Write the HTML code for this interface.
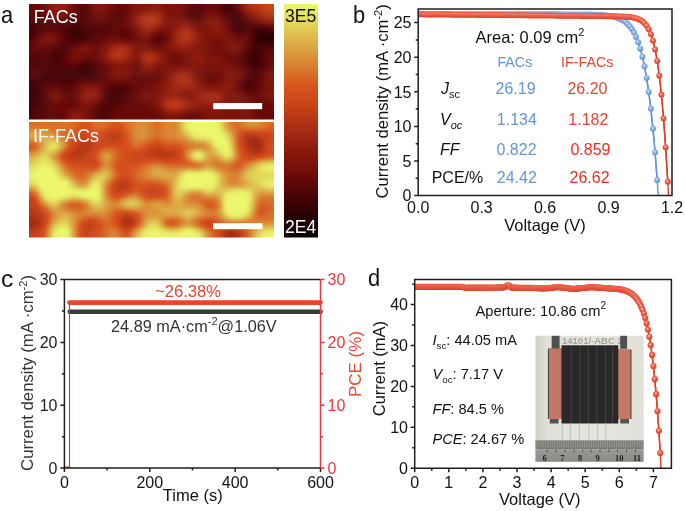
<!DOCTYPE html>
<html><head><meta charset="utf-8"><style>
html,body{margin:0;padding:0;background:#fff;}
body{width:685px;height:511px;overflow:hidden;}
svg{display:block;font-family:"Liberation Sans", sans-serif;will-change:transform;}
</style></head><body>
<svg width="685" height="511" viewBox="0 0 685 511">
<defs><clipPath id="ct"><rect x="29" y="4" width="245" height="115.5"/></clipPath><filter id="ft" x="-20%" y="-20%" width="140%" height="140%" color-interpolation-filters="sRGB"><feGaussianBlur stdDeviation="2.6"/><feComponentTransfer><feFuncR type="table" tableValues="0.0196 0.0570 0.0944 0.1318 0.1691 0.2065 0.2444 0.2829 0.3213 0.3598 0.3975 0.4313 0.4650 0.4947 0.5219 0.5490 0.5797 0.6103 0.6409 0.6716 0.7022 0.7328 0.7635 0.7911 0.8122 0.8333 0.8409 0.8432 0.8455 0.8485 0.8531 0.8576 0.8622 0.8658 0.8692 0.8726 0.8815 0.8961 0.9059 0.9157 0.9255"/><feFuncG type="table" tableValues="0.0000 0.0014 0.0028 0.0042 0.0056 0.0071 0.0103 0.0158 0.0213 0.0268 0.0338 0.0491 0.0645 0.0778 0.0899 0.1020 0.1234 0.1449 0.1650 0.1833 0.2017 0.2255 0.2500 0.2715 0.2866 0.3017 0.3408 0.3892 0.4376 0.4852 0.5308 0.5764 0.6220 0.6686 0.7153 0.7621 0.8091 0.8549 0.8941 0.9333 0.9725"/><feFuncB type="table" tableValues="0.0000 0.0042 0.0085 0.0127 0.0169 0.0212 0.0243 0.0262 0.0280 0.0298 0.0319 0.0349 0.0380 0.0410 0.0440 0.0471 0.0593 0.0716 0.0784 0.0784 0.0784 0.0838 0.0900 0.0960 0.1021 0.1081 0.1231 0.1415 0.1600 0.1798 0.2026 0.2254 0.2482 0.2720 0.2960 0.3199 0.3375 0.3505 0.3775 0.4044 0.4314"/><feFuncA type="identity"/></feComponentTransfer></filter><clipPath id="cb"><rect x="29" y="122" width="245" height="115.5"/></clipPath><filter id="fb" x="-20%" y="-20%" width="140%" height="140%" color-interpolation-filters="sRGB"><feGaussianBlur stdDeviation="2.6"/><feComponentTransfer><feFuncR type="table" tableValues="0.0196 0.0570 0.0944 0.1318 0.1691 0.2065 0.2444 0.2829 0.3213 0.3598 0.3975 0.4313 0.4650 0.4947 0.5219 0.5490 0.5797 0.6103 0.6409 0.6716 0.7022 0.7328 0.7635 0.7911 0.8122 0.8333 0.8409 0.8432 0.8455 0.8485 0.8531 0.8576 0.8622 0.8658 0.8692 0.8726 0.8815 0.8961 0.9059 0.9157 0.9255"/><feFuncG type="table" tableValues="0.0000 0.0014 0.0028 0.0042 0.0056 0.0071 0.0103 0.0158 0.0213 0.0268 0.0338 0.0491 0.0645 0.0778 0.0899 0.1020 0.1234 0.1449 0.1650 0.1833 0.2017 0.2255 0.2500 0.2715 0.2866 0.3017 0.3408 0.3892 0.4376 0.4852 0.5308 0.5764 0.6220 0.6686 0.7153 0.7621 0.8091 0.8549 0.8941 0.9333 0.9725"/><feFuncB type="table" tableValues="0.0000 0.0042 0.0085 0.0127 0.0169 0.0212 0.0243 0.0262 0.0280 0.0298 0.0319 0.0349 0.0380 0.0410 0.0440 0.0471 0.0593 0.0716 0.0784 0.0784 0.0784 0.0838 0.0900 0.0960 0.1021 0.1081 0.1231 0.1415 0.1600 0.1798 0.2026 0.2254 0.2482 0.2720 0.2960 0.3199 0.3375 0.3505 0.3775 0.4044 0.4314"/><feFuncA type="identity"/></feComponentTransfer></filter><linearGradient id="cbar" x1="0" y1="0" x2="0" y2="1"><stop offset="0" stop-color="rgb(236,248,110)"/><stop offset="0.05" stop-color="rgb(231,227,96)"/><stop offset="0.1" stop-color="rgb(224,206,86)"/><stop offset="0.15" stop-color="rgb(221,182,75)"/><stop offset="0.2" stop-color="rgb(219,158,63)"/><stop offset="0.25" stop-color="rgb(217,135,51)"/><stop offset="0.3" stop-color="rgb(215,111,40)"/><stop offset="0.35" stop-color="rgb(214,86,31)"/><stop offset="0.4" stop-color="rgb(207,73,26)"/><stop offset="0.45" stop-color="rgb(194,63,22)"/><stop offset="0.5" stop-color="rgb(179,51,20)"/><stop offset="0.55" stop-color="rgb(163,42,20)"/><stop offset="0.6" stop-color="rgb(147,31,15)"/><stop offset="0.65" stop-color="rgb(133,22,11)"/><stop offset="0.7" stop-color="rgb(118,16,9)"/><stop offset="0.75" stop-color="rgb(101,8,8)"/><stop offset="0.8" stop-color="rgb(81,5,7)"/><stop offset="0.85" stop-color="rgb(62,2,6)"/><stop offset="0.9" stop-color="rgb(43,1,4)"/><stop offset="0.95" stop-color="rgb(24,0,2)"/><stop offset="1" stop-color="rgb(5,0,0)"/></linearGradient><radialGradient id="gr" cx="0.45" cy="0.4" r="0.6" fx="0.42" fy="0.35"><stop offset="0" stop-color="#fbe0d8"/><stop offset="0.35" stop-color="#ec6a52"/><stop offset="1" stop-color="#e23b24"/></radialGradient><radialGradient id="gb" cx="0.45" cy="0.4" r="0.6" fx="0.42" fy="0.35"><stop offset="0" stop-color="#eef4fc"/><stop offset="0.35" stop-color="#8db5e6"/><stop offset="1" stop-color="#5f93d3"/></radialGradient><clipPath id="cpb"><rect x="418.2" y="9" width="253.8" height="186.6"/></clipPath><linearGradient id="phbg" x1="0" y1="0" x2="1" y2="0"><stop offset="0" stop-color="#d2d2ca"/><stop offset="0.1" stop-color="#dedfd7"/><stop offset="0.5" stop-color="#e6e6df"/><stop offset="1" stop-color="#e0e0d8"/></linearGradient><linearGradient id="rul" x1="0" y1="0" x2="0" y2="1"><stop offset="0" stop-color="#9a9892"/><stop offset="1" stop-color="#8e8c86"/></linearGradient><clipPath id="cpd"><rect x="414.7" y="279.5" width="256.7" height="188.7"/></clipPath></defs>
<rect width="685" height="511" fill="#fff"/>
<g clip-path="url(#ct)"><g filter="url(#ft)"><path fill="#181818" d="M258.7 32.9H264.2V38.1H258.7Z"/><path fill="#191919" d="M258.7 37.7H264.2V42.9H258.7Z"/><path fill="#1a1a1a" d="M263.8 32.9H269.3V38.1H263.8Z"/><path fill="#1b1b1b" d="M279.1 32.9H284.6V38.1H279.1Z"/><path fill="#1c1c1c" d="M268.9 32.9H274.4V38.1H268.9ZM274 32.9H279.5V38.1H274ZM263.8 37.7H269.3V42.9H263.8Z"/><path fill="#1d1d1d" d="M268.9 37.7H274.4V42.9H268.9ZM274 37.7H279.5V42.9H274ZM279.1 37.7H284.6V42.9H279.1Z"/><path fill="#202020" d="M258.7 28.1H264.2V33.3H258.7Z"/><path fill="#212121" d="M253.6 32.9H259.1V38.1H253.6Z"/><path fill="#222222" d="M253.6 37.7H259.1V42.9H253.6Z"/><path fill="#232323" d="M85.1 71.4H90.7V76.6H85.1ZM90.2 71.4H95.8V76.6H90.2Z"/><path fill="#242424" d="M253.6 28.1H259.1V33.3H253.6ZM74.9 32.9H80.4V38.1H74.9ZM258.7 42.5H264.2V47.7H258.7ZM253.6 56.9H259.1V62.1H253.6ZM80 71.4H85.5V76.6H80Z"/><path fill="#252525" d="M80 32.9H85.5V38.1H80ZM248.5 52.1H254V57.3H248.5ZM253.6 52.1H259.1V57.3H253.6ZM80 66.6H85.5V71.8H80ZM85.1 66.6H90.7V71.8H85.1ZM23.9 85.8H29.4V91H23.9ZM29 85.8H34.5V91H29ZM29 90.6H34.5V95.8H29ZM29 100.2H34.5V105.5H29Z"/><path fill="#262626" d="M233.2 18.4H238.7V23.6H233.2ZM238.3 23.2H243.8V28.5H238.3ZM74.9 28.1H80.4V33.3H74.9ZM248.5 56.9H254V62.1H248.5ZM253.6 61.8H259.1V67H253.6ZM74.9 71.4H80.4V76.6H74.9ZM18.8 85.8H24.3V91H18.8ZM18.8 90.6H24.3V95.8H18.8ZM23.9 90.6H29.4V95.8H23.9ZM18.8 95.4H24.3V100.7H18.8ZM23.9 95.4H29.4V100.7H23.9ZM29 95.4H34.5V100.7H29ZM18.8 100.2H24.3V105.5H18.8ZM23.9 100.2H29.4V105.5H23.9Z"/><path fill="#272727" d="M238.3 18.4H243.8V23.6H238.3ZM233.2 23.2H238.7V28.5H233.2ZM29 28.1H34.5V33.3H29ZM69.8 28.1H75.3V33.3H69.8ZM263.8 28.1H269.3V33.3H263.8ZM69.8 32.9H75.3V38.1H69.8ZM253.6 42.5H259.1V47.7H253.6ZM253.6 47.3H259.1V52.5H253.6ZM69.8 71.4H75.3V76.6H69.8Z"/><path fill="#282828" d="M18.8 23.2H24.3V28.5H18.8ZM23.9 23.2H29.4V28.5H23.9ZM29 23.2H34.5V28.5H29ZM18.8 28.1H24.3V33.3H18.8ZM23.9 28.1H29.4V33.3H23.9ZM44.3 71.4H49.8V76.6H44.3ZM49.4 71.4H54.9V76.6H49.4ZM54.5 71.4H60V76.6H54.5ZM59.6 71.4H65.1V76.6H59.6ZM64.7 71.4H70.2V76.6H64.7ZM44.3 76.2H49.8V81.4H44.3ZM34.1 85.8H39.6V91H34.1ZM110.7 95.4H116.2V100.7H110.7ZM34.1 100.2H39.6V105.5H34.1Z"/><path fill="#292929" d="M228.1 -5.6H233.6V-0.4H228.1ZM228.1 -0.8H233.6V4.4H228.1ZM223 4H228.5V9.2H223ZM228.1 4H233.6V9.2H228.1ZM279.1 28.1H284.6V33.3H279.1ZM85.1 32.9H90.7V38.1H85.1ZM54.5 52.1H60V57.3H54.5ZM253.6 66.6H259.1V71.8H253.6ZM59.6 76.2H65.1V81.4H59.6ZM64.7 76.2H70.2V81.4H64.7ZM18.8 81H24.3V86.2H18.8ZM23.9 81H29.4V86.2H23.9ZM29 81H34.5V86.2H29ZM34.1 90.6H39.6V95.8H34.1ZM110.7 90.6H116.2V95.8H110.7ZM115.8 90.6H121.3V95.8H115.8ZM34.1 95.4H39.6V100.7H34.1ZM18.8 105.1H24.3V110.3H18.8ZM23.9 105.1H29.4V110.3H23.9ZM29 105.1H34.5V110.3H29Z"/><path fill="#2a2a2a" d="M223 -5.6H228.5V-0.4H223ZM223 -0.8H228.5V4.4H223ZM228.1 8.8H233.6V14H228.1ZM233.2 13.6H238.7V18.8H233.2ZM34.1 23.2H39.6V28.5H34.1ZM268.9 28.1H274.4V33.3H268.9ZM274 28.1H279.5V33.3H274ZM49.4 52.1H54.9V57.3H49.4ZM49.4 56.9H54.9V62.1H49.4ZM54.5 56.9H60V62.1H54.5ZM258.7 61.8H264.2V67H258.7ZM39.2 76.2H44.7V81.4H39.2ZM49.4 76.2H54.9V81.4H49.4ZM54.5 76.2H60V81.4H54.5ZM69.8 76.2H75.3V81.4H69.8ZM248.5 81H254V86.2H248.5ZM115.8 95.4H121.3V100.7H115.8Z"/><path fill="#2b2b2b" d="M69.8 23.2H75.3V28.5H69.8ZM74.9 23.2H80.4V28.5H74.9ZM263.8 42.5H269.3V47.7H263.8ZM258.7 47.3H264.2V52.5H258.7ZM39.2 71.4H44.7V76.6H39.2ZM95.4 71.4H100.9V76.6H95.4ZM34.1 81H39.6V86.2H34.1ZM243.4 81H248.9V86.2H243.4ZM34.1 105.1H39.6V110.3H34.1Z"/><path fill="#2c2c2c" d="M34.1 28.1H39.6V33.3H34.1ZM74.9 37.7H80.4V42.9H74.9ZM248.5 47.3H254V52.5H248.5ZM258.7 52.1H264.2V57.3H258.7ZM258.7 56.9H264.2V62.1H258.7ZM74.9 66.6H80.4V71.8H74.9ZM90.2 66.6H95.8V71.8H90.2ZM74.9 76.2H80.4V81.4H74.9Z"/><path fill="#2d2d2d" d="M223 8.8H228.5V14H223ZM228.1 13.6H233.6V18.8H228.1ZM238.3 28.1H243.8V33.3H238.3ZM69.8 37.7H75.3V42.9H69.8ZM274 42.5H279.5V47.7H274ZM279.1 42.5H284.6V47.7H279.1ZM243.4 56.9H248.9V62.1H243.4ZM85.1 61.8H90.7V67H85.1ZM248.5 61.8H254V67H248.5ZM90.2 76.2H95.8V81.4H90.2ZM243.4 85.8H248.9V91H243.4ZM248.5 85.8H254V91H248.5ZM105.6 95.4H111.1V100.7H105.6Z"/><path fill="#2e2e2e" d="M80 28.1H85.5V33.3H80ZM29 32.9H34.5V38.1H29ZM80 37.7H85.5V42.9H80ZM268.9 42.5H274.4V47.7H268.9ZM54.5 47.3H60V52.5H54.5ZM243.4 52.1H248.9V57.3H243.4ZM80 61.8H85.5V67H80ZM258.7 66.6H264.2V71.8H258.7ZM115.8 85.8H121.3V91H115.8Z"/><path fill="#2f2f2f" d="M39.2 23.2H44.7V28.5H39.2ZM23.9 32.9H29.4V38.1H23.9ZM64.7 32.9H70.2V38.1H64.7ZM59.6 52.1H65.1V57.3H59.6ZM253.6 71.4H259.1V76.6H253.6ZM34.1 76.2H39.6V81.4H34.1ZM80 76.2H85.5V81.4H80ZM85.1 76.2H90.7V81.4H85.1ZM248.5 76.2H254V81.4H248.5ZM39.2 81H44.7V86.2H39.2ZM39.2 90.6H44.7V95.8H39.2ZM120.9 90.6H126.4V95.8H120.9ZM39.2 95.4H44.7V100.7H39.2ZM110.7 100.2H116.2V105.5H110.7Z"/><path fill="#303030" d="M18.8 18.4H24.3V23.6H18.8ZM23.9 18.4H29.4V23.6H23.9ZM29 18.4H34.5V23.6H29ZM34.1 18.4H39.6V23.6H34.1ZM74.9 18.4H80.4V23.6H74.9ZM64.7 28.1H70.2V33.3H64.7ZM233.2 28.1H238.7V33.3H233.2ZM18.8 32.9H24.3V38.1H18.8ZM90.2 32.9H95.8V38.1H90.2ZM64.7 37.7H70.2V42.9H64.7ZM59.6 56.9H65.1V62.1H59.6ZM69.8 66.6H75.3V71.8H69.8ZM120.9 85.8H126.4V91H120.9ZM105.6 90.6H111.1V95.8H105.6ZM39.2 100.2H44.7V105.5H39.2Z"/><path fill="#313131" d="M39.2 18.4H44.7V23.6H39.2ZM228.1 18.4H233.6V23.6H228.1ZM243.4 23.2H248.9V28.5H243.4ZM85.1 37.7H90.7V42.9H85.1ZM49.4 47.3H54.9V52.5H49.4ZM59.6 47.3H65.1V52.5H59.6ZM44.3 56.9H49.8V62.1H44.3ZM44.3 66.6H49.8V71.8H44.3ZM49.4 66.6H54.9V71.8H49.4ZM59.6 66.6H65.1V71.8H59.6ZM64.7 66.6H70.2V71.8H64.7ZM248.5 66.6H254V71.8H248.5ZM18.8 76.2H24.3V81.4H18.8ZM64.7 81H70.2V86.2H64.7ZM39.2 85.8H44.7V91H39.2ZM110.7 85.8H116.2V91H110.7ZM105.6 100.2H111.1V105.5H105.6ZM39.2 105.1H44.7V110.3H39.2ZM18.8 109.9H24.3V115.1H18.8ZM23.9 109.9H29.4V115.1H23.9ZM29 109.9H34.5V115.1H29ZM95.4 114.7H100.9V119.9H95.4ZM95.4 119.5H100.9V124.7H95.4Z"/><path fill="#323232" d="M192.3 13.6H197.8V18.8H192.3ZM238.3 13.6H243.8V18.8H238.3ZM80 23.2H85.5V28.5H80ZM85.1 28.1H90.7V33.3H85.1ZM90.2 28.1H95.8V33.3H90.2ZM248.5 28.1H254V33.3H248.5ZM156.6 37.7H162.1V42.9H156.6ZM248.5 42.5H254V47.7H248.5ZM49.4 61.8H54.9V67H49.4ZM54.5 61.8H60V67H54.5ZM39.2 66.6H44.7V71.8H39.2ZM54.5 66.6H60V71.8H54.5ZM34.1 71.4H39.6V76.6H34.1ZM248.5 71.4H254V76.6H248.5ZM23.9 76.2H29.4V81.4H23.9ZM29 76.2H34.5V81.4H29ZM95.4 76.2H100.9V81.4H95.4ZM59.6 81H65.1V86.2H59.6ZM34.1 109.9H39.6V115.1H34.1ZM100.5 114.7H106V119.9H100.5ZM100.5 119.5H106V124.7H100.5ZM95.4 124.3H100.9V129.5H95.4ZM100.5 124.3H106V129.5H100.5Z"/><path fill="#333333" d="M80 13.6H85.5V18.8H80ZM69.8 18.4H75.3V23.6H69.8ZM80 18.4H85.5V23.6H80ZM44.3 23.2H49.8V28.5H44.3ZM49.4 23.2H54.9V28.5H49.4ZM64.7 23.2H70.2V28.5H64.7ZM253.6 23.2H259.1V28.5H253.6ZM95.4 28.1H100.9V33.3H95.4ZM120.9 32.9H126.4V38.1H120.9ZM44.3 52.1H49.8V57.3H44.3ZM18.8 56.9H24.3V62.1H18.8ZM23.9 56.9H29.4V62.1H23.9ZM29 56.9H34.5V62.1H29ZM34.1 56.9H39.6V62.1H34.1ZM95.4 66.6H100.9V71.8H95.4ZM120.9 95.4H126.4V100.7H120.9ZM115.8 100.2H121.3V105.5H115.8ZM39.2 109.9H44.7V115.1H39.2ZM95.4 109.9H100.9V115.1H95.4ZM100.5 109.9H106V115.1H100.5ZM39.2 114.7H44.7V119.9H39.2ZM39.2 119.5H44.7V124.7H39.2ZM39.2 124.3H44.7V129.5H39.2Z"/><path fill="#343434" d="M80 -5.6H85.5V-0.4H80ZM80 -0.8H85.5V4.4H80ZM80 4H85.5V9.2H80ZM80 8.8H85.5V14H80ZM192.3 8.8H197.8V14H192.3ZM233.2 8.8H238.7V14H233.2ZM44.3 18.4H49.8V23.6H44.3ZM243.4 18.4H248.9V23.6H243.4ZM100.5 28.1H106V33.3H100.5ZM126 32.9H131.5V38.1H126ZM90.2 37.7H95.8V42.9H90.2ZM64.7 42.5H70.2V47.7H64.7ZM39.2 56.9H44.7V62.1H39.2ZM18.8 61.8H24.3V67H18.8ZM23.9 61.8H29.4V67H23.9ZM29 61.8H34.5V67H29ZM34.1 61.8H39.6V67H34.1ZM44.3 61.8H49.8V67H44.3ZM59.6 61.8H65.1V67H59.6ZM90.2 61.8H95.8V67H90.2ZM243.4 61.8H248.9V67H243.4ZM18.8 66.6H24.3V71.8H18.8ZM23.9 66.6H29.4V71.8H23.9ZM34.1 66.6H39.6V71.8H34.1ZM253.6 76.2H259.1V81.4H253.6ZM44.3 81H49.8V86.2H44.3ZM105.6 105.1H111.1V110.3H105.6ZM34.1 114.7H39.6V119.9H34.1ZM18.8 119.5H24.3V124.7H18.8ZM23.9 119.5H29.4V124.7H23.9ZM29 119.5H34.5V124.7H29ZM34.1 119.5H39.6V124.7H34.1ZM18.8 124.3H24.3V129.5H18.8ZM23.9 124.3H29.4V129.5H23.9ZM29 124.3H34.5V129.5H29ZM34.1 124.3H39.6V129.5H34.1Z"/><path fill="#353535" d="M192.3 -5.6H197.8V-0.4H192.3ZM192.3 -0.8H197.8V4.4H192.3ZM192.3 4H197.8V9.2H192.3ZM74.9 13.6H80.4V18.8H74.9ZM54.5 23.2H60V28.5H54.5ZM100.5 23.2H106V28.5H100.5ZM248.5 23.2H254V28.5H248.5ZM59.6 28.1H65.1V33.3H59.6ZM243.4 28.1H248.9V33.3H243.4ZM59.6 42.5H65.1V47.7H59.6ZM263.8 47.3H269.3V52.5H263.8ZM39.2 61.8H44.7V67H39.2ZM29 66.6H34.5V71.8H29ZM18.8 71.4H24.3V76.6H18.8ZM23.9 71.4H29.4V76.6H23.9ZM126 85.8H131.5V91H126ZM100.5 105.1H106V110.3H100.5ZM18.8 114.7H24.3V119.9H18.8ZM23.9 114.7H29.4V119.9H23.9ZM29 114.7H34.5V119.9H29Z"/><path fill="#363636" d="M197.4 -5.6H202.9V-0.4H197.4ZM197.4 -0.8H202.9V4.4H197.4ZM197.4 4H202.9V9.2H197.4ZM197.4 8.8H202.9V14H197.4ZM39.2 13.6H44.7V18.8H39.2ZM115.8 13.6H121.3V18.8H115.8ZM85.1 18.4H90.7V23.6H85.1ZM110.7 18.4H116.2V23.6H110.7ZM59.6 23.2H65.1V28.5H59.6ZM85.1 23.2H90.7V28.5H85.1ZM90.2 23.2H95.8V28.5H90.2ZM95.4 23.2H100.9V28.5H95.4ZM228.1 23.2H233.6V28.5H228.1ZM258.7 23.2H264.2V28.5H258.7ZM34.1 32.9H39.6V38.1H34.1ZM95.4 32.9H100.9V38.1H95.4ZM29 37.7H34.5V42.9H29ZM29 71.4H34.5V76.6H29ZM258.7 71.4H264.2V76.6H258.7ZM243.4 76.2H248.9V81.4H243.4ZM126 90.6H131.5V95.8H126ZM110.7 105.1H116.2V110.3H110.7ZM105.6 109.9H111.1V115.1H105.6Z"/><path fill="#373737" d="M34.1 13.6H39.6V18.8H34.1ZM85.1 13.6H90.7V18.8H85.1ZM197.4 13.6H202.9V18.8H197.4ZM223 13.6H228.5V18.8H223ZM115.8 18.4H121.3V23.6H115.8ZM105.6 23.2H111.1V28.5H105.6ZM39.2 28.1H44.7V33.3H39.2ZM23.9 37.7H29.4V42.9H23.9ZM151.5 37.7H157V42.9H151.5ZM243.4 47.3H248.9V52.5H243.4ZM18.8 52.1H24.3V57.3H18.8ZM23.9 52.1H29.4V57.3H23.9ZM29 52.1H34.5V57.3H29ZM34.1 52.1H39.6V57.3H34.1ZM39.2 52.1H44.7V57.3H39.2ZM64.7 61.8H70.2V67H64.7ZM44.3 105.1H49.8V110.3H44.3ZM44.3 109.9H49.8V115.1H44.3ZM44.3 114.7H49.8V119.9H44.3ZM105.6 114.7H111.1V119.9H105.6ZM44.3 119.5H49.8V124.7H44.3ZM105.6 119.5H111.1V124.7H105.6ZM44.3 124.3H49.8V129.5H44.3ZM105.6 124.3H111.1V129.5H105.6Z"/><path fill="#383838" d="M233.2 -5.6H238.7V-0.4H233.2ZM233.2 -0.8H238.7V4.4H233.2ZM18.8 13.6H24.3V18.8H18.8ZM23.9 13.6H29.4V18.8H23.9ZM29 13.6H34.5V18.8H29ZM110.7 13.6H116.2V18.8H110.7ZM105.6 28.1H111.1V33.3H105.6ZM248.5 32.9H254V38.1H248.5ZM18.8 37.7H24.3V42.9H18.8ZM248.5 37.7H254V42.9H248.5ZM69.8 42.5H75.3V47.7H69.8ZM64.7 47.3H70.2V52.5H64.7ZM69.8 81H75.3V86.2H69.8ZM253.6 81H259.1V86.2H253.6ZM64.7 85.8H70.2V91H64.7ZM100.5 100.2H106V105.5H100.5Z"/><path fill="#393939" d="M85.1 -5.6H90.7V-0.4H85.1ZM85.1 -0.8H90.7V4.4H85.1ZM233.2 4H238.7V9.2H233.2ZM85.1 8.8H90.7V14H85.1ZM187.2 13.6H192.7V18.8H187.2ZM54.5 28.1H60V33.3H54.5ZM54.5 42.5H60V47.7H54.5ZM274 47.3H279.5V52.5H274ZM279.1 47.3H284.6V52.5H279.1ZM85.1 56.9H90.7V62.1H85.1ZM74.9 61.8H80.4V67H74.9ZM243.4 66.6H248.9V71.8H243.4ZM49.4 81H54.9V86.2H49.4ZM54.5 81H60V86.2H54.5ZM105.6 85.8H111.1V91H105.6ZM44.3 100.2H49.8V105.5H44.3ZM95.4 105.1H100.9V110.3H95.4ZM90.2 114.7H95.8V119.9H90.2Z"/><path fill="#3a3a3a" d="M85.1 4H90.7V9.2H85.1ZM217.9 4H223.4V9.2H217.9ZM74.9 8.8H80.4V14H74.9ZM44.3 13.6H49.8V18.8H44.3ZM49.4 18.4H54.9V23.6H49.4ZM64.7 18.4H70.2V23.6H64.7ZM59.6 32.9H65.1V38.1H59.6ZM59.6 37.7H65.1V42.9H59.6ZM95.4 37.7H100.9V42.9H95.4ZM44.3 47.3H49.8V52.5H44.3ZM268.9 47.3H274.4V52.5H268.9ZM263.8 52.1H269.3V57.3H263.8ZM100.5 71.4H106V76.6H100.5ZM115.8 81H121.3V86.2H115.8ZM120.9 81H126.4V86.2H120.9ZM44.3 85.8H49.8V91H44.3ZM59.6 85.8H65.1V91H59.6ZM248.5 90.6H254V95.8H248.5ZM126 95.4H131.5V100.7H126ZM115.8 105.1H121.3V110.3H115.8ZM90.2 119.5H95.8V124.7H90.2ZM90.2 124.3H95.8V129.5H90.2Z"/><path fill="#3b3b3b" d="M74.9 -5.6H80.4V-0.4H74.9ZM217.9 -5.6H223.4V-0.4H217.9ZM217.9 -0.8H223.4V4.4H217.9ZM69.8 13.6H75.3V18.8H69.8ZM105.6 18.4H111.1V23.6H105.6ZM192.3 18.4H197.8V23.6H192.3ZM49.4 28.1H54.9V33.3H49.4ZM100.5 32.9H106V38.1H100.5ZM115.8 32.9H121.3V38.1H115.8ZM156.6 32.9H162.1V38.1H156.6ZM238.3 32.9H243.8V38.1H238.3ZM64.7 52.1H70.2V57.3H64.7ZM64.7 56.9H70.2V62.1H64.7ZM90.2 56.9H95.8V62.1H90.2ZM238.3 56.9H243.8V62.1H238.3ZM69.8 61.8H75.3V67H69.8ZM95.4 61.8H100.9V67H95.4ZM263.8 61.8H269.3V67H263.8ZM100.5 66.6H106V71.8H100.5ZM243.4 71.4H248.9V76.6H243.4ZM44.3 95.4H49.8V100.7H44.3ZM120.9 100.2H126.4V105.5H120.9Z"/><path fill="#3c3c3c" d="M74.9 -0.8H80.4V4.4H74.9ZM74.9 4H80.4V9.2H74.9ZM39.2 8.8H44.7V14H39.2ZM187.2 8.8H192.7V14H187.2ZM120.9 13.6H126.4V18.8H120.9ZM54.5 18.4H60V23.6H54.5ZM90.2 18.4H95.8V23.6H90.2ZM110.7 23.2H116.2V28.5H110.7ZM44.3 28.1H49.8V33.3H44.3ZM161.7 37.7H167.2V42.9H161.7ZM156.6 42.5H162.1V47.7H156.6ZM263.8 56.9H269.3V62.1H263.8ZM238.3 61.8H243.8V67H238.3ZM126 81H131.5V86.2H126ZM238.3 81H243.8V86.2H238.3ZM238.3 85.8H243.8V91H238.3ZM253.6 85.8H259.1V91H253.6ZM44.3 90.6H49.8V95.8H44.3ZM90.2 109.9H95.8V115.1H90.2ZM110.7 109.9H116.2V115.1H110.7ZM187.2 114.7H192.7V119.9H187.2Z"/><path fill="#3d3d3d" d="M187.2 -5.6H192.7V-0.4H187.2ZM187.2 -0.8H192.7V4.4H187.2ZM187.2 4H192.7V9.2H187.2ZM202.5 4H208V9.2H202.5ZM115.8 8.8H121.3V14H115.8ZM59.6 18.4H65.1V23.6H59.6ZM120.9 18.4H126.4V23.6H120.9ZM120.9 28.1H126.4V33.3H120.9ZM34.1 37.7H39.6V42.9H34.1ZM151.5 42.5H157V47.7H151.5ZM100.5 76.2H106V81.4H100.5ZM110.7 81H116.2V86.2H110.7ZM64.7 90.6H70.2V95.8H64.7ZM131.1 90.6H136.6V95.8H131.1ZM100.5 95.4H106V100.7H100.5ZM192.3 114.7H197.8V119.9H192.3Z"/><path fill="#3e3e3e" d="M202.5 -5.6H208V-0.4H202.5ZM202.5 -0.8H208V4.4H202.5ZM34.1 8.8H39.6V14H34.1ZM217.9 8.8H223.4V14H217.9ZM95.4 18.4H100.9V23.6H95.4ZM100.5 18.4H106V23.6H100.5ZM197.4 18.4H202.9V23.6H197.4ZM228.1 28.1H233.6V33.3H228.1ZM105.6 32.9H111.1V38.1H105.6ZM131.1 32.9H136.6V38.1H131.1ZM161.7 32.9H167.2V38.1H161.7ZM233.2 32.9H238.7V38.1H233.2ZM243.4 42.5H248.9V47.7H243.4ZM141.3 76.2H146.8V81.4H141.3ZM258.7 76.2H264.2V81.4H258.7ZM131.1 85.8H136.6V91H131.1ZM243.4 90.6H248.9V95.8H243.4ZM253.6 90.6H259.1V95.8H253.6ZM69.8 95.4H75.3V100.7H69.8ZM131.1 95.4H136.6V100.7H131.1ZM69.8 100.2H75.3V105.5H69.8ZM49.4 105.1H54.9V110.3H49.4ZM49.4 109.9H54.9V115.1H49.4Z"/><path fill="#3f3f3f" d="M39.2 -5.6H44.7V-0.4H39.2ZM39.2 -0.8H44.7V4.4H39.2ZM18.8 8.8H24.3V14H18.8ZM23.9 8.8H29.4V14H23.9ZM29 8.8H34.5V14H29ZM120.9 8.8H126.4V14H120.9ZM223 18.4H228.5V23.6H223ZM115.8 23.2H121.3V28.5H115.8ZM263.8 23.2H269.3V28.5H263.8ZM110.7 28.1H116.2V33.3H110.7ZM126 28.1H131.5V33.3H126ZM110.7 32.9H116.2V38.1H110.7ZM29 42.5H34.5V47.7H29ZM49.4 42.5H54.9V47.7H49.4ZM74.9 42.5H80.4V47.7H74.9ZM34.1 47.3H39.6V52.5H34.1ZM39.2 47.3H44.7V52.5H39.2ZM238.3 52.1H243.8V57.3H238.3ZM279.1 52.1H284.6V57.3H279.1ZM80 56.9H85.5V62.1H80ZM263.8 66.6H269.3V71.8H263.8ZM146.4 76.2H151.9V81.4H146.4ZM74.9 81H80.4V86.2H74.9ZM141.3 81H146.8V86.2H141.3ZM69.8 85.8H75.3V91H69.8ZM69.8 90.6H75.3V95.8H69.8ZM141.3 105.1H146.8V110.3H141.3ZM49.4 114.7H54.9V119.9H49.4ZM59.6 114.7H65.1V119.9H59.6ZM110.7 114.7H116.2V119.9H110.7ZM151.5 114.7H157V119.9H151.5ZM49.4 119.5H54.9V124.7H49.4ZM59.6 119.5H65.1V124.7H59.6ZM110.7 119.5H116.2V124.7H110.7ZM187.2 119.5H192.7V124.7H187.2ZM192.3 119.5H197.8V124.7H192.3ZM49.4 124.3H54.9V129.5H49.4ZM59.6 124.3H65.1V129.5H59.6ZM110.7 124.3H116.2V129.5H110.7Z"/><path fill="#404040" d="M34.1 -5.6H39.6V-0.4H34.1ZM115.8 -5.6H121.3V-0.4H115.8ZM120.9 -5.6H126.4V-0.4H120.9ZM115.8 -0.8H121.3V4.4H115.8ZM120.9 -0.8H126.4V4.4H120.9ZM39.2 4H44.7V9.2H39.2ZM115.8 4H121.3V9.2H115.8ZM120.9 4H126.4V9.2H120.9ZM120.9 23.2H126.4V28.5H120.9ZM243.4 32.9H248.9V38.1H243.4ZM126 37.7H131.5V42.9H126ZM18.8 42.5H24.3V47.7H18.8ZM23.9 42.5H29.4V47.7H23.9ZM90.2 42.5H95.8V47.7H90.2ZM95.4 42.5H100.9V47.7H95.4ZM18.8 47.3H24.3V52.5H18.8ZM23.9 47.3H29.4V52.5H23.9ZM29 47.3H34.5V52.5H29ZM274 52.1H279.5V57.3H274ZM279.1 61.8H284.6V67H279.1ZM136.2 76.2H141.7V81.4H136.2ZM105.6 81H111.1V86.2H105.6ZM131.1 81H136.6V86.2H131.1ZM64.7 95.4H70.2V100.7H64.7ZM64.7 100.2H70.2V105.5H64.7ZM126 100.2H131.5V105.5H126ZM120.9 105.1H126.4V110.3H120.9ZM258.7 105.1H264.2V110.3H258.7ZM263.8 105.1H269.3V110.3H263.8ZM268.9 105.1H274.4V110.3H268.9ZM274 105.1H279.5V110.3H274ZM279.1 105.1H284.6V110.3H279.1ZM59.6 109.9H65.1V115.1H59.6ZM115.8 109.9H121.3V115.1H115.8ZM258.7 109.9H264.2V115.1H258.7ZM258.7 114.7H264.2V119.9H258.7ZM151.5 119.5H157V124.7H151.5ZM258.7 119.5H264.2V124.7H258.7ZM151.5 124.3H157V129.5H151.5ZM187.2 124.3H192.7V129.5H187.2ZM192.3 124.3H197.8V129.5H192.3ZM258.7 124.3H264.2V129.5H258.7Z"/><path fill="#414141" d="M18.8 -5.6H24.3V-0.4H18.8ZM23.9 -5.6H29.4V-0.4H23.9ZM29 -5.6H34.5V-0.4H29ZM34.1 -0.8H39.6V4.4H34.1ZM34.1 4H39.6V9.2H34.1ZM202.5 8.8H208V14H202.5ZM248.5 18.4H254V23.6H248.5ZM115.8 28.1H121.3V33.3H115.8ZM34.1 42.5H39.6V47.7H34.1ZM90.2 52.1H95.8V57.3H90.2ZM268.9 52.1H274.4V57.3H268.9ZM274 61.8H279.5V67H274ZM238.3 66.6H243.8V71.8H238.3ZM136.2 71.4H141.7V76.6H136.2ZM151.5 76.2H157V81.4H151.5ZM207.6 76.2H213.2V81.4H207.6ZM212.8 76.2H218.3V81.4H212.8ZM136.2 81H141.7V86.2H136.2ZM100.5 90.6H106V95.8H100.5ZM253.6 95.4H259.1V100.7H253.6ZM131.1 100.2H136.6V105.5H131.1ZM258.7 100.2H264.2V105.5H258.7ZM54.5 105.1H60V110.3H54.5ZM59.6 105.1H65.1V110.3H59.6ZM90.2 105.1H95.8V110.3H90.2ZM136.2 105.1H141.7V110.3H136.2ZM54.5 109.9H60V115.1H54.5ZM120.9 109.9H126.4V115.1H120.9ZM131.1 109.9H136.6V115.1H131.1ZM136.2 109.9H141.7V115.1H136.2ZM141.3 109.9H146.8V115.1H141.3ZM146.4 109.9H151.9V115.1H146.4ZM263.8 109.9H269.3V115.1H263.8ZM268.9 109.9H274.4V115.1H268.9ZM274 109.9H279.5V115.1H274ZM279.1 109.9H284.6V115.1H279.1ZM54.5 114.7H60V119.9H54.5ZM126 114.7H131.5V119.9H126ZM131.1 114.7H136.6V119.9H131.1ZM136.2 114.7H141.7V119.9H136.2ZM141.3 114.7H146.8V119.9H141.3ZM146.4 114.7H151.9V119.9H146.4ZM182.1 114.7H187.6V119.9H182.1ZM263.8 114.7H269.3V119.9H263.8ZM268.9 114.7H274.4V119.9H268.9ZM274 114.7H279.5V119.9H274ZM279.1 114.7H284.6V119.9H279.1ZM54.5 119.5H60V124.7H54.5ZM126 119.5H131.5V124.7H126ZM131.1 119.5H136.6V124.7H131.1ZM136.2 119.5H141.7V124.7H136.2ZM141.3 119.5H146.8V124.7H141.3ZM146.4 119.5H151.9V124.7H146.4ZM263.8 119.5H269.3V124.7H263.8ZM268.9 119.5H274.4V124.7H268.9ZM274 119.5H279.5V124.7H274ZM279.1 119.5H284.6V124.7H279.1ZM54.5 124.3H60V129.5H54.5ZM126 124.3H131.5V129.5H126ZM131.1 124.3H136.6V129.5H131.1ZM136.2 124.3H141.7V129.5H136.2ZM141.3 124.3H146.8V129.5H141.3ZM146.4 124.3H151.9V129.5H146.4ZM263.8 124.3H269.3V129.5H263.8ZM268.9 124.3H274.4V129.5H268.9ZM274 124.3H279.5V129.5H274ZM279.1 124.3H284.6V129.5H279.1Z"/><path fill="#424242" d="M18.8 -0.8H24.3V4.4H18.8ZM23.9 -0.8H29.4V4.4H23.9ZM29 -0.8H34.5V4.4H29ZM207.6 -0.8H213.2V4.4H207.6ZM18.8 4H24.3V9.2H18.8ZM23.9 4H29.4V9.2H23.9ZM29 4H34.5V9.2H29ZM207.6 4H213.2V9.2H207.6ZM212.8 4H218.3V9.2H212.8ZM110.7 8.8H116.2V14H110.7ZM90.2 13.6H95.8V18.8H90.2ZM105.6 13.6H111.1V18.8H105.6ZM182.1 13.6H187.6V18.8H182.1ZM279.1 23.2H284.6V28.5H279.1ZM151.5 32.9H157V38.1H151.5ZM100.5 37.7H106V42.9H100.5ZM131.1 37.7H136.6V42.9H131.1ZM228.1 56.9H233.6V62.1H228.1ZM233.2 56.9H238.7V62.1H233.2ZM274 56.9H279.5V62.1H274ZM279.1 56.9H284.6V62.1H279.1ZM268.9 61.8H274.4V67H268.9ZM131.1 66.6H136.6V71.8H131.1ZM207.6 71.4H213.2V76.6H207.6ZM212.8 71.4H218.3V76.6H212.8ZM146.4 81H151.9V86.2H146.4ZM49.4 100.2H54.9V105.5H49.4ZM136.2 100.2H141.7V105.5H136.2ZM131.1 105.1H136.6V110.3H131.1ZM146.4 105.1H151.9V110.3H146.4ZM126 109.9H131.5V115.1H126ZM151.5 109.9H157V115.1H151.5ZM120.9 114.7H126.4V119.9H120.9ZM115.8 119.5H121.3V124.7H115.8ZM120.9 119.5H126.4V124.7H120.9ZM115.8 124.3H121.3V129.5H115.8ZM120.9 124.3H126.4V129.5H120.9Z"/><path fill="#434343" d="M207.6 -5.6H213.2V-0.4H207.6ZM212.8 -5.6H218.3V-0.4H212.8ZM212.8 -0.8H218.3V4.4H212.8ZM268.9 23.2H274.4V28.5H268.9ZM274 23.2H279.5V28.5H274ZM120.9 37.7H126.4V42.9H120.9ZM69.8 47.3H75.3V52.5H69.8ZM171.9 56.9H177.4V62.1H171.9ZM177 56.9H182.5V62.1H177ZM105.6 66.6H111.1V71.8H105.6ZM151.5 71.4H157V76.6H151.5ZM136.2 85.8H141.7V91H136.2ZM59.6 90.6H65.1V95.8H59.6ZM59.6 100.2H65.1V105.5H59.6ZM141.3 100.2H146.8V105.5H141.3ZM64.7 105.1H70.2V110.3H64.7ZM126 105.1H131.5V110.3H126ZM115.8 114.7H121.3V119.9H115.8ZM156.6 114.7H162.1V119.9H156.6ZM197.4 114.7H202.9V119.9H197.4Z"/><path fill="#444444" d="M243.4 13.6H248.9V18.8H243.4ZM243.4 37.7H248.9V42.9H243.4ZM228.1 52.1H233.6V57.3H228.1ZM268.9 56.9H274.4V62.1H268.9ZM100.5 61.8H106V67H100.5ZM233.2 61.8H238.7V67H233.2ZM131.1 71.4H136.6V76.6H131.1ZM131.1 76.2H136.6V81.4H131.1ZM100.5 81H106V86.2H100.5ZM141.3 85.8H146.8V91H141.3ZM248.5 95.4H254V100.7H248.5ZM258.7 95.4H264.2V100.7H258.7ZM74.9 100.2H80.4V105.5H74.9ZM95.4 100.2H100.9V105.5H95.4ZM253.6 100.2H259.1V105.5H253.6ZM263.8 100.2H269.3V105.5H263.8ZM156.6 119.5H162.1V124.7H156.6ZM182.1 119.5H187.6V124.7H182.1ZM197.4 119.5H202.9V124.7H197.4Z"/><path fill="#454545" d="M110.7 -5.6H116.2V-0.4H110.7ZM126 -5.6H131.5V-0.4H126ZM110.7 -0.8H116.2V4.4H110.7ZM126 -0.8H131.5V4.4H126ZM126 4H131.5V9.2H126ZM44.3 8.8H49.8V14H44.3ZM182.1 8.8H187.6V14H182.1ZM44.3 42.5H49.8V47.7H44.3ZM212.8 42.5H218.3V47.7H212.8ZM90.2 47.3H95.8V52.5H90.2ZM95.4 47.3H100.9V52.5H95.4ZM217.9 47.3H223.4V52.5H217.9ZM85.1 52.1H90.7V57.3H85.1ZM95.4 56.9H100.9V62.1H95.4ZM136.2 66.6H141.7V71.8H136.2ZM274 66.6H279.5V71.8H274ZM279.1 66.6H284.6V71.8H279.1ZM156.6 71.4H162.1V76.6H156.6ZM105.6 76.2H111.1V81.4H105.6ZM258.7 81H264.2V86.2H258.7ZM49.4 85.8H54.9V91H49.4ZM54.5 85.8H60V91H54.5ZM100.5 85.8H106V91H100.5ZM136.2 90.6H141.7V95.8H136.2ZM136.2 95.4H141.7V100.7H136.2ZM268.9 100.2H274.4V105.5H268.9ZM274 100.2H279.5V105.5H274ZM279.1 100.2H284.6V105.5H279.1ZM253.6 105.1H259.1V110.3H253.6ZM253.6 109.9H259.1V115.1H253.6ZM253.6 114.7H259.1V119.9H253.6ZM253.6 119.5H259.1V124.7H253.6ZM156.6 124.3H162.1V129.5H156.6ZM182.1 124.3H187.6V129.5H182.1ZM197.4 124.3H202.9V129.5H197.4ZM253.6 124.3H259.1V129.5H253.6Z"/><path fill="#464646" d="M182.1 -5.6H187.6V-0.4H182.1ZM182.1 -0.8H187.6V4.4H182.1ZM110.7 4H116.2V9.2H110.7ZM182.1 4H187.6V9.2H182.1ZM69.8 8.8H75.3V14H69.8ZM126 8.8H131.5V14H126ZM238.3 8.8H243.8V14H238.3ZM49.4 13.6H54.9V18.8H49.4ZM64.7 13.6H70.2V18.8H64.7ZM126 23.2H131.5V28.5H126ZM238.3 37.7H243.8V42.9H238.3ZM39.2 42.5H44.7V47.7H39.2ZM217.9 42.5H223.4V47.7H217.9ZM212.8 47.3H218.3V52.5H212.8ZM223 52.1H228.5V57.3H223ZM131.1 61.8H136.6V67H131.1ZM105.6 71.4H111.1V76.6H105.6ZM141.3 71.4H146.8V76.6H141.3ZM202.5 71.4H208V76.6H202.5ZM202.5 76.2H208V81.4H202.5ZM80 81H85.5V86.2H80ZM258.7 90.6H264.2V95.8H258.7ZM59.6 95.4H65.1V100.7H59.6ZM54.5 100.2H60V105.5H54.5ZM69.8 105.1H75.3V110.3H69.8Z"/><path fill="#474747" d="M207.6 8.8H213.2V14H207.6ZM212.8 8.8H218.3V14H212.8ZM95.4 13.6H100.9V18.8H95.4ZM100.5 13.6H106V18.8H100.5ZM187.2 18.4H192.7V23.6H187.2ZM223 23.2H228.5V28.5H223ZM136.2 37.7H141.7V42.9H136.2ZM233.2 52.1H238.7V57.3H233.2ZM223 56.9H228.5V62.1H223ZM268.9 66.6H274.4V71.8H268.9ZM146.4 71.4H151.9V76.6H146.4ZM217.9 71.4H223.4V76.6H217.9ZM156.6 76.2H162.1V81.4H156.6ZM217.9 76.2H223.4V81.4H217.9ZM95.4 81H100.9V86.2H95.4ZM258.7 85.8H264.2V91H258.7ZM74.9 95.4H80.4V100.7H74.9ZM64.7 109.9H70.2V115.1H64.7Z"/><path fill="#484848" d="M44.3 -5.6H49.8V-0.4H44.3ZM126 13.6H131.5V18.8H126ZM217.9 13.6H223.4V18.8H217.9ZM126 18.4H131.5V23.6H126ZM131.1 28.1H136.6V33.3H131.1ZM39.2 32.9H44.7V38.1H39.2ZM105.6 37.7H111.1V42.9H105.6ZM161.7 42.5H167.2V47.7H161.7ZM95.4 52.1H100.9V57.3H95.4ZM171.9 52.1H177.4V57.3H171.9ZM146.4 85.8H151.9V91H146.4ZM146.4 100.2H151.9V105.5H146.4ZM192.3 109.9H197.8V115.1H192.3Z"/><path fill="#494949" d="M69.8 -5.6H75.3V-0.4H69.8ZM44.3 -0.8H49.8V4.4H44.3ZM202.5 13.6H208V18.8H202.5ZM54.5 32.9H60V38.1H54.5ZM80 42.5H85.5V47.7H80ZM85.1 42.5H90.7V47.7H85.1ZM100.5 42.5H106V47.7H100.5ZM177 52.1H182.5V57.3H177ZM233.2 66.6H238.7V71.8H233.2ZM263.8 71.4H269.3V76.6H263.8ZM238.3 76.2H243.8V81.4H238.3ZM90.2 81H95.8V86.2H90.2ZM74.9 85.8H80.4V91H74.9ZM74.9 90.6H80.4V95.8H74.9ZM151.5 105.1H157V110.3H151.5ZM64.7 114.7H70.2V119.9H64.7ZM64.7 119.5H70.2V124.7H64.7ZM64.7 124.3H70.2V129.5H64.7Z"/><path fill="#4a4a4a" d="M69.8 -0.8H75.3V4.4H69.8ZM44.3 4H49.8V9.2H44.3ZM90.2 8.8H95.8V14H90.2ZM197.4 23.2H202.9V28.5H197.4ZM136.2 32.9H141.7V38.1H136.2ZM54.5 37.7H60V42.9H54.5ZM115.8 37.7H121.3V42.9H115.8ZM146.4 37.7H151.9V42.9H146.4ZM146.4 42.5H151.9V47.7H146.4ZM238.3 47.3H243.8V52.5H238.3ZM126 76.2H131.5V81.4H126ZM85.1 81H90.7V86.2H85.1ZM151.5 81H157V86.2H151.5ZM207.6 81H213.2V86.2H207.6ZM212.8 81H218.3V86.2H212.8ZM238.3 90.6H243.8V95.8H238.3ZM243.4 95.4H248.9V100.7H243.4ZM156.6 109.9H162.1V115.1H156.6ZM187.2 109.9H192.7V115.1H187.2Z"/><path fill="#4b4b4b" d="M69.8 4H75.3V9.2H69.8ZM54.5 13.6H60V18.8H54.5ZM59.6 13.6H65.1V18.8H59.6ZM228.1 32.9H233.6V38.1H228.1ZM110.7 37.7H116.2V42.9H110.7ZM233.2 37.7H238.7V42.9H233.2ZM80 52.1H85.5V57.3H80ZM69.8 56.9H75.3V62.1H69.8ZM238.3 71.4H243.8V76.6H238.3ZM110.7 76.2H116.2V81.4H110.7ZM74.9 105.1H80.4V110.3H74.9ZM197.4 109.9H202.9V115.1H197.4ZM85.1 114.7H90.7V119.9H85.1ZM177 114.7H182.5V119.9H177ZM85.1 119.5H90.7V124.7H85.1ZM85.1 124.3H90.7V129.5H85.1Z"/><path fill="#4c4c4c" d="M90.2 -5.6H95.8V-0.4H90.2ZM105.6 8.8H111.1V14H105.6ZM238.3 42.5H243.8V47.7H238.3ZM74.9 47.3H80.4V52.5H74.9ZM223 47.3H228.5V52.5H223ZM217.9 52.1H223.4V57.3H217.9ZM74.9 56.9H80.4V62.1H74.9ZM182.1 56.9H187.6V62.1H182.1ZM136.2 61.8H141.7V67H136.2ZM177 61.8H182.5V67H177ZM228.1 61.8H233.6V67H228.1ZM156.6 66.6H162.1V71.8H156.6ZM161.7 71.4H167.2V76.6H161.7ZM197.4 71.4H202.9V76.6H197.4ZM233.2 85.8H238.7V91H233.2ZM49.4 95.4H54.9V100.7H49.4ZM263.8 95.4H269.3V100.7H263.8ZM85.1 109.9H90.7V115.1H85.1ZM161.7 114.7H167.2V119.9H161.7Z"/><path fill="#4d4d4d" d="M238.3 -5.6H243.8V-0.4H238.3ZM90.2 -0.8H95.8V4.4H90.2ZM90.2 4H95.8V9.2H90.2ZM166.8 32.9H172.3V38.1H166.8ZM39.2 37.7H44.7V42.9H39.2ZM69.8 52.1H75.3V57.3H69.8ZM166.8 56.9H172.3V62.1H166.8ZM171.9 61.8H177.4V67H171.9ZM110.7 66.6H116.2V71.8H110.7ZM126 66.6H131.5V71.8H126ZM233.2 81H238.7V86.2H233.2ZM49.4 90.6H54.9V95.8H49.4ZM141.3 95.4H146.8V100.7H141.3ZM248.5 100.2H254V105.5H248.5Z"/><path fill="#4e4e4e" d="M238.3 -0.8H243.8V4.4H238.3ZM131.1 4H136.6V9.2H131.1ZM177 13.6H182.5V18.8H177ZM202.5 18.4H208V23.6H202.5ZM161.7 28.1H167.2V33.3H161.7ZM223 28.1H228.5V33.3H223ZM166.8 37.7H172.3V42.9H166.8ZM212.8 37.7H218.3V42.9H212.8ZM136.2 42.5H141.7V47.7H136.2ZM156.6 47.3H162.1V52.5H156.6ZM105.6 61.8H111.1V67H105.6ZM212.8 66.6H218.3V71.8H212.8ZM115.8 76.2H121.3V81.4H115.8ZM120.9 76.2H126.4V81.4H120.9ZM263.8 76.2H269.3V81.4H263.8ZM141.3 90.6H146.8V95.8H141.3ZM151.5 100.2H157V105.5H151.5ZM85.1 105.1H90.7V110.3H85.1ZM202.5 114.7H208V119.9H202.5ZM161.7 119.5H167.2V124.7H161.7ZM177 119.5H182.5V124.7H177Z"/><path fill="#4f4f4f" d="M105.6 -5.6H111.1V-0.4H105.6ZM131.1 -5.6H136.6V-0.4H131.1ZM131.1 -0.8H136.6V4.4H131.1ZM141.3 4H146.8V9.2H141.3ZM177 8.8H182.5V14H177ZM182.1 18.4H187.6V23.6H182.1ZM141.3 37.7H146.8V42.9H141.3ZM217.9 37.7H223.4V42.9H217.9ZM207.6 42.5H213.2V47.7H207.6ZM207.6 47.3H213.2V52.5H207.6ZM166.8 52.1H172.3V57.3H166.8ZM182.1 61.8H187.6V67H182.1ZM202.5 66.6H208V71.8H202.5ZM207.6 66.6H213.2V71.8H207.6ZM223 71.4H228.5V76.6H223ZM279.1 71.4H284.6V76.6H279.1ZM54.5 90.6H60V95.8H54.5ZM279.1 95.4H284.6V100.7H279.1ZM90.2 100.2H95.8V105.5H90.2ZM248.5 114.7H254V119.9H248.5ZM202.5 119.5H208V124.7H202.5ZM248.5 119.5H254V124.7H248.5ZM161.7 124.3H167.2V129.5H161.7ZM177 124.3H182.5V129.5H177ZM202.5 124.3H208V129.5H202.5ZM248.5 124.3H254V129.5H248.5Z"/><path fill="#505050" d="M177 -5.6H182.5V-0.4H177ZM105.6 -0.8H111.1V4.4H105.6ZM177 -0.8H182.5V4.4H177ZM105.6 4H111.1V9.2H105.6ZM177 4H182.5V9.2H177ZM238.3 4H243.8V9.2H238.3ZM166.8 13.6H172.3V18.8H166.8ZM253.6 18.4H259.1V23.6H253.6ZM202.5 23.2H208V28.5H202.5ZM141.3 42.5H146.8V47.7H141.3ZM85.1 47.3H90.7V52.5H85.1ZM212.8 52.1H218.3V57.3H212.8ZM151.5 66.6H157V71.8H151.5ZM161.7 66.6H167.2V71.8H161.7ZM197.4 66.6H202.9V71.8H197.4ZM217.9 66.6H223.4V71.8H217.9ZM126 71.4H131.5V76.6H126ZM274 71.4H279.5V76.6H274ZM161.7 76.2H167.2V81.4H161.7ZM197.4 76.2H202.9V81.4H197.4ZM202.5 81H208V86.2H202.5ZM263.8 81H269.3V86.2H263.8ZM151.5 85.8H157V91H151.5ZM263.8 85.8H269.3V91H263.8ZM263.8 90.6H269.3V95.8H263.8ZM54.5 95.4H60V100.7H54.5ZM228.1 95.4H233.6V100.7H228.1ZM268.9 95.4H274.4V100.7H268.9ZM274 95.4H279.5V100.7H274ZM248.5 105.1H254V110.3H248.5ZM248.5 109.9H254V115.1H248.5ZM171.9 114.7H177.4V119.9H171.9Z"/><path fill="#515151" d="M141.3 -0.8H146.8V4.4H141.3ZM100.5 8.8H106V14H100.5ZM166.8 8.8H172.3V14H166.8ZM212.8 13.6H218.3V18.8H212.8ZM166.8 18.4H172.3V23.6H166.8ZM131.1 23.2H136.6V28.5H131.1ZM192.3 23.2H197.8V28.5H192.3ZM44.3 32.9H49.8V38.1H44.3ZM49.4 32.9H54.9V38.1H49.4ZM207.6 37.7H213.2V42.9H207.6ZM223 42.5H228.5V47.7H223ZM100.5 47.3H106V52.5H100.5ZM151.5 47.3H157V52.5H151.5ZM228.1 47.3H233.6V52.5H228.1ZM207.6 52.1H213.2V57.3H207.6ZM217.9 56.9H223.4V62.1H217.9ZM166.8 61.8H172.3V67H166.8ZM223 61.8H228.5V67H223ZM228.1 66.6H233.6V71.8H228.1ZM110.7 71.4H116.2V76.6H110.7ZM268.9 71.4H274.4V76.6H268.9ZM233.2 90.6H238.7V95.8H233.2ZM151.5 95.4H157V100.7H151.5ZM228.1 100.2H233.6V105.5H228.1ZM80 105.1H85.5V110.3H80ZM182.1 109.9H187.6V115.1H182.1ZM166.8 114.7H172.3V119.9H166.8Z"/><path fill="#525252" d="M141.3 -5.6H146.8V-0.4H141.3ZM166.8 -5.6H172.3V-0.4H166.8ZM166.8 -0.8H172.3V4.4H166.8ZM136.2 4H141.7V9.2H136.2ZM166.8 4H172.3V9.2H166.8ZM95.4 8.8H100.9V14H95.4ZM131.1 8.8H136.6V14H131.1ZM171.9 13.6H177.4V18.8H171.9ZM207.6 13.6H213.2V18.8H207.6ZM217.9 18.4H223.4V23.6H217.9ZM202.5 28.1H208V33.3H202.5ZM49.4 37.7H54.9V42.9H49.4ZM228.1 37.7H233.6V42.9H228.1ZM80 47.3H85.5V52.5H80ZM161.7 47.3H167.2V52.5H161.7ZM74.9 52.1H80.4V57.3H74.9ZM182.1 52.1H187.6V57.3H182.1ZM131.1 56.9H136.6V62.1H131.1ZM187.2 61.8H192.7V67H187.2ZM115.8 66.6H121.3V71.8H115.8ZM217.9 81H223.4V86.2H217.9ZM146.4 90.6H151.9V95.8H146.4ZM151.5 90.6H157V95.8H151.5ZM146.4 95.4H151.9V100.7H146.4ZM238.3 95.4H243.8V100.7H238.3ZM243.4 100.2H248.9V105.5H243.4ZM228.1 105.1H233.6V110.3H228.1ZM233.2 105.1H238.7V110.3H233.2ZM212.8 114.7H218.3V119.9H212.8ZM217.9 114.7H223.4V119.9H217.9Z"/><path fill="#535353" d="M136.2 -0.8H141.7V4.4H136.2ZM171.9 8.8H177.4V14H171.9ZM166.8 28.1H172.3V33.3H166.8ZM207.6 32.9H213.2V38.1H207.6ZM223 32.9H228.5V38.1H223ZM233.2 47.3H238.7V52.5H233.2ZM207.6 56.9H213.2V62.1H207.6ZM120.9 66.6H126.4V71.8H120.9ZM192.3 66.6H197.8V71.8H192.3ZM228.1 71.4H233.6V76.6H228.1ZM233.2 71.4H238.7V76.6H233.2ZM223 76.2H228.5V81.4H223ZM156.6 81H162.1V86.2H156.6ZM279.1 81H284.6V86.2H279.1ZM279.1 85.8H284.6V91H279.1ZM80 100.2H85.5V105.5H80ZM233.2 100.2H238.7V105.5H233.2ZM238.3 100.2H243.8V105.5H238.3ZM202.5 109.9H208V115.1H202.5ZM223 109.9H228.5V115.1H223ZM228.1 109.9H233.6V115.1H228.1ZM233.2 109.9H238.7V115.1H233.2ZM238.3 109.9H243.8V115.1H238.3ZM207.6 114.7H213.2V119.9H207.6ZM223 114.7H228.5V119.9H223ZM228.1 114.7H233.6V119.9H228.1ZM233.2 114.7H238.7V119.9H233.2ZM238.3 114.7H243.8V119.9H238.3ZM166.8 119.5H172.3V124.7H166.8ZM171.9 119.5H177.4V124.7H171.9ZM212.8 119.5H218.3V124.7H212.8ZM217.9 119.5H223.4V124.7H217.9ZM223 119.5H228.5V124.7H223ZM228.1 119.5H233.6V124.7H228.1ZM233.2 119.5H238.7V124.7H233.2ZM238.3 119.5H243.8V124.7H238.3ZM212.8 124.3H218.3V129.5H212.8ZM217.9 124.3H223.4V129.5H217.9ZM223 124.3H228.5V129.5H223ZM228.1 124.3H233.6V129.5H228.1ZM233.2 124.3H238.7V129.5H233.2ZM238.3 124.3H243.8V129.5H238.3Z"/><path fill="#545454" d="M136.2 -5.6H141.7V-0.4H136.2ZM171.9 -5.6H177.4V-0.4H171.9ZM171.9 -0.8H177.4V4.4H171.9ZM146.4 4H151.9V9.2H146.4ZM171.9 4H177.4V9.2H171.9ZM177 18.4H182.5V23.6H177ZM166.8 23.2H172.3V28.5H166.8ZM156.6 28.1H162.1V33.3H156.6ZM44.3 37.7H49.8V42.9H44.3ZM223 37.7H228.5V42.9H223ZM131.1 42.5H136.6V47.7H131.1ZM197.4 42.5H202.9V47.7H197.4ZM202.5 42.5H208V47.7H202.5ZM233.2 42.5H238.7V47.7H233.2ZM136.2 47.3H141.7V52.5H136.2ZM202.5 47.3H208V52.5H202.5ZM126 61.8H131.5V67H126ZM207.6 61.8H213.2V67H207.6ZM217.9 61.8H223.4V67H217.9ZM223 66.6H228.5V71.8H223ZM233.2 76.2H238.7V81.4H233.2ZM279.1 76.2H284.6V81.4H279.1ZM274 81H279.5V86.2H274ZM268.9 85.8H274.4V91H268.9ZM274 85.8H279.5V91H274ZM228.1 90.6H233.6V95.8H228.1ZM274 90.6H279.5V95.8H274ZM279.1 90.6H284.6V95.8H279.1ZM233.2 95.4H238.7V100.7H233.2ZM238.3 105.1H243.8V110.3H238.3ZM243.4 109.9H248.9V115.1H243.4ZM243.4 114.7H248.9V119.9H243.4ZM207.6 119.5H213.2V124.7H207.6ZM243.4 119.5H248.9V124.7H243.4ZM166.8 124.3H172.3V129.5H166.8ZM171.9 124.3H177.4V129.5H171.9ZM207.6 124.3H213.2V129.5H207.6ZM243.4 124.3H248.9V129.5H243.4Z"/><path fill="#555555" d="M95.4 -5.6H100.9V-0.4H95.4ZM100.5 -5.6H106V-0.4H100.5ZM100.5 -0.8H106V4.4H100.5ZM171.9 18.4H177.4V23.6H171.9ZM197.4 28.1H202.9V33.3H197.4ZM146.4 32.9H151.9V38.1H146.4ZM202.5 32.9H208V38.1H202.5ZM105.6 42.5H111.1V47.7H105.6ZM197.4 47.3H202.9V52.5H197.4ZM212.8 56.9H218.3V62.1H212.8ZM161.7 61.8H167.2V67H161.7ZM202.5 61.8H208V67H202.5ZM212.8 61.8H218.3V67H212.8ZM166.8 66.6H172.3V71.8H166.8ZM274 76.2H279.5V81.4H274ZM268.9 81H274.4V86.2H268.9ZM95.4 85.8H100.9V91H95.4ZM268.9 90.6H274.4V95.8H268.9ZM223 105.1H228.5V110.3H223ZM243.4 105.1H248.9V110.3H243.4ZM217.9 109.9H223.4V115.1H217.9Z"/><path fill="#565656" d="M95.4 -0.8H100.9V4.4H95.4ZM146.4 -0.8H151.9V4.4H146.4ZM100.5 4H106V9.2H100.5ZM161.7 4H167.2V9.2H161.7ZM248.5 13.6H254V18.8H248.5ZM136.2 28.1H141.7V33.3H136.2ZM207.6 28.1H213.2V33.3H207.6ZM202.5 37.7H208V42.9H202.5ZM166.8 42.5H172.3V47.7H166.8ZM228.1 42.5H233.6V47.7H228.1ZM166.8 47.3H172.3V52.5H166.8ZM202.5 52.1H208V57.3H202.5ZM100.5 56.9H106V62.1H100.5ZM187.2 56.9H192.7V62.1H187.2ZM192.3 61.8H197.8V67H192.3ZM141.3 66.6H146.8V71.8H141.3ZM115.8 71.4H121.3V76.6H115.8ZM120.9 71.4H126.4V76.6H120.9ZM268.9 76.2H274.4V81.4H268.9ZM80 85.8H85.5V91H80ZM95.4 95.4H100.9V100.7H95.4ZM85.1 100.2H90.7V105.5H85.1Z"/><path fill="#575757" d="M146.4 -5.6H151.9V-0.4H146.4ZM161.7 -5.6H167.2V-0.4H161.7ZM161.7 -0.8H167.2V4.4H161.7ZM95.4 4H100.9V9.2H95.4ZM49.4 8.8H54.9V14H49.4ZM207.6 18.4H213.2V23.6H207.6ZM141.3 32.9H146.8V38.1H141.3ZM212.8 32.9H218.3V38.1H212.8ZM217.9 32.9H223.4V38.1H217.9ZM202.5 56.9H208V62.1H202.5ZM197.4 61.8H202.9V67H197.4ZM156.6 90.6H162.1V95.8H156.6ZM223 100.2H228.5V105.5H223ZM80 109.9H85.5V115.1H80ZM207.6 109.9H213.2V115.1H207.6ZM212.8 109.9H218.3V115.1H212.8Z"/><path fill="#585858" d="M64.7 8.8H70.2V14H64.7ZM161.7 8.8H167.2V14H161.7ZM161.7 23.2H167.2V28.5H161.7ZM207.6 23.2H213.2V28.5H207.6ZM192.3 47.3H197.8V52.5H192.3ZM136.2 56.9H141.7V62.1H136.2ZM187.2 66.6H192.7V71.8H187.2ZM192.3 71.4H197.8V76.6H192.3ZM228.1 76.2H233.6V81.4H228.1ZM156.6 85.8H162.1V91H156.6ZM156.6 95.4H162.1V100.7H156.6ZM69.8 109.9H75.3V115.1H69.8ZM161.7 109.9H167.2V115.1H161.7Z"/><path fill="#595959" d="M136.2 8.8H141.7V14H136.2ZM131.1 52.1H136.6V57.3H131.1ZM161.7 52.1H167.2V57.3H161.7ZM187.2 52.1H192.7V57.3H187.2ZM110.7 61.8H116.2V67H110.7ZM156.6 61.8H162.1V67H156.6ZM166.8 71.4H172.3V76.6H166.8ZM182.1 90.6H187.6V95.8H182.1ZM187.2 90.6H192.7V95.8H187.2ZM187.2 95.4H192.7V100.7H187.2ZM223 95.4H228.5V100.7H223ZM156.6 105.1H162.1V110.3H156.6ZM80 124.3H85.5V129.5H80Z"/><path fill="#5a5a5a" d="M131.1 13.6H136.6V18.8H131.1ZM131.1 18.4H136.6V23.6H131.1ZM212.8 18.4H218.3V23.6H212.8ZM192.3 42.5H197.8V47.7H192.3ZM171.9 47.3H177.4V52.5H171.9ZM100.5 52.1H106V57.3H100.5ZM136.2 52.1H141.7V57.3H136.2ZM161.7 56.9H167.2V62.1H161.7ZM146.4 66.6H151.9V71.8H146.4ZM171.9 66.6H177.4V71.8H171.9ZM80 114.7H85.5V119.9H80ZM80 119.5H85.5V124.7H80Z"/><path fill="#5b5b5b" d="M141.3 8.8H146.8V14H141.3ZM258.7 18.4H264.2V23.6H258.7ZM146.4 47.3H151.9V52.5H146.4ZM182.1 66.6H187.6V71.8H182.1ZM197.4 81H202.9V86.2H197.4ZM207.6 85.8H213.2V91H207.6ZM212.8 85.8H218.3V91H212.8ZM95.4 90.6H100.9V95.8H95.4ZM80 95.4H85.5V100.7H80Z"/><path fill="#5c5c5c" d="M161.7 13.6H167.2V18.8H161.7ZM161.7 18.4H167.2V23.6H161.7ZM171.9 23.2H177.4V28.5H171.9ZM131.1 47.3H136.6V52.5H131.1ZM141.3 47.3H146.8V52.5H141.3ZM120.9 61.8H126.4V67H120.9ZM177 66.6H182.5V71.8H177ZM161.7 81H167.2V86.2H161.7ZM85.1 85.8H90.7V91H85.1ZM80 90.6H85.5V95.8H80ZM223 90.6H228.5V95.8H223ZM182.1 95.4H187.6V100.7H182.1Z"/><path fill="#5d5d5d" d="M49.4 -5.6H54.9V-0.4H49.4ZM217.9 23.2H223.4V28.5H217.9ZM197.4 32.9H202.9V38.1H197.4ZM197.4 37.7H202.9V42.9H197.4ZM177 47.3H182.5V52.5H177ZM187.2 47.3H192.7V52.5H187.2ZM90.2 85.8H95.8V91H90.2ZM202.5 85.8H208V91H202.5ZM217.9 85.8H223.4V91H217.9ZM228.1 85.8H233.6V91H228.1ZM197.4 105.1H202.9V110.3H197.4ZM217.9 105.1H223.4V110.3H217.9ZM177 109.9H182.5V115.1H177Z"/><path fill="#5e5e5e" d="M64.7 -5.6H70.2V-0.4H64.7ZM49.4 -0.8H54.9V4.4H49.4ZM64.7 -0.8H70.2V4.4H64.7ZM151.5 28.1H157V33.3H151.5ZM217.9 28.1H223.4V33.3H217.9ZM115.8 61.8H121.3V67H115.8ZM228.1 81H233.6V86.2H228.1ZM156.6 100.2H162.1V105.5H156.6ZM74.9 109.9H80.4V115.1H74.9ZM69.8 124.3H75.3V129.5H69.8Z"/><path fill="#5f5f5f" d="M49.4 4H54.9V9.2H49.4ZM151.5 4H157V9.2H151.5ZM182.1 47.3H187.6V52.5H182.1ZM166.8 76.2H172.3V81.4H166.8ZM192.3 76.2H197.8V81.4H192.3ZM161.7 90.6H167.2V95.8H161.7ZM202.5 105.1H208V110.3H202.5ZM69.8 119.5H75.3V124.7H69.8Z"/><path fill="#606060" d="M64.7 4H70.2V9.2H64.7ZM156.6 4H162.1V9.2H156.6ZM54.5 8.8H60V14H54.5ZM59.6 8.8H65.1V14H59.6ZM197.4 52.1H202.9V57.3H197.4ZM192.3 56.9H197.8V62.1H192.3ZM197.4 56.9H202.9V62.1H197.4ZM223 81H228.5V86.2H223ZM192.3 105.1H197.8V110.3H192.3ZM207.6 105.1H213.2V110.3H207.6ZM166.8 109.9H172.3V115.1H166.8Z"/><path fill="#616161" d="M151.5 -0.8H157V4.4H151.5ZM146.4 8.8H151.9V14H146.4ZM243.4 8.8H248.9V14H243.4ZM136.2 23.2H141.7V28.5H136.2ZM192.3 28.1H197.8V33.3H192.3ZM212.8 28.1H218.3V33.3H212.8ZM105.6 47.3H111.1V52.5H105.6ZM192.3 52.1H197.8V57.3H192.3ZM161.7 85.8H167.2V91H161.7ZM192.3 90.6H197.8V95.8H192.3ZM192.3 95.4H197.8V100.7H192.3ZM212.8 105.1H218.3V110.3H212.8ZM69.8 114.7H75.3V119.9H69.8Z"/><path fill="#626262" d="M151.5 -5.6H157V-0.4H151.5ZM156.6 -5.6H162.1V-0.4H156.6ZM156.6 -0.8H162.1V4.4H156.6ZM212.8 23.2H218.3V28.5H212.8ZM171.9 28.1H177.4V33.3H171.9ZM151.5 61.8H157V67H151.5ZM177 90.6H182.5V95.8H177ZM171.9 109.9H177.4V115.1H171.9Z"/><path fill="#636363" d="M177 23.2H182.5V28.5H177ZM126 42.5H131.5V47.7H126ZM197.4 85.8H202.9V91H197.4ZM223 85.8H228.5V91H223ZM90.2 95.4H95.8V100.7H90.2Z"/><path fill="#646464" d="M263.8 18.4H269.3V23.6H263.8ZM187.2 23.2H192.7V28.5H187.2ZM166.8 90.6H172.3V95.8H166.8ZM74.9 124.3H80.4V129.5H74.9Z"/><path fill="#656565" d="M110.7 42.5H116.2V47.7H110.7ZM171.9 42.5H177.4V47.7H171.9ZM171.9 90.6H177.4V95.8H171.9ZM85.1 95.4H90.7V100.7H85.1ZM217.9 100.2H223.4V105.5H217.9ZM74.9 119.5H80.4V124.7H74.9Z"/><path fill="#666666" d="M126 56.9H131.5V62.1H126ZM74.9 114.7H80.4V119.9H74.9Z"/><path fill="#676767" d="M156.6 8.8H162.1V14H156.6ZM274 18.4H279.5V23.6H274ZM279.1 18.4H284.6V23.6H279.1ZM156.6 52.1H162.1V57.3H156.6ZM105.6 56.9H111.1V62.1H105.6ZM141.3 61.8H146.8V67H141.3ZM166.8 81H172.3V86.2H166.8ZM192.3 81H197.8V86.2H192.3ZM85.1 90.6H90.7V95.8H85.1ZM161.7 95.4H167.2V100.7H161.7ZM197.4 100.2H202.9V105.5H197.4Z"/><path fill="#686868" d="M54.5 -5.6H60V-0.4H54.5ZM59.6 -5.6H65.1V-0.4H59.6ZM54.5 -0.8H60V4.4H54.5ZM59.6 -0.8H65.1V4.4H59.6ZM253.6 13.6H259.1V18.8H253.6ZM268.9 18.4H274.4V23.6H268.9ZM156.6 23.2H162.1V28.5H156.6ZM187.2 42.5H192.7V47.7H187.2ZM192.3 85.8H197.8V91H192.3ZM90.2 90.6H95.8V95.8H90.2ZM197.4 90.6H202.9V95.8H197.4ZM192.3 100.2H197.8V105.5H192.3ZM187.2 105.1H192.7V110.3H187.2Z"/><path fill="#696969" d="M136.2 13.6H141.7V18.8H136.2ZM141.3 28.1H146.8V33.3H141.3ZM171.9 32.9H177.4V38.1H171.9ZM192.3 37.7H197.8V42.9H192.3ZM171.9 71.4H177.4V76.6H171.9ZM187.2 71.4H192.7V76.6H187.2ZM166.8 85.8H172.3V91H166.8ZM177 95.4H182.5V100.7H177ZM197.4 95.4H202.9V100.7H197.4ZM202.5 100.2H208V105.5H202.5Z"/><path fill="#6a6a6a" d="M243.4 -5.6H248.9V-0.4H243.4ZM54.5 4H60V9.2H54.5ZM59.6 4H65.1V9.2H59.6ZM151.5 8.8H157V14H151.5ZM182.1 23.2H187.6V28.5H182.1ZM171.9 37.7H177.4V42.9H171.9ZM120.9 42.5H126.4V47.7H120.9Z"/><path fill="#6b6b6b" d="M243.4 -0.8H248.9V4.4H243.4ZM146.4 28.1H151.9V33.3H146.4ZM192.3 32.9H197.8V38.1H192.3ZM156.6 56.9H162.1V62.1H156.6ZM217.9 90.6H223.4V95.8H217.9ZM207.6 100.2H213.2V105.5H207.6Z"/><path fill="#6c6c6c" d="M136.2 18.4H141.7V23.6H136.2ZM115.8 42.5H121.3V47.7H115.8ZM187.2 85.8H192.7V91H187.2ZM212.8 100.2H218.3V105.5H212.8Z"/><path fill="#6d6d6d" d="M177 42.5H182.5V47.7H177ZM105.6 52.1H111.1V57.3H105.6ZM217.9 95.4H223.4V100.7H217.9ZM187.2 100.2H192.7V105.5H187.2Z"/><path fill="#6e6e6e" d="M243.4 4H248.9V9.2H243.4ZM182.1 42.5H187.6V47.7H182.1ZM146.4 61.8H151.9V67H146.4ZM202.5 90.6H208V95.8H202.5ZM166.8 95.4H172.3V100.7H166.8Z"/><path fill="#6f6f6f" d="M171.9 85.8H177.4V91H171.9ZM182.1 85.8H187.6V91H182.1ZM171.9 95.4H177.4V100.7H171.9Z"/><path fill="#707070" d="M177 28.1H182.5V33.3H177ZM126 52.1H131.5V57.3H126Z"/><path fill="#717171" d="M177 71.4H182.5V76.6H177ZM182.1 71.4H187.6V76.6H182.1ZM177 85.8H182.5V91H177ZM207.6 90.6H213.2V95.8H207.6Z"/><path fill="#727272" d="M248.5 8.8H254V14H248.5ZM171.9 76.2H177.4V81.4H171.9ZM187.2 76.2H192.7V81.4H187.2ZM212.8 90.6H218.3V95.8H212.8ZM202.5 95.4H208V100.7H202.5ZM161.7 105.1H167.2V110.3H161.7Z"/><path fill="#737373" d="M126 47.3H131.5V52.5H126ZM151.5 52.1H157V57.3H151.5ZM171.9 81H177.4V86.2H171.9Z"/><path fill="#747474" d="M151.5 23.2H157V28.5H151.5ZM141.3 52.1H146.8V57.3H141.3ZM120.9 56.9H126.4V62.1H120.9ZM187.2 81H192.7V86.2H187.2ZM182.1 105.1H187.6V110.3H182.1Z"/><path fill="#757575" d="M258.7 13.6H264.2V18.8H258.7Z"/><path fill="#767676" d="M141.3 13.6H146.8V18.8H141.3ZM156.6 13.6H162.1V18.8H156.6ZM141.3 23.2H146.8V28.5H141.3ZM110.7 47.3H116.2V52.5H110.7ZM110.7 56.9H116.2V62.1H110.7Z"/><path fill="#777777" d="M156.6 18.4H162.1V23.6H156.6ZM187.2 28.1H192.7V33.3H187.2ZM141.3 56.9H146.8V62.1H141.3ZM207.6 95.4H213.2V100.7H207.6ZM212.8 95.4H218.3V100.7H212.8ZM161.7 100.2H167.2V105.5H161.7Z"/><path fill="#787878" d="M182.1 100.2H187.6V105.5H182.1Z"/><path fill="#797979" d="M187.2 37.7H192.7V42.9H187.2ZM151.5 56.9H157V62.1H151.5Z"/><path fill="#7a7a7a" d="M253.6 8.8H259.1V14H253.6ZM177 37.7H182.5V42.9H177ZM115.8 56.9H121.3V62.1H115.8ZM177 81H182.5V86.2H177ZM182.1 81H187.6V86.2H182.1Z"/><path fill="#7b7b7b" d="M248.5 -5.6H254V-0.4H248.5ZM177 32.9H182.5V38.1H177ZM177 76.2H182.5V81.4H177Z"/><path fill="#7c7c7c" d="M248.5 -0.8H254V4.4H248.5ZM146.4 23.2H151.9V28.5H146.4ZM182.1 28.1H187.6V33.3H182.1ZM146.4 52.1H151.9V57.3H146.4ZM182.1 76.2H187.6V81.4H182.1Z"/><path fill="#7d7d7d" d="M263.8 13.6H269.3V18.8H263.8Z"/><path fill="#7e7e7e" d="M146.4 13.6H151.9V18.8H146.4ZM187.2 32.9H192.7V38.1H187.2Z"/><path fill="#7f7f7f" d="M248.5 4H254V9.2H248.5ZM141.3 18.4H146.8V23.6H141.3ZM182.1 37.7H187.6V42.9H182.1ZM120.9 47.3H126.4V52.5H120.9ZM120.9 52.1H126.4V57.3H120.9Z"/><path fill="#808080" d="M253.6 -5.6H259.1V-0.4H253.6ZM274 13.6H279.5V18.8H274ZM279.1 13.6H284.6V18.8H279.1ZM115.8 47.3H121.3V52.5H115.8ZM110.7 52.1H116.2V57.3H110.7Z"/><path fill="#818181" d="M253.6 -0.8H259.1V4.4H253.6ZM268.9 13.6H274.4V18.8H268.9Z"/><path fill="#828282" d="M151.5 13.6H157V18.8H151.5ZM146.4 56.9H151.9V62.1H146.4ZM166.8 105.1H172.3V110.3H166.8Z"/><path fill="#838383" d="M253.6 4H259.1V9.2H253.6ZM258.7 8.8H264.2V14H258.7Z"/><path fill="#848484" d="M182.1 32.9H187.6V38.1H182.1ZM177 105.1H182.5V110.3H177Z"/><path fill="#858585" d="M151.5 18.4H157V23.6H151.5Z"/><path fill="#868686" d="M115.8 52.1H121.3V57.3H115.8ZM166.8 100.2H172.3V105.5H166.8Z"/><path fill="#878787" d="M258.7 -5.6H264.2V-0.4H258.7ZM146.4 18.4H151.9V23.6H146.4Z"/><path fill="#888888" d="M258.7 -0.8H264.2V4.4H258.7ZM177 100.2H182.5V105.5H177ZM171.9 105.1H177.4V110.3H171.9Z"/><path fill="#898989" d="M258.7 4H264.2V9.2H258.7Z"/><path fill="#8b8b8b" d="M263.8 8.8H269.3V14H263.8Z"/><path fill="#8d8d8d" d="M279.1 8.8H284.6V14H279.1ZM171.9 100.2H177.4V105.5H171.9Z"/><path fill="#8e8e8e" d="M268.9 8.8H274.4V14H268.9ZM274 8.8H279.5V14H274Z"/><path fill="#8f8f8f" d="M263.8 -5.6H269.3V-0.4H263.8Z"/><path fill="#909090" d="M263.8 -0.8H269.3V4.4H263.8Z"/><path fill="#919191" d="M263.8 4H269.3V9.2H263.8Z"/><path fill="#929292" d="M274 -5.6H279.5V-0.4H274ZM279.1 -5.6H284.6V-0.4H279.1ZM279.1 -0.8H284.6V4.4H279.1Z"/><path fill="#939393" d="M268.9 -5.6H274.4V-0.4H268.9ZM268.9 -0.8H274.4V4.4H268.9ZM274 -0.8H279.5V4.4H274Z"/><path fill="#949494" d="M274 4H279.5V9.2H274ZM279.1 4H284.6V9.2H279.1Z"/><path fill="#959595" d="M268.9 4H274.4V9.2H268.9Z"/></g></g>
<g clip-path="url(#cb)"><g filter="url(#fb)"><path fill="#6b6b6b" d="M228.1 232.7H233.6V237.9H228.1Z"/><path fill="#6c6c6c" d="M248.5 136.4H254V141.7H248.5Z"/><path fill="#6f6f6f" d="M253.6 141.2H259.1V146.5H253.6ZM228.1 237.5H233.6V242.7H228.1Z"/><path fill="#707070" d="M29 218.2H34.5V223.5H29ZM228.1 242.3H233.6V247.5H228.1Z"/><path fill="#717171" d="M23.9 218.2H29.4V223.5H23.9Z"/><path fill="#727272" d="M18.8 218.2H24.3V223.5H18.8ZM126 218.2H131.5V223.5H126Z"/><path fill="#737373" d="M253.6 136.4H259.1V141.7H253.6ZM253.6 146.1H259.1V151.3H253.6Z"/><path fill="#747474" d="M29 223.1H34.5V228.3H29Z"/><path fill="#757575" d="M243.4 136.4H248.9V141.7H243.4ZM248.5 141.2H254V146.5H248.5ZM23.9 223.1H29.4V228.3H23.9ZM223 232.7H228.5V237.9H223ZM233.2 232.7H238.7V237.9H233.2Z"/><path fill="#767676" d="M34.1 218.2H39.6V223.5H34.1ZM18.8 223.1H24.3V228.3H18.8Z"/><path fill="#777777" d="M233.2 237.5H238.7V242.7H233.2Z"/><path fill="#787878" d="M120.9 218.2H126.4V223.5H120.9ZM223 237.5H228.5V242.7H223Z"/><path fill="#797979" d="M258.7 141.2H264.2V146.5H258.7ZM223 242.3H228.5V247.5H223ZM233.2 242.3H238.7V247.5H233.2Z"/><path fill="#7a7a7a" d="M29 213.4H34.5V218.7H29ZM34.1 223.1H39.6V228.3H34.1Z"/><path fill="#7b7b7b" d="M258.7 146.1H264.2V151.3H258.7ZM18.8 213.4H24.3V218.7H18.8ZM23.9 213.4H29.4V218.7H23.9ZM126 223.1H131.5V228.3H126ZM228.1 227.9H233.6V233.1H228.1Z"/><path fill="#7c7c7c" d="M248.5 146.1H254V151.3H248.5Z"/><path fill="#7d7d7d" d="M258.7 136.4H264.2V141.7H258.7ZM156.6 150.9H162.1V156.1H156.6ZM34.1 213.4H39.6V218.7H34.1Z"/><path fill="#7f7f7f" d="M120.9 223.1H126.4V228.3H120.9Z"/><path fill="#808080" d="M243.4 141.2H248.9V146.5H243.4ZM74.9 150.9H80.4V156.1H74.9ZM151.5 150.9H157V156.1H151.5ZM161.7 150.9H167.2V156.1H161.7ZM253.6 150.9H259.1V156.1H253.6ZM131.1 218.2H136.6V223.5H131.1Z"/><path fill="#818181" d="M248.5 131.6H254V136.8H248.5ZM80 146.1H85.5V151.3H80ZM120.9 184.6H126.4V189.8H120.9Z"/><path fill="#828282" d="M29 208.6H34.5V213.8H29ZM126 213.4H131.5V218.7H126ZM39.2 218.2H44.7V223.5H39.2ZM223 227.9H228.5V233.1H223ZM233.2 227.9H238.7V233.1H233.2Z"/><path fill="#838383" d="M80 141.2H85.5V146.5H80ZM85.1 141.2H90.7V146.5H85.1ZM85.1 146.1H90.7V151.3H85.1ZM69.8 150.9H75.3V156.1H69.8ZM248.5 150.9H254V156.1H248.5ZM18.8 208.6H24.3V213.8H18.8ZM23.9 208.6H29.4V213.8H23.9ZM39.2 213.4H44.7V218.7H39.2Z"/><path fill="#848484" d="M110.7 136.4H116.2V141.7H110.7ZM74.9 146.1H80.4V151.3H74.9ZM166.8 150.9H172.3V156.1H166.8ZM120.9 179.8H126.4V185H120.9ZM115.8 184.6H121.3V189.8H115.8ZM120.9 213.4H126.4V218.7H120.9Z"/><path fill="#858585" d="M110.7 131.6H116.2V136.8H110.7ZM243.4 131.6H248.9V136.8H243.4ZM69.8 155.7H75.3V160.9H69.8Z"/><path fill="#868686" d="M80 150.9H85.5V156.1H80ZM258.7 150.9H264.2V156.1H258.7ZM34.1 208.6H39.6V213.8H34.1ZM39.2 223.1H44.7V228.3H39.2ZM85.1 223.1H90.7V228.3H85.1ZM29 227.9H34.5V233.1H29Z"/><path fill="#878787" d="M74.9 155.7H80.4V160.9H74.9ZM161.7 155.7H167.2V160.9H161.7ZM115.8 189.4H121.3V194.6H115.8ZM29 203.8H34.5V209H29ZM23.9 227.9H29.4V233.1H23.9ZM238.3 232.7H243.8V237.9H238.3Z"/><path fill="#888888" d="M115.8 136.4H121.3V141.7H115.8ZM243.4 146.1H248.9V151.3H243.4ZM171.9 150.9H177.4V156.1H171.9ZM166.8 155.7H172.3V160.9H166.8ZM126 184.6H131.5V189.8H126ZM18.8 227.9H24.3V233.1H18.8Z"/><path fill="#898989" d="M115.8 131.6H121.3V136.8H115.8ZM151.5 146.1H157V151.3H151.5ZM156.6 146.1H162.1V151.3H156.6ZM126 179.8H131.5V185H126ZM151.5 189.4H157V194.6H151.5ZM23.9 203.8H29.4V209H23.9ZM90.2 223.1H95.8V228.3H90.2ZM34.1 227.9H39.6V233.1H34.1ZM238.3 237.5H243.8V242.7H238.3Z"/><path fill="#8a8a8a" d="M253.6 131.6H259.1V136.8H253.6ZM105.6 136.4H111.1V141.7H105.6ZM263.8 136.4H269.3V141.7H263.8ZM146.4 150.9H151.9V156.1H146.4ZM64.7 155.7H70.2V160.9H64.7ZM156.6 155.7H162.1V160.9H156.6ZM146.4 189.4H151.9V194.6H146.4ZM18.8 203.8H24.3V209H18.8ZM238.3 242.3H243.8V247.5H238.3Z"/><path fill="#8b8b8b" d="M80 136.4H85.5V141.7H80ZM74.9 141.2H80.4V146.5H74.9ZM90.2 146.1H95.8V151.3H90.2ZM85.1 227.9H90.7V233.1H85.1Z"/><path fill="#8c8c8c" d="M85.1 136.4H90.7V141.7H85.1ZM90.2 141.2H95.8V146.5H90.2ZM90.2 160.5H95.8V165.7H90.2ZM29 199H34.5V204.2H29ZM29 242.3H34.5V247.5H29Z"/><path fill="#8d8d8d" d="M85.1 150.9H90.7V156.1H85.1ZM171.9 155.7H177.4V160.9H171.9ZM115.8 179.8H121.3V185H115.8ZM156.6 189.4H162.1V194.6H156.6ZM131.1 213.4H136.6V218.7H131.1ZM85.1 232.7H90.7V237.9H85.1ZM29 237.5H34.5V242.7H29ZM85.1 237.5H90.7V242.7H85.1ZM23.9 242.3H29.4V247.5H23.9ZM85.1 242.3H90.7V247.5H85.1Z"/><path fill="#8e8e8e" d="M105.6 131.6H111.1V136.8H105.6ZM238.3 136.4H243.8V141.7H238.3ZM64.7 150.9H70.2V156.1H64.7ZM243.4 150.9H248.9V156.1H243.4ZM80 155.7H85.5V160.9H80ZM136.2 155.7H141.7V160.9H136.2ZM151.5 155.7H157V160.9H151.5ZM120.9 189.4H126.4V194.6H120.9ZM131.1 223.1H136.6V228.3H131.1ZM29 232.7H34.5V237.9H29ZM18.8 237.5H24.3V242.7H18.8ZM23.9 237.5H29.4V242.7H23.9ZM18.8 242.3H24.3V247.5H18.8Z"/><path fill="#8f8f8f" d="M274 136.4H279.5V141.7H274ZM279.1 136.4H284.6V141.7H279.1ZM23.9 199H29.4V204.2H23.9ZM39.2 208.6H44.7V213.8H39.2ZM238.3 227.9H243.8V233.1H238.3ZM23.9 232.7H29.4V237.9H23.9ZM34.1 242.3H39.6V247.5H34.1Z"/><path fill="#909090" d="M258.7 131.6H264.2V136.8H258.7ZM268.9 136.4H274.4V141.7H268.9ZM238.3 141.2H243.8V146.5H238.3ZM141.3 150.9H146.8V156.1H141.3ZM18.8 199H24.3V204.2H18.8ZM18.8 232.7H24.3V237.9H18.8ZM34.1 237.5H39.6V242.7H34.1Z"/><path fill="#919191" d="M100.5 136.4H106V141.7H100.5ZM69.8 146.1H75.3V151.3H69.8ZM131.1 155.7H136.6V160.9H131.1ZM110.7 189.4H116.2V194.6H110.7ZM29 194.2H34.5V199.4H29ZM34.1 203.8H39.6V209H34.1ZM115.8 218.2H121.3V223.5H115.8ZM39.2 227.9H44.7V233.1H39.2ZM34.1 232.7H39.6V237.9H34.1Z"/><path fill="#929292" d="M95.4 141.2H100.9V146.5H95.4ZM263.8 141.2H269.3V146.5H263.8ZM161.7 146.1H167.2V151.3H161.7ZM136.2 150.9H141.7V156.1H136.2ZM141.3 155.7H146.8V160.9H141.3ZM146.4 155.7H151.9V160.9H146.4ZM217.9 232.7H223.4V237.9H217.9Z"/><path fill="#939393" d="M263.8 131.6H269.3V136.8H263.8ZM274 131.6H279.5V136.8H274ZM279.1 131.6H284.6V136.8H279.1ZM146.4 146.1H151.9V151.3H146.4ZM85.1 155.7H90.7V160.9H85.1ZM110.7 184.6H116.2V189.8H110.7ZM141.3 189.4H146.8V194.6H141.3ZM90.2 218.2H95.8V223.5H90.2ZM217.9 237.5H223.4V242.7H217.9ZM217.9 242.3H223.4V247.5H217.9Z"/><path fill="#949494" d="M80 131.6H85.5V136.8H80ZM268.9 131.6H274.4V136.8H268.9ZM263.8 150.9H269.3V156.1H263.8ZM115.8 213.4H121.3V218.7H115.8ZM85.1 218.2H90.7V223.5H85.1ZM80 223.1H85.5V228.3H80ZM207.6 223.1H213.2V228.3H207.6ZM80 227.9H85.5V233.1H80Z"/><path fill="#959595" d="M85.1 131.6H90.7V136.8H85.1ZM74.9 136.4H80.4V141.7H74.9ZM263.8 146.1H269.3V151.3H263.8ZM90.2 150.9H95.8V156.1H90.2ZM131.1 150.9H136.6V156.1H131.1ZM151.5 184.6H157V189.8H151.5ZM23.9 194.2H29.4V199.4H23.9ZM146.4 194.2H151.9V199.4H146.4ZM44.3 213.4H49.8V218.7H44.3ZM95.4 223.1H100.9V228.3H95.4ZM90.2 227.9H95.8V233.1H90.2ZM80 232.7H85.5V237.9H80ZM39.2 237.5H44.7V242.7H39.2ZM80 237.5H85.5V242.7H80ZM39.2 242.3H44.7V247.5H39.2ZM80 242.3H85.5V247.5H80Z"/><path fill="#969696" d="M120.9 136.4H126.4V141.7H120.9ZM100.5 141.2H106V146.5H100.5ZM166.8 146.1H172.3V151.3H166.8ZM171.9 146.1H177.4V151.3H171.9ZM238.3 146.1H243.8V151.3H238.3ZM90.2 155.7H95.8V160.9H90.2ZM161.7 189.4H167.2V194.6H161.7ZM202.5 218.2H208V223.5H202.5ZM217.9 227.9H223.4V233.1H217.9ZM39.2 232.7H44.7V237.9H39.2Z"/><path fill="#979797" d="M238.3 131.6H243.8V136.8H238.3ZM90.2 136.4H95.8V141.7H90.2ZM105.6 141.2H111.1V146.5H105.6ZM110.7 141.2H116.2V146.5H110.7ZM151.5 141.2H157V146.5H151.5ZM95.4 146.1H100.9V151.3H95.4ZM177 150.9H182.5V156.1H177ZM74.9 160.5H80.4V165.7H74.9ZM85.1 160.5H90.7V165.7H85.1ZM95.4 160.5H100.9V165.7H95.4ZM146.4 184.6H151.9V189.8H146.4ZM18.8 194.2H24.3V199.4H18.8ZM207.6 218.2H213.2V223.5H207.6Z"/><path fill="#989898" d="M100.5 131.6H106V136.8H100.5ZM115.8 141.2H121.3V146.5H115.8ZM156.6 141.2H162.1V146.5H156.6ZM248.5 155.7H254V160.9H248.5ZM90.2 165.3H95.8V170.5H90.2ZM202.5 223.1H208V228.3H202.5Z"/><path fill="#999999" d="M95.4 136.4H100.9V141.7H95.4ZM274 150.9H279.5V156.1H274ZM279.1 150.9H284.6V156.1H279.1ZM177 155.7H182.5V160.9H177ZM69.8 160.5H75.3V165.7H69.8ZM120.9 174.9H126.4V180.2H120.9ZM156.6 184.6H162.1V189.8H156.6ZM126 189.4H131.5V194.6H126ZM151.5 194.2H157V199.4H151.5ZM136.2 218.2H141.7V223.5H136.2ZM90.2 242.3H95.8V247.5H90.2Z"/><path fill="#9a9a9a" d="M110.7 126.8H116.2V132H110.7ZM120.9 131.6H126.4V136.8H120.9ZM59.6 155.7H65.1V160.9H59.6ZM243.4 155.7H248.9V160.9H243.4ZM131.1 160.5H136.6V165.7H131.1ZM131.1 184.6H136.6V189.8H131.1ZM44.3 218.2H49.8V223.5H44.3ZM212.8 223.1H218.3V228.3H212.8ZM120.9 227.9H126.4V233.1H120.9ZM90.2 232.7H95.8V237.9H90.2ZM90.2 237.5H95.8V242.7H90.2Z"/><path fill="#9b9b9b" d="M115.8 126.8H121.3V132H115.8ZM69.8 141.2H75.3V146.5H69.8ZM279.1 141.2H284.6V146.5H279.1ZM268.9 150.9H274.4V156.1H268.9ZM126 155.7H131.5V160.9H126ZM80 160.5H85.5V165.7H80ZM126 174.9H131.5V180.2H126ZM131.1 179.8H136.6V185H131.1ZM141.3 184.6H146.8V189.8H141.3ZM115.8 194.2H121.3V199.4H115.8ZM115.8 223.1H121.3V228.3H115.8ZM126 227.9H131.5V233.1H126Z"/><path fill="#9c9c9c" d="M120.9 141.2H126.4V146.5H120.9ZM274 141.2H279.5V146.5H274ZM126 150.9H131.5V156.1H126ZM136.2 160.5H141.7V165.7H136.2ZM156.6 194.2H162.1V199.4H156.6ZM34.1 199H39.6V204.2H34.1ZM95.4 218.2H100.9V223.5H95.4Z"/><path fill="#9d9d9d" d="M141.3 146.1H146.8V151.3H141.3ZM177 146.1H182.5V151.3H177ZM258.7 208.6H264.2V213.8H258.7Z"/><path fill="#9e9e9e" d="M80 126.8H85.5V132H80ZM85.1 126.8H90.7V132H85.1ZM268.9 141.2H274.4V146.5H268.9ZM279.1 146.1H284.6V151.3H279.1ZM253.6 155.7H259.1V160.9H253.6ZM126 160.5H131.5V165.7H126ZM110.7 194.2H116.2V199.4H110.7ZM161.7 194.2H167.2V199.4H161.7ZM197.4 218.2H202.9V223.5H197.4ZM217.9 223.1H223.4V228.3H217.9ZM223 223.1H228.5V228.3H223ZM228.1 223.1H233.6V228.3H228.1ZM233.2 223.1H238.7V228.3H233.2Z"/><path fill="#9f9f9f" d="M74.9 131.6H80.4V136.8H74.9ZM274 146.1H279.5V151.3H274ZM64.7 160.5H70.2V165.7H64.7ZM115.8 160.5H121.3V165.7H115.8ZM120.9 160.5H126.4V165.7H120.9ZM182.1 160.5H187.6V165.7H182.1ZM115.8 165.3H121.3V170.5H115.8ZM120.9 165.3H126.4V170.5H120.9ZM141.3 194.2H146.8V199.4H141.3ZM166.8 218.2H172.3V223.5H166.8ZM95.4 227.9H100.9V233.1H95.4Z"/><path fill="#a0a0a0" d="M120.9 146.1H126.4V151.3H120.9ZM238.3 150.9H243.8V156.1H238.3ZM85.1 165.3H90.7V170.5H85.1ZM126 165.3H131.5V170.5H126ZM110.7 179.8H116.2V185H110.7ZM74.9 203.8H80.4V209H74.9ZM136.2 213.4H141.7V218.7H136.2ZM80 218.2H85.5V223.5H80ZM171.9 218.2H177.4V223.5H171.9ZM212.8 218.2H218.3V223.5H212.8Z"/><path fill="#a1a1a1" d="M80 112.4H85.5V117.6H80ZM85.1 112.4H90.7V117.6H85.1ZM110.7 112.4H116.2V117.6H110.7ZM115.8 112.4H121.3V117.6H115.8ZM90.2 131.6H95.8V136.8H90.2ZM69.8 136.4H75.3V141.7H69.8ZM126 146.1H131.5V151.3H126ZM268.9 146.1H274.4V151.3H268.9ZM187.2 160.5H192.7V165.7H187.2ZM136.2 184.6H141.7V189.8H136.2ZM161.7 184.6H167.2V189.8H161.7ZM69.8 203.8H75.3V209H69.8ZM44.3 208.6H49.8V213.8H44.3ZM238.3 223.1H243.8V228.3H238.3Z"/><path fill="#a2a2a2" d="M80 117.2H85.5V122.4H80ZM85.1 117.2H90.7V122.4H85.1ZM110.7 117.2H116.2V122.4H110.7ZM115.8 117.2H121.3V122.4H115.8ZM95.4 131.6H100.9V136.8H95.4ZM146.4 141.2H151.9V146.5H146.4ZM29 146.1H34.5V151.3H29ZM59.6 150.9H65.1V156.1H59.6ZM120.9 155.7H126.4V160.9H120.9ZM238.3 160.5H243.8V165.7H238.3ZM131.1 165.3H136.6V170.5H131.1ZM120.9 170.1H126.4V175.3H120.9ZM115.8 174.9H121.3V180.2H115.8ZM207.6 203.8H213.2V209H207.6ZM44.3 223.1H49.8V228.3H44.3ZM243.4 232.7H248.9V237.9H243.4Z"/><path fill="#a3a3a3" d="M80 122H85.5V127.2H80ZM85.1 122H90.7V127.2H85.1ZM115.8 122H121.3V127.2H115.8ZM115.8 146.1H121.3V151.3H115.8ZM120.9 150.9H126.4V156.1H120.9ZM166.8 160.5H172.3V165.7H166.8ZM74.9 165.3H80.4V170.5H74.9ZM95.4 165.3H100.9V170.5H95.4ZM126 170.1H131.5V175.3H126ZM120.9 208.6H126.4V213.8H120.9ZM258.7 213.4H264.2V218.7H258.7ZM243.4 237.5H248.9V242.7H243.4ZM95.4 242.3H100.9V247.5H95.4ZM120.9 242.3H126.4V247.5H120.9ZM243.4 242.3H248.9V247.5H243.4Z"/><path fill="#a4a4a4" d="M110.7 122H116.2V127.2H110.7ZM29 141.2H34.5V146.5H29ZM126 141.2H131.5V146.5H126ZM161.7 141.2H167.2V146.5H161.7ZM238.3 155.7H243.8V160.9H238.3ZM141.3 160.5H146.8V165.7H141.3ZM177 160.5H182.5V165.7H177ZM80 165.3H85.5V170.5H80ZM233.2 165.3H238.7V170.5H233.2ZM136.2 189.4H141.7V194.6H136.2ZM115.8 208.6H121.3V213.8H115.8ZM110.7 218.2H116.2V223.5H110.7ZM212.8 227.9H218.3V233.1H212.8ZM243.4 227.9H248.9V233.1H243.4ZM95.4 232.7H100.9V237.9H95.4ZM95.4 237.5H100.9V242.7H95.4ZM120.9 237.5H126.4V242.7H120.9Z"/><path fill="#a5a5a5" d="M105.6 126.8H111.1V132H105.6ZM23.9 146.1H29.4V151.3H23.9ZM136.2 146.1H141.7V151.3H136.2ZM136.2 179.8H141.7V185H136.2ZM110.7 213.4H116.2V218.7H110.7Z"/><path fill="#a6a6a6" d="M126 136.4H131.5V141.7H126ZM23.9 141.2H29.4V146.5H23.9ZM18.8 146.1H24.3V151.3H18.8ZM258.7 155.7H264.2V160.9H258.7ZM161.7 160.5H167.2V165.7H161.7ZM171.9 160.5H177.4V165.7H171.9ZM233.2 160.5H238.7V165.7H233.2ZM131.1 189.4H136.6V194.6H131.1ZM207.6 199H213.2V204.2H207.6ZM258.7 203.8H264.2V209H258.7ZM126 208.6H131.5V213.8H126ZM120.9 232.7H126.4V237.9H120.9ZM126 242.3H131.5V247.5H126Z"/><path fill="#a7a7a7" d="M120.9 126.8H126.4V132H120.9ZM69.8 131.6H75.3V136.8H69.8ZM18.8 141.2H24.3V146.5H18.8ZM171.9 141.2H177.4V146.5H171.9ZM100.5 146.1H106V151.3H100.5ZM131.1 146.1H136.6V151.3H131.1ZM69.8 165.3H75.3V170.5H69.8ZM141.3 179.8H146.8V185H141.3ZM39.2 203.8H44.7V209H39.2ZM80 203.8H85.5V209H80ZM212.8 203.8H218.3V209H212.8ZM197.4 223.1H202.9V228.3H197.4ZM243.4 223.1H248.9V228.3H243.4Z"/><path fill="#a8a8a8" d="M268.9 126.8H274.4V132H268.9ZM274 126.8H279.5V132H274ZM110.7 146.1H116.2V151.3H110.7ZM95.4 150.9H100.9V156.1H95.4ZM95.4 155.7H100.9V160.9H95.4ZM115.8 155.7H121.3V160.9H115.8ZM136.2 165.3H141.7V170.5H136.2ZM115.8 170.1H121.3V175.3H115.8ZM131.1 174.9H136.6V180.2H131.1ZM146.4 179.8H151.9V185H146.4ZM34.1 194.2H39.6V199.4H34.1ZM126 237.5H131.5V242.7H126ZM212.8 237.5H218.3V242.7H212.8ZM212.8 242.3H218.3V247.5H212.8Z"/><path fill="#a9a9a9" d="M74.9 126.8H80.4V132H74.9ZM279.1 126.8H284.6V132H279.1ZM166.8 141.2H172.3V146.5H166.8ZM64.7 146.1H70.2V151.3H64.7ZM74.9 170.1H80.4V175.3H74.9ZM80 170.1H85.5V175.3H80ZM29 189.4H34.5V194.6H29ZM202.5 199H208V204.2H202.5ZM64.7 203.8H70.2V209H64.7ZM100.5 223.1H106V228.3H100.5ZM166.8 223.1H172.3V228.3H166.8ZM212.8 232.7H218.3V237.9H212.8Z"/><path fill="#aaaaaa" d="M90.2 126.8H95.8V132H90.2ZM177 141.2H182.5V146.5H177ZM115.8 150.9H121.3V156.1H115.8ZM110.7 160.5H116.2V165.7H110.7ZM228.1 165.3H233.6V170.5H228.1ZM131.1 170.1H136.6V175.3H131.1ZM151.5 179.8H157V185H151.5ZM202.5 203.8H208V209H202.5ZM263.8 208.6H269.3V213.8H263.8ZM136.2 223.1H141.7V228.3H136.2ZM126 232.7H131.5V237.9H126Z"/><path fill="#ababab" d="M120.9 112.4H126.4V117.6H120.9ZM100.5 126.8H106V132H100.5ZM238.3 126.8H243.8V132H238.3ZM263.8 126.8H269.3V132H263.8ZM126 131.6H131.5V136.8H126ZM146.4 160.5H151.9V165.7H146.4ZM110.7 165.3H116.2V170.5H110.7ZM238.3 165.3H243.8V170.5H238.3ZM120.9 194.2H126.4V199.4H120.9ZM177 218.2H182.5V223.5H177ZM171.9 223.1H177.4V228.3H171.9ZM100.5 227.9H106V233.1H100.5Z"/><path fill="#acacac" d="M74.9 112.4H80.4V117.6H74.9ZM90.2 112.4H95.8V117.6H90.2ZM105.6 112.4H111.1V117.6H105.6ZM74.9 117.2H80.4V122.4H74.9ZM120.9 117.2H126.4V122.4H120.9ZM151.5 136.4H157V141.7H151.5ZM156.6 136.4H162.1V141.7H156.6ZM141.3 141.2H146.8V146.5H141.3ZM105.6 146.1H111.1V151.3H105.6ZM182.1 146.1H187.6V151.3H182.1ZM182.1 155.7H187.6V160.9H182.1ZM192.3 160.5H197.8V165.7H192.3ZM192.3 194.2H197.8V199.4H192.3ZM212.8 199H218.3V204.2H212.8ZM263.8 203.8H269.3V209H263.8ZM192.3 218.2H197.8V223.5H192.3ZM110.7 223.1H116.2V228.3H110.7ZM100.5 232.7H106V237.9H100.5ZM100.5 237.5H106V242.7H100.5ZM100.5 242.3H106V247.5H100.5Z"/><path fill="#adadad" d="M90.2 117.2H95.8V122.4H90.2ZM105.6 117.2H111.1V122.4H105.6ZM74.9 122H80.4V127.2H74.9ZM90.2 122H95.8V127.2H90.2ZM120.9 122H126.4V127.2H120.9ZM64.7 131.6H70.2V136.8H64.7ZM243.4 160.5H248.9V165.7H243.4ZM192.3 165.3H197.8V170.5H192.3ZM23.9 189.4H29.4V194.6H23.9ZM105.6 189.4H111.1V194.6H105.6ZM131.1 208.6H136.6V213.8H131.1ZM253.6 213.4H259.1V218.7H253.6ZM217.9 218.2H223.4V223.5H217.9Z"/><path fill="#aeaeae" d="M95.4 126.8H100.9V132H95.4ZM64.7 136.4H70.2V141.7H64.7ZM156.6 179.8H162.1V185H156.6ZM105.6 184.6H111.1V189.8H105.6ZM258.7 199H264.2V204.2H258.7ZM110.7 208.6H116.2V213.8H110.7ZM253.6 208.6H259.1V213.8H253.6ZM263.8 213.4H269.3V218.7H263.8ZM207.6 227.9H213.2V233.1H207.6Z"/><path fill="#afafaf" d="M268.9 112.4H274.4V117.6H268.9ZM105.6 122H111.1V127.2H105.6ZM69.8 126.8H75.3V132H69.8ZM243.4 126.8H248.9V132H243.4ZM34.1 141.2H39.6V146.5H34.1ZM34.1 146.1H39.6V151.3H34.1ZM156.6 160.5H162.1V165.7H156.6ZM80 174.9H85.5V180.2H80ZM18.8 189.4H24.3V194.6H18.8ZM268.9 203.8H274.4V209H268.9ZM274 203.8H279.5V209H274ZM279.1 203.8H284.6V209H279.1ZM274 208.6H279.5V213.8H274ZM279.1 208.6H284.6V213.8H279.1ZM100.5 218.2H106V223.5H100.5ZM44.3 227.9H49.8V233.1H44.3Z"/><path fill="#b0b0b0" d="M274 112.4H279.5V117.6H274ZM279.1 112.4H284.6V117.6H279.1ZM268.9 117.2H274.4V122.4H268.9ZM274 117.2H279.5V122.4H274ZM233.2 131.6H238.7V136.8H233.2ZM182.1 150.9H187.6V156.1H182.1ZM263.8 155.7H269.3V160.9H263.8ZM64.7 165.3H70.2V170.5H64.7ZM223 165.3H228.5V170.5H223ZM69.8 170.1H75.3V175.3H69.8ZM85.1 170.1H90.7V175.3H85.1ZM197.4 194.2H202.9V199.4H197.4ZM268.9 208.6H274.4V213.8H268.9ZM161.7 218.2H167.2V223.5H161.7ZM74.9 227.9H80.4V233.1H74.9ZM74.9 232.7H80.4V237.9H74.9ZM74.9 237.5H80.4V242.7H74.9ZM74.9 242.3H80.4V247.5H74.9Z"/><path fill="#b1b1b1" d="M233.2 112.4H238.7V117.6H233.2ZM233.2 117.2H238.7V122.4H233.2ZM279.1 117.2H284.6V122.4H279.1ZM18.8 122H24.3V127.2H18.8ZM23.9 122H29.4V127.2H23.9ZM29 122H34.5V127.2H29ZM34.1 122H39.6V127.2H34.1ZM39.2 122H44.7V127.2H39.2ZM44.3 122H49.8V127.2H44.3ZM233.2 122H238.7V127.2H233.2ZM268.9 122H274.4V127.2H268.9ZM233.2 126.8H238.7V132H233.2ZM248.5 126.8H254V132H248.5ZM233.2 136.4H238.7V141.7H233.2ZM59.6 160.5H65.1V165.7H59.6ZM151.5 160.5H157V165.7H151.5ZM136.2 174.9H141.7V180.2H136.2ZM166.8 189.4H172.3V194.6H166.8ZM263.8 199H269.3V204.2H263.8ZM105.6 218.2H111.1V223.5H105.6ZM105.6 223.1H111.1V228.3H105.6Z"/><path fill="#b2b2b2" d="M69.8 112.4H75.3V117.6H69.8ZM95.4 112.4H100.9V117.6H95.4ZM100.5 112.4H106V117.6H100.5ZM151.5 112.4H157V117.6H151.5ZM156.6 112.4H162.1V117.6H156.6ZM238.3 112.4H243.8V117.6H238.3ZM69.8 117.2H75.3V122.4H69.8ZM95.4 117.2H100.9V122.4H95.4ZM100.5 117.2H106V122.4H100.5ZM151.5 117.2H157V122.4H151.5ZM156.6 117.2H162.1V122.4H156.6ZM49.4 122H54.9V127.2H49.4ZM151.5 122H157V127.2H151.5ZM156.6 122H162.1V127.2H156.6ZM274 122H279.5V127.2H274ZM279.1 122H284.6V127.2H279.1ZM64.7 126.8H70.2V132H64.7ZM126 126.8H131.5V132H126ZM258.7 126.8H264.2V132H258.7ZM59.6 131.6H65.1V136.8H59.6ZM131.1 141.2H136.6V146.5H131.1ZM182.1 141.2H187.6V146.5H182.1ZM141.3 165.3H146.8V170.5H141.3ZM187.2 165.3H192.7V170.5H187.2ZM136.2 170.1H141.7V175.3H136.2ZM74.9 174.9H80.4V180.2H74.9ZM69.8 199H75.3V204.2H69.8ZM268.9 199H274.4V204.2H268.9ZM274 199H279.5V204.2H274ZM279.1 199H284.6V204.2H279.1ZM274 213.4H279.5V218.7H274ZM279.1 213.4H284.6V218.7H279.1ZM74.9 223.1H80.4V228.3H74.9ZM115.8 227.9H121.3V233.1H115.8Z"/><path fill="#b3b3b3" d="M18.8 112.4H24.3V117.6H18.8ZM23.9 112.4H29.4V117.6H23.9ZM29 112.4H34.5V117.6H29ZM34.1 112.4H39.6V117.6H34.1ZM39.2 112.4H44.7V117.6H39.2ZM44.3 112.4H49.8V117.6H44.3ZM49.4 112.4H54.9V117.6H49.4ZM54.5 112.4H60V117.6H54.5ZM64.7 112.4H70.2V117.6H64.7ZM263.8 112.4H269.3V117.6H263.8ZM18.8 117.2H24.3V122.4H18.8ZM23.9 117.2H29.4V122.4H23.9ZM29 117.2H34.5V122.4H29ZM34.1 117.2H39.6V122.4H34.1ZM39.2 117.2H44.7V122.4H39.2ZM44.3 117.2H49.8V122.4H44.3ZM49.4 117.2H54.9V122.4H49.4ZM54.5 117.2H60V122.4H54.5ZM64.7 117.2H70.2V122.4H64.7ZM238.3 117.2H243.8V122.4H238.3ZM54.5 122H60V127.2H54.5ZM69.8 122H75.3V127.2H69.8ZM95.4 122H100.9V127.2H95.4ZM59.6 126.8H65.1V132H59.6ZM151.5 126.8H157V132H151.5ZM156.6 126.8H162.1V132H156.6ZM233.2 141.2H238.7V146.5H233.2ZM274 155.7H279.5V160.9H274ZM279.1 155.7H284.6V160.9H279.1ZM166.8 194.2H172.3V199.4H166.8ZM74.9 199H80.4V204.2H74.9ZM90.2 213.4H95.8V218.7H90.2ZM268.9 213.4H274.4V218.7H268.9ZM248.5 223.1H254V228.3H248.5ZM44.3 242.3H49.8V247.5H44.3Z"/><path fill="#b4b4b4" d="M59.6 112.4H65.1V117.6H59.6ZM59.6 117.2H65.1V122.4H59.6ZM263.8 117.2H269.3V122.4H263.8ZM59.6 122H65.1V127.2H59.6ZM64.7 122H70.2V127.2H64.7ZM100.5 122H106V127.2H100.5ZM54.5 126.8H60V132H54.5ZM253.6 126.8H259.1V132H253.6ZM64.7 141.2H70.2V146.5H64.7ZM268.9 155.7H274.4V160.9H268.9ZM212.8 160.5H218.3V165.7H212.8ZM161.7 179.8H167.2V185H161.7ZM187.2 194.2H192.7V199.4H187.2ZM49.4 213.4H54.9V218.7H49.4ZM105.6 227.9H111.1V233.1H105.6ZM44.3 237.5H49.8V242.7H44.3Z"/><path fill="#b5b5b5" d="M126 112.4H131.5V117.6H126ZM126 117.2H131.5V122.4H126ZM126 122H131.5V127.2H126ZM238.3 122H243.8V127.2H238.3ZM151.5 131.6H157V136.8H151.5ZM156.6 131.6H162.1V136.8H156.6ZM136.2 141.2H141.7V146.5H136.2ZM197.4 160.5H202.9V165.7H197.4ZM217.9 160.5H223.4V165.7H217.9ZM197.4 165.3H202.9V170.5H197.4ZM217.9 165.3H223.4V170.5H217.9ZM197.4 199H202.9V204.2H197.4ZM136.2 208.6H141.7V213.8H136.2ZM85.1 213.4H90.7V218.7H85.1ZM95.4 213.4H100.9V218.7H95.4ZM44.3 232.7H49.8V237.9H44.3ZM105.6 242.3H111.1V247.5H105.6Z"/><path fill="#b6b6b6" d="M228.1 122H233.6V127.2H228.1ZM263.8 122H269.3V127.2H263.8ZM49.4 126.8H54.9V132H49.4ZM54.5 131.6H60V136.8H54.5ZM146.4 136.4H151.9V141.7H146.4ZM187.2 141.2H192.7V146.5H187.2ZM110.7 150.9H116.2V156.1H110.7ZM182.1 165.3H187.6V170.5H182.1ZM233.2 170.1H238.7V175.3H233.2ZM80 179.8H85.5V185H80ZM105.6 194.2H111.1V199.4H105.6ZM258.7 194.2H264.2V199.4H258.7ZM146.4 199H151.9V204.2H146.4ZM207.6 213.4H213.2V218.7H207.6ZM212.8 213.4H218.3V218.7H212.8ZM177 223.1H182.5V228.3H177ZM105.6 232.7H111.1V237.9H105.6ZM105.6 237.5H111.1V242.7H105.6Z"/><path fill="#b7b7b7" d="M161.7 136.4H167.2V141.7H161.7ZM192.3 141.2H197.8V146.5H192.3ZM187.2 146.1H192.7V151.3H187.2ZM54.5 155.7H60V160.9H54.5ZM110.7 155.7H116.2V160.9H110.7ZM110.7 174.9H116.2V180.2H110.7ZM166.8 184.6H172.3V189.8H166.8ZM126 194.2H131.5V199.4H126ZM136.2 194.2H141.7V199.4H136.2ZM74.9 208.6H80.4V213.8H74.9ZM105.6 213.4H111.1V218.7H105.6ZM74.9 218.2H80.4V223.5H74.9ZM253.6 218.2H259.1V223.5H253.6ZM258.7 218.2H264.2V223.5H258.7ZM131.1 227.9H136.6V233.1H131.1ZM207.6 237.5H213.2V242.7H207.6ZM207.6 242.3H213.2V247.5H207.6Z"/><path fill="#b8b8b8" d="M228.1 117.2H233.6V122.4H228.1ZM131.1 136.4H136.6V141.7H131.1ZM177 165.3H182.5V170.5H177ZM228.1 170.1H233.6V175.3H228.1ZM141.3 174.9H146.8V180.2H141.3ZM263.8 194.2H269.3V199.4H263.8ZM212.8 208.6H218.3V213.8H212.8ZM263.8 218.2H269.3V223.5H263.8ZM192.3 223.1H197.8V228.3H192.3Z"/><path fill="#b9b9b9" d="M228.1 112.4H233.6V117.6H228.1ZM44.3 126.8H49.8V132H44.3ZM233.2 146.1H238.7V151.3H233.2ZM228.1 160.5H233.6V165.7H228.1ZM228.1 179.8H233.6V185H228.1ZM233.2 179.8H238.7V185H233.2ZM268.9 194.2H274.4V199.4H268.9ZM274 194.2H279.5V199.4H274ZM279.1 194.2H284.6V199.4H279.1ZM161.7 199H167.2V204.2H161.7ZM85.1 203.8H90.7V209H85.1ZM207.6 208.6H213.2V213.8H207.6ZM80 213.4H85.5V218.7H80ZM248.5 218.2H254V223.5H248.5ZM268.9 218.2H274.4V223.5H268.9ZM274 218.2H279.5V223.5H274ZM279.1 218.2H284.6V223.5H279.1ZM207.6 232.7H213.2V237.9H207.6Z"/><path fill="#bababa" d="M171.9 136.4H177.4V141.7H171.9ZM100.5 160.5H106V165.7H100.5ZM166.8 165.3H172.3V170.5H166.8ZM171.9 165.3H177.4V170.5H171.9ZM64.7 199H70.2V204.2H64.7ZM110.7 199H116.2V204.2H110.7ZM187.2 199H192.7V204.2H187.2ZM253.6 203.8H259.1V209H253.6ZM141.3 213.4H146.8V218.7H141.3ZM202.5 213.4H208V218.7H202.5ZM115.8 242.3H121.3V247.5H115.8Z"/><path fill="#bbbbbb" d="M18.8 126.8H24.3V132H18.8ZM23.9 126.8H29.4V132H23.9ZM29 126.8H34.5V132H29ZM34.1 126.8H39.6V132H34.1ZM39.2 126.8H44.7V132H39.2ZM166.8 136.4H172.3V141.7H166.8ZM197.4 141.2H202.9V146.5H197.4ZM90.2 170.1H95.8V175.3H90.2ZM110.7 170.1H116.2V175.3H110.7ZM192.3 199H197.8V204.2H192.3ZM59.6 203.8H65.1V209H59.6ZM69.8 208.6H75.3V213.8H69.8ZM110.7 227.9H116.2V233.1H110.7ZM248.5 227.9H254V233.1H248.5ZM115.8 237.5H121.3V242.7H115.8Z"/><path fill="#bcbcbc" d="M171.9 122H177.4V127.2H171.9ZM131.1 131.6H136.6V136.8H131.1ZM59.6 136.4H65.1V141.7H59.6ZM177 136.4H182.5V141.7H177ZM233.2 155.7H238.7V160.9H233.2ZM248.5 160.5H254V165.7H248.5ZM146.4 165.3H151.9V170.5H146.4ZM141.3 170.1H146.8V175.3H141.3ZM85.1 174.9H90.7V180.2H85.1ZM228.1 174.9H233.6V180.2H228.1ZM105.6 179.8H111.1V185H105.6ZM80 208.6H85.5V213.8H80ZM100.5 213.4H106V218.7H100.5ZM161.7 223.1H167.2V228.3H161.7ZM115.8 232.7H121.3V237.9H115.8Z"/><path fill="#bdbdbd" d="M146.4 112.4H151.9V117.6H146.4ZM161.7 112.4H167.2V117.6H161.7ZM171.9 112.4H177.4V117.6H171.9ZM243.4 112.4H248.9V117.6H243.4ZM258.7 112.4H264.2V117.6H258.7ZM146.4 117.2H151.9V122.4H146.4ZM161.7 117.2H167.2V122.4H161.7ZM171.9 117.2H177.4V122.4H171.9ZM146.4 122H151.9V127.2H146.4ZM161.7 122H167.2V127.2H161.7ZM131.1 126.8H136.6V132H131.1ZM141.3 136.4H146.8V141.7H141.3ZM202.5 146.1H208V151.3H202.5ZM202.5 160.5H208V165.7H202.5ZM207.6 160.5H213.2V165.7H207.6ZM233.2 174.9H238.7V180.2H233.2ZM80 199H85.5V204.2H80ZM49.4 208.6H54.9V213.8H49.4ZM141.3 208.6H146.8V213.8H141.3Z"/><path fill="#bebebe" d="M131.1 112.4H136.6V117.6H131.1ZM131.1 117.2H136.6V122.4H131.1ZM243.4 117.2H248.9V122.4H243.4ZM258.7 117.2H264.2V122.4H258.7ZM131.1 122H136.6V127.2H131.1ZM146.4 126.8H151.9V132H146.4ZM161.7 126.8H167.2V132H161.7ZM171.9 126.8H177.4V132H171.9ZM228.1 126.8H233.6V132H228.1ZM49.4 131.6H54.9V136.8H49.4ZM223 160.5H228.5V165.7H223ZM202.5 194.2H208V199.4H202.5ZM141.3 199H146.8V204.2H141.3ZM166.8 199H172.3V204.2H166.8ZM44.3 203.8H49.8V209H44.3ZM49.4 218.2H54.9V223.5H49.4ZM223 218.2H228.5V223.5H223ZM243.4 218.2H248.9V223.5H243.4ZM248.5 242.3H254V247.5H248.5Z"/><path fill="#bfbfbf" d="M146.4 131.6H151.9V136.8H146.4ZM161.7 131.6H167.2V136.8H161.7ZM192.3 146.1H197.8V151.3H192.3ZM161.7 165.3H167.2V170.5H161.7ZM212.8 165.3H218.3V170.5H212.8ZM64.7 170.1H70.2V175.3H64.7ZM146.4 174.9H151.9V180.2H146.4ZM131.1 194.2H136.6V199.4H131.1ZM115.8 199H121.3V204.2H115.8ZM110.7 203.8H116.2V209H110.7ZM197.4 203.8H202.9V209H197.4ZM105.6 208.6H111.1V213.8H105.6ZM74.9 213.4H80.4V218.7H74.9ZM141.3 218.2H146.8V223.5H141.3ZM182.1 218.2H187.6V223.5H182.1ZM248.5 232.7H254V237.9H248.5ZM248.5 237.5H254V242.7H248.5Z"/><path fill="#c0c0c0" d="M166.8 112.4H172.3V117.6H166.8ZM166.8 117.2H172.3V122.4H166.8ZM166.8 122H172.3V127.2H166.8ZM136.2 136.4H141.7V141.7H136.2ZM54.5 150.9H60V156.1H54.5ZM105.6 160.5H111.1V165.7H105.6ZM69.8 174.9H75.3V180.2H69.8ZM74.9 179.8H80.4V185H74.9ZM238.3 179.8H243.8V185H238.3ZM34.1 189.4H39.6V194.6H34.1ZM202.5 208.6H208V213.8H202.5ZM187.2 218.2H192.7V223.5H187.2ZM110.7 237.5H116.2V242.7H110.7ZM110.7 242.3H116.2V247.5H110.7Z"/><path fill="#c1c1c1" d="M258.7 122H264.2V127.2H258.7ZM166.8 126.8H172.3V132H166.8ZM171.9 131.6H177.4V136.8H171.9ZM197.4 146.1H202.9V151.3H197.4ZM100.5 165.3H106V170.5H100.5ZM223 170.1H228.5V175.3H223ZM238.3 170.1H243.8V175.3H238.3ZM39.2 199H44.7V204.2H39.2ZM202.5 227.9H208V233.1H202.5Z"/><path fill="#c2c2c2" d="M136.2 112.4H141.7V117.6H136.2ZM141.3 112.4H146.8V117.6H141.3ZM248.5 112.4H254V117.6H248.5ZM253.6 112.4H259.1V117.6H253.6ZM136.2 117.2H141.7V122.4H136.2ZM141.3 117.2H146.8V122.4H141.3ZM136.2 122H141.7V127.2H136.2ZM141.3 122H146.8V127.2H141.3ZM243.4 122H248.9V127.2H243.4ZM243.4 165.3H248.9V170.5H243.4ZM166.8 179.8H172.3V185H166.8ZM182.1 199H187.6V204.2H182.1ZM115.8 203.8H121.3V209H115.8ZM85.1 208.6H90.7V213.8H85.1ZM146.4 208.6H151.9V213.8H146.4ZM151.5 208.6H157V213.8H151.5ZM110.7 232.7H116.2V237.9H110.7Z"/><path fill="#c3c3c3" d="M136.2 126.8H141.7V132H136.2ZM141.3 126.8H146.8V132H141.3ZM166.8 131.6H172.3V136.8H166.8ZM202.5 141.2H208V146.5H202.5ZM233.2 150.9H238.7V156.1H233.2ZM192.3 189.4H197.8V194.6H192.3ZM151.5 199H157V204.2H151.5ZM253.6 199H259.1V204.2H253.6ZM197.4 213.4H202.9V218.7H197.4Z"/><path fill="#c4c4c4" d="M248.5 117.2H254V122.4H248.5ZM253.6 117.2H259.1V122.4H253.6ZM136.2 131.6H141.7V136.8H136.2ZM182.1 136.4H187.6V141.7H182.1ZM29 150.9H34.5V156.1H29ZM100.5 150.9H106V156.1H100.5ZM59.6 165.3H65.1V170.5H59.6ZM105.6 165.3H111.1V170.5H105.6ZM85.1 179.8H90.7V185H85.1ZM156.6 199H162.1V204.2H156.6Z"/><path fill="#c5c5c5" d="M141.3 131.6H146.8V136.8H141.3ZM223 179.8H228.5V185H223ZM182.1 194.2H187.6V199.4H182.1ZM207.6 194.2H213.2V199.4H207.6ZM146.4 203.8H151.9V209H146.4ZM64.7 208.6H70.2V213.8H64.7ZM171.9 213.4H177.4V218.7H171.9ZM217.9 213.4H223.4V218.7H217.9ZM238.3 218.2H243.8V223.5H238.3ZM253.6 223.1H259.1V228.3H253.6ZM131.1 242.3H136.6V247.5H131.1Z"/><path fill="#c6c6c6" d="M18.8 150.9H24.3V156.1H18.8ZM23.9 150.9H29.4V156.1H23.9ZM212.8 155.7H218.3V160.9H212.8ZM146.4 170.1H151.9V175.3H146.4ZM212.8 194.2H218.3V199.4H212.8ZM217.9 203.8H223.4V209H217.9Z"/><path fill="#c7c7c7" d="M253.6 122H259.1V127.2H253.6ZM59.6 146.1H65.1V151.3H59.6ZM156.6 208.6H162.1V213.8H156.6ZM146.4 213.4H151.9V218.7H146.4ZM151.5 213.4H157V218.7H151.5ZM156.6 213.4H162.1V218.7H156.6ZM166.8 213.4H172.3V218.7H166.8ZM228.1 218.2H233.6V223.5H228.1ZM131.1 237.5H136.6V242.7H131.1Z"/><path fill="#c8c8c8" d="M248.5 122H254V127.2H248.5ZM177 131.6H182.5V136.8H177ZM39.2 141.2H44.7V146.5H39.2ZM151.5 165.3H157V170.5H151.5ZM151.5 174.9H157V180.2H151.5ZM223 174.9H228.5V180.2H223ZM238.3 174.9H243.8V180.2H238.3ZM258.7 189.4H264.2V194.6H258.7ZM141.3 203.8H146.8V209H141.3ZM161.7 213.4H167.2V218.7H161.7ZM233.2 218.2H238.7V223.5H233.2Z"/><path fill="#c9c9c9" d="M44.3 131.6H49.8V136.8H44.3ZM29 136.4H34.5V141.7H29ZM105.6 150.9H111.1V156.1H105.6ZM207.6 155.7H213.2V160.9H207.6ZM156.6 165.3H162.1V170.5H156.6ZM171.9 170.1H177.4V175.3H171.9ZM197.4 189.4H202.9V194.6H197.4ZM253.6 194.2H259.1V199.4H253.6ZM105.6 199H111.1V204.2H105.6ZM217.9 199H223.4V204.2H217.9ZM187.2 203.8H192.7V209H187.2ZM90.2 208.6H95.8V213.8H90.2ZM100.5 208.6H106V213.8H100.5ZM69.8 213.4H75.3V218.7H69.8Z"/><path fill="#cacaca" d="M18.8 136.4H24.3V141.7H18.8ZM23.9 136.4H29.4V141.7H23.9ZM54.5 136.4H60V141.7H54.5ZM100.5 155.7H106V160.9H100.5ZM187.2 155.7H192.7V160.9H187.2ZM161.7 203.8H167.2V209H161.7ZM166.8 203.8H172.3V209H166.8ZM192.3 203.8H197.8V209H192.3ZM54.5 208.6H60V213.8H54.5ZM59.6 208.6H65.1V213.8H59.6ZM54.5 213.4H60V218.7H54.5ZM182.1 223.1H187.6V228.3H182.1ZM131.1 232.7H136.6V237.9H131.1Z"/><path fill="#cbcbcb" d="M223 122H228.5V127.2H223ZM177 126.8H182.5V132H177ZM39.2 146.1H44.7V151.3H39.2ZM207.6 146.1H213.2V151.3H207.6ZM202.5 165.3H208V170.5H202.5ZM95.4 170.1H100.9V175.3H95.4ZM228.1 184.6H233.6V189.8H228.1ZM69.8 218.2H75.3V223.5H69.8ZM187.2 223.1H192.7V228.3H187.2Z"/><path fill="#cccccc" d="M177 112.4H182.5V117.6H177ZM34.1 136.4H39.6V141.7H34.1ZM34.1 150.9H39.6V156.1H34.1ZM156.6 174.9H162.1V180.2H156.6ZM187.2 189.4H192.7V194.6H187.2ZM105.6 203.8H111.1V209H105.6ZM182.1 203.8H187.6V209H182.1ZM95.4 208.6H100.9V213.8H95.4ZM177 213.4H182.5V218.7H177Z"/><path fill="#cdcdcd" d="M177 117.2H182.5V122.4H177ZM223 117.2H228.5V122.4H223ZM177 122H182.5V127.2H177ZM263.8 189.4H269.3V194.6H263.8ZM217.9 208.6H223.4V213.8H217.9ZM248.5 213.4H254V218.7H248.5ZM49.4 223.1H54.9V228.3H49.4Z"/><path fill="#cecece" d="M223 112.4H228.5V117.6H223ZM207.6 150.9H213.2V156.1H207.6ZM253.6 160.5H259.1V165.7H253.6ZM207.6 165.3H213.2V170.5H207.6ZM166.8 170.1H172.3V175.3H166.8ZM161.7 174.9H167.2V180.2H161.7ZM59.6 199H65.1V204.2H59.6ZM197.4 208.6H202.9V213.8H197.4ZM258.7 223.1H264.2V228.3H258.7ZM263.8 223.1H269.3V228.3H263.8ZM268.9 223.1H274.4V228.3H268.9ZM274 223.1H279.5V228.3H274ZM279.1 223.1H284.6V228.3H279.1Z"/><path fill="#cfcfcf" d="M39.2 131.6H44.7V136.8H39.2ZM228.1 131.6H233.6V136.8H228.1ZM105.6 155.7H111.1V160.9H105.6ZM243.4 179.8H248.9V185H243.4ZM233.2 184.6H238.7V189.8H233.2ZM268.9 189.4H274.4V194.6H268.9ZM274 189.4H279.5V194.6H274ZM279.1 189.4H284.6V194.6H279.1ZM192.3 213.4H197.8V218.7H192.3ZM69.8 223.1H75.3V228.3H69.8ZM141.3 223.1H146.8V228.3H141.3ZM202.5 242.3H208V247.5H202.5Z"/><path fill="#d0d0d0" d="M34.1 131.6H39.6V136.8H34.1ZM59.6 141.2H65.1V146.5H59.6ZM49.4 155.7H54.9V160.9H49.4ZM54.5 160.5H60V165.7H54.5ZM166.8 174.9H172.3V180.2H166.8ZM223 184.6H228.5V189.8H223ZM202.5 237.5H208V242.7H202.5Z"/><path fill="#d1d1d1" d="M18.8 131.6H24.3V136.8H18.8ZM23.9 131.6H29.4V136.8H23.9ZM29 131.6H34.5V136.8H29ZM187.2 136.4H192.7V141.7H187.2ZM217.9 155.7H223.4V160.9H217.9ZM100.5 184.6H106V189.8H100.5ZM85.1 199H90.7V204.2H85.1ZM151.5 203.8H157V209H151.5ZM171.9 203.8H177.4V209H171.9ZM161.7 208.6H167.2V213.8H161.7Z"/><path fill="#d2d2d2" d="M187.2 150.9H192.7V156.1H187.2ZM151.5 170.1H157V175.3H151.5ZM161.7 170.1H167.2V175.3H161.7ZM217.9 170.1H223.4V175.3H217.9ZM80 184.6H85.5V189.8H80ZM253.6 189.4H259.1V194.6H253.6ZM156.6 203.8H162.1V209H156.6ZM177 203.8H182.5V209H177ZM136.2 227.9H141.7V233.1H136.2Z"/><path fill="#d3d3d3" d="M39.2 136.4H44.7V141.7H39.2ZM49.4 136.4H54.9V141.7H49.4ZM171.9 174.9H177.4V180.2H171.9ZM238.3 184.6H243.8V189.8H238.3ZM100.5 189.4H106V194.6H100.5ZM171.9 199H177.4V204.2H171.9ZM156.6 218.2H162.1V223.5H156.6ZM202.5 232.7H208V237.9H202.5Z"/><path fill="#d4d4d4" d="M59.6 170.1H65.1V175.3H59.6ZM29 184.6H34.5V189.8H29ZM177 199H182.5V204.2H177ZM69.8 227.9H75.3V233.1H69.8Z"/><path fill="#d5d5d5" d="M223 126.8H228.5V132H223ZM49.4 150.9H54.9V156.1H49.4ZM156.6 170.1H162.1V175.3H156.6ZM177 170.1H182.5V175.3H177ZM90.2 203.8H95.8V209H90.2ZM120.9 203.8H126.4V209H120.9ZM69.8 242.3H75.3V247.5H69.8Z"/><path fill="#d6d6d6" d="M182.1 131.6H187.6V136.8H182.1ZM44.3 136.4H49.8V141.7H44.3ZM248.5 165.3H254V170.5H248.5ZM166.8 208.6H172.3V213.8H166.8ZM171.9 208.6H177.4V213.8H171.9ZM54.5 218.2H60V223.5H54.5ZM146.4 218.2H151.9V223.5H146.4ZM253.6 227.9H259.1V233.1H253.6ZM69.8 232.7H75.3V237.9H69.8ZM69.8 237.5H75.3V242.7H69.8Z"/><path fill="#d7d7d7" d="M212.8 150.9H218.3V156.1H212.8ZM90.2 174.9H95.8V180.2H90.2ZM69.8 179.8H75.3V185H69.8ZM100.5 179.8H106V185H100.5ZM23.9 184.6H29.4V189.8H23.9ZM100.5 194.2H106V199.4H100.5ZM217.9 194.2H223.4V199.4H217.9ZM120.9 199H126.4V204.2H120.9ZM54.5 203.8H60V209H54.5ZM100.5 203.8H106V209H100.5ZM59.6 213.4H65.1V218.7H59.6ZM64.7 213.4H70.2V218.7H64.7Z"/><path fill="#d8d8d8" d="M207.6 141.2H213.2V146.5H207.6ZM64.7 174.9H70.2V180.2H64.7ZM105.6 174.9H111.1V180.2H105.6ZM171.9 179.8H177.4V185H171.9ZM18.8 184.6H24.3V189.8H18.8ZM243.4 184.6H248.9V189.8H243.4ZM49.4 203.8H54.9V209H49.4ZM136.2 203.8H141.7V209H136.2Z"/><path fill="#d9d9d9" d="M74.9 184.6H80.4V189.8H74.9ZM182.1 189.4H187.6V194.6H182.1ZM136.2 199H141.7V204.2H136.2ZM192.3 208.6H197.8V213.8H192.3Z"/><path fill="#dadada" d="M23.9 155.7H29.4V160.9H23.9ZM29 155.7H34.5V160.9H29ZM105.6 170.1H111.1V175.3H105.6ZM243.4 170.1H248.9V175.3H243.4ZM171.9 194.2H177.4V199.4H171.9ZM177 208.6H182.5V213.8H177Z"/><path fill="#dbdbdb" d="M202.5 150.9H208V156.1H202.5ZM18.8 155.7H24.3V160.9H18.8ZM202.5 155.7H208V160.9H202.5ZM248.5 179.8H254V185H248.5ZM171.9 184.6H177.4V189.8H171.9ZM212.8 189.4H218.3V194.6H212.8ZM100.5 199H106V204.2H100.5Z"/><path fill="#dcdcdc" d="M248.5 184.6H254V189.8H248.5ZM253.6 242.3H259.1V247.5H253.6Z"/><path fill="#dddddd" d="M228.1 136.4H233.6V141.7H228.1ZM258.7 160.5H264.2V165.7H258.7ZM217.9 184.6H223.4V189.8H217.9ZM171.9 189.4H177.4V194.6H171.9ZM217.9 189.4H223.4V194.6H217.9ZM39.2 194.2H44.7V199.4H39.2ZM44.3 199H49.8V204.2H44.3ZM248.5 208.6H254V213.8H248.5ZM182.1 213.4H187.6V218.7H182.1ZM64.7 218.2H70.2V223.5H64.7ZM197.4 227.9H202.9V233.1H197.4ZM253.6 237.5H259.1V242.7H253.6Z"/><path fill="#dedede" d="M44.3 141.2H49.8V146.5H44.3ZM39.2 150.9H44.7V156.1H39.2ZM243.4 174.9H248.9V180.2H243.4ZM217.9 179.8H223.4V185H217.9ZM253.6 184.6H259.1V189.8H253.6ZM202.5 189.4H208V194.6H202.5ZM126 203.8H131.5V209H126ZM187.2 213.4H192.7V218.7H187.2ZM253.6 232.7H259.1V237.9H253.6Z"/><path fill="#dfdfdf" d="M95.4 203.8H100.9V209H95.4ZM131.1 203.8H136.6V209H131.1Z"/><path fill="#e0e0e0" d="M34.1 155.7H39.6V160.9H34.1ZM100.5 170.1H106V175.3H100.5ZM217.9 174.9H223.4V180.2H217.9ZM85.1 184.6H90.7V189.8H85.1ZM177 194.2H182.5V199.4H177ZM151.5 218.2H157V223.5H151.5ZM136.2 242.3H141.7V247.5H136.2Z"/><path fill="#e1e1e1" d="M44.3 150.9H49.8V156.1H44.3ZM182.1 208.6H187.6V213.8H182.1ZM187.2 208.6H192.7V213.8H187.2ZM59.6 218.2H65.1V223.5H59.6ZM136.2 237.5H141.7V242.7H136.2Z"/><path fill="#e2e2e2" d="M44.3 146.1H49.8V151.3H44.3ZM29 160.5H34.5V165.7H29ZM54.5 165.3H60V170.5H54.5ZM223 213.4H228.5V218.7H223ZM49.4 227.9H54.9V233.1H49.4Z"/><path fill="#e3e3e3" d="M192.3 136.4H197.8V141.7H192.3ZM228.1 155.7H233.6V160.9H228.1ZM18.8 160.5H24.3V165.7H18.8ZM23.9 160.5H29.4V165.7H23.9ZM34.1 184.6H39.6V189.8H34.1ZM156.6 223.1H162.1V228.3H156.6Z"/><path fill="#e4e4e4" d="M258.7 184.6H264.2V189.8H258.7ZM207.6 189.4H213.2V194.6H207.6ZM126 199H131.5V204.2H126ZM136.2 232.7H141.7V237.9H136.2Z"/><path fill="#e5e5e5" d="M95.4 174.9H100.9V180.2H95.4Z"/><path fill="#e6e6e6" d="M212.8 170.1H218.3V175.3H212.8ZM253.6 179.8H259.1V185H253.6ZM131.1 199H136.6V204.2H131.1Z"/><path fill="#e7e7e7" d="M228.1 141.2H233.6V146.5H228.1ZM44.3 155.7H49.8V160.9H44.3ZM49.4 160.5H54.9V165.7H49.4ZM253.6 165.3H259.1V170.5H253.6ZM248.5 170.1H254V175.3H248.5ZM100.5 174.9H106V180.2H100.5ZM243.4 213.4H248.9V218.7H243.4ZM146.4 223.1H151.9V228.3H146.4ZM166.8 227.9H172.3V233.1H166.8ZM171.9 227.9H177.4V233.1H171.9Z"/><path fill="#e8e8e8" d="M34.1 160.5H39.6V165.7H34.1ZM263.8 160.5H269.3V165.7H263.8ZM248.5 203.8H254V209H248.5ZM54.5 223.1H60V228.3H54.5ZM258.7 227.9H264.2V233.1H258.7Z"/><path fill="#e9e9e9" d="M182.1 126.8H187.6V132H182.1ZM187.2 131.6H192.7V136.8H187.2ZM212.8 146.1H218.3V151.3H212.8ZM217.9 150.9H223.4V156.1H217.9ZM253.6 170.1H259.1V175.3H253.6ZM177 174.9H182.5V180.2H177ZM248.5 174.9H254V180.2H248.5ZM253.6 174.9H259.1V180.2H253.6ZM49.4 242.3H54.9V247.5H49.4Z"/><path fill="#eaeaea" d="M223 155.7H228.5V160.9H223ZM258.7 174.9H264.2V180.2H258.7ZM177 189.4H182.5V194.6H177ZM223 189.4H228.5V194.6H223ZM49.4 237.5H54.9V242.7H49.4Z"/><path fill="#ebebeb" d="M54.5 146.1H60V151.3H54.5ZM258.7 170.1H264.2V175.3H258.7ZM263.8 174.9H269.3V180.2H263.8ZM90.2 179.8H95.8V185H90.2ZM248.5 189.4H254V194.6H248.5ZM64.7 223.1H70.2V228.3H64.7Z"/><path fill="#ececec" d="M197.4 136.4H202.9V141.7H197.4ZM202.5 136.4H208V141.7H202.5ZM39.2 155.7H44.7V160.9H39.2ZM274 160.5H279.5V165.7H274ZM279.1 160.5H284.6V165.7H279.1ZM263.8 170.1H269.3V175.3H263.8ZM59.6 174.9H65.1V180.2H59.6ZM268.9 174.9H274.4V180.2H268.9ZM274 174.9H279.5V180.2H274ZM279.1 174.9H284.6V180.2H279.1ZM54.5 199H60V204.2H54.5ZM141.3 227.9H146.8V233.1H141.3ZM49.4 232.7H54.9V237.9H49.4Z"/><path fill="#ededed" d="M223 131.6H228.5V136.8H223ZM268.9 160.5H274.4V165.7H268.9ZM29 165.3H34.5V170.5H29ZM268.9 170.1H274.4V175.3H268.9ZM274 170.1H279.5V175.3H274ZM279.1 170.1H284.6V175.3H279.1ZM69.8 184.6H75.3V189.8H69.8ZM212.8 184.6H218.3V189.8H212.8ZM90.2 199H95.8V204.2H90.2ZM161.7 227.9H167.2V233.1H161.7Z"/><path fill="#eeeeee" d="M217.9 122H223.4V127.2H217.9ZM54.5 141.2H60V146.5H54.5ZM18.8 165.3H24.3V170.5H18.8ZM23.9 165.3H29.4V170.5H23.9ZM54.5 170.1H60V175.3H54.5ZM69.8 194.2H75.3V199.4H69.8ZM177 227.9H182.5V233.1H177Z"/><path fill="#efefef" d="M182.1 112.4H187.6V117.6H182.1ZM217.9 117.2H223.4V122.4H217.9ZM228.1 146.1H233.6V151.3H228.1ZM29 179.8H34.5V185H29ZM263.8 184.6H269.3V189.8H263.8ZM248.5 199H254V204.2H248.5ZM263.8 227.9H269.3V233.1H263.8Z"/><path fill="#f0f0f0" d="M217.9 112.4H223.4V117.6H217.9ZM182.1 117.2H187.6V122.4H182.1ZM258.7 179.8H264.2V185H258.7ZM74.9 194.2H80.4V199.4H74.9ZM197.4 242.3H202.9V247.5H197.4ZM258.7 242.3H264.2V247.5H258.7Z"/><path fill="#f1f1f1" d="M182.1 170.1H187.6V175.3H182.1ZM23.9 179.8H29.4V185H23.9ZM248.5 194.2H254V199.4H248.5ZM49.4 199H54.9V204.2H49.4ZM95.4 199H100.9V204.2H95.4ZM151.5 223.1H157V228.3H151.5ZM279.1 227.9H284.6V233.1H279.1ZM258.7 237.5H264.2V242.7H258.7Z"/><path fill="#f2f2f2" d="M182.1 122H187.6V127.2H182.1ZM18.8 179.8H24.3V185H18.8ZM95.4 179.8H100.9V185H95.4ZM192.3 227.9H197.8V233.1H192.3ZM274 227.9H279.5V233.1H274ZM197.4 237.5H202.9V242.7H197.4Z"/><path fill="#f3f3f3" d="M49.4 141.2H54.9V146.5H49.4ZM34.1 165.3H39.6V170.5H34.1ZM177 179.8H182.5V185H177ZM177 184.6H182.5V189.8H177ZM274 184.6H279.5V189.8H274ZM279.1 184.6H284.6V189.8H279.1ZM39.2 189.4H44.7V194.6H39.2ZM59.6 223.1H65.1V228.3H59.6ZM268.9 227.9H274.4V233.1H268.9ZM258.7 232.7H264.2V237.9H258.7Z"/><path fill="#f4f4f4" d="M49.4 146.1H54.9V151.3H49.4ZM258.7 165.3H264.2V170.5H258.7ZM268.9 184.6H274.4V189.8H268.9Z"/><path fill="#f5f5f5" d="M228.1 150.9H233.6V156.1H228.1ZM192.3 155.7H197.8V160.9H192.3ZM44.3 160.5H49.8V165.7H44.3ZM228.1 189.4H233.6V194.6H228.1Z"/><path fill="#f6f6f6" d="M217.9 126.8H223.4V132H217.9ZM39.2 160.5H44.7V165.7H39.2ZM228.1 213.4H233.6V218.7H228.1ZM197.4 232.7H202.9V237.9H197.4ZM141.3 242.3H146.8V247.5H141.3Z"/><path fill="#f7f7f7" d="M207.6 136.4H213.2V141.7H207.6ZM49.4 165.3H54.9V170.5H49.4ZM212.8 179.8H218.3V185H212.8ZM156.6 227.9H162.1V233.1H156.6ZM141.3 237.5H146.8V242.7H141.3Z"/><path fill="#f8f8f8" d="M223 208.6H228.5V213.8H223Z"/><path fill="#f9f9f9" d="M212.8 174.9H218.3V180.2H212.8ZM34.1 179.8H39.6V185H34.1ZM64.7 194.2H70.2V199.4H64.7ZM223 194.2H228.5V199.4H223ZM141.3 232.7H146.8V237.9H141.3Z"/><path fill="#fafafa" d="M29 170.1H34.5V175.3H29ZM192.3 170.1H197.8V175.3H192.3ZM29 174.9H34.5V180.2H29ZM64.7 179.8H70.2V185H64.7ZM263.8 179.8H269.3V185H263.8ZM146.4 227.9H151.9V233.1H146.4ZM263.8 242.3H269.3V247.5H263.8Z"/><path fill="#fbfbfb" d="M212.8 141.2H218.3V146.5H212.8ZM197.4 155.7H202.9V160.9H197.4ZM18.8 170.1H24.3V175.3H18.8ZM23.9 170.1H29.4V175.3H23.9ZM197.4 170.1H202.9V175.3H197.4ZM207.6 170.1H213.2V175.3H207.6ZM243.4 189.4H248.9V194.6H243.4ZM238.3 213.4H243.8V218.7H238.3ZM151.5 227.9H157V233.1H151.5Z"/><path fill="#fcfcfc" d="M223 136.4H228.5V141.7H223ZM192.3 150.9H197.8V156.1H192.3ZM263.8 165.3H269.3V170.5H263.8ZM18.8 174.9H24.3V180.2H18.8ZM23.9 174.9H29.4V180.2H23.9ZM54.5 174.9H60V180.2H54.5ZM95.4 184.6H100.9V189.8H95.4ZM263.8 237.5H269.3V242.7H263.8ZM171.9 242.3H177.4V247.5H171.9Z"/><path fill="#fdfdfd" d="M217.9 146.1H223.4V151.3H217.9ZM187.2 170.1H192.7V175.3H187.2ZM274 179.8H279.5V185H274ZM279.1 179.8H284.6V185H279.1ZM74.9 189.4H80.4V194.6H74.9ZM44.3 194.2H49.8V199.4H44.3ZM156.6 242.3H162.1V247.5H156.6ZM161.7 242.3H167.2V247.5H161.7ZM166.8 242.3H172.3V247.5H166.8ZM279.1 242.3H284.6V247.5H279.1Z"/><path fill="#fefefe" d="M268.9 179.8H274.4V185H268.9ZM80 194.2H85.5V199.4H80ZM223 203.8H228.5V209H223ZM64.7 227.9H70.2V233.1H64.7ZM182.1 227.9H187.6V233.1H182.1ZM263.8 232.7H269.3V237.9H263.8ZM156.6 237.5H162.1V242.7H156.6ZM171.9 237.5H177.4V242.7H171.9ZM151.5 242.3H157V247.5H151.5ZM274 242.3H279.5V247.5H274Z"/><path fill="#ffffff" d="M187.2 112.4H192.7V117.6H187.2ZM192.3 112.4H197.8V117.6H192.3ZM197.4 112.4H202.9V117.6H197.4ZM202.5 112.4H208V117.6H202.5ZM207.6 112.4H213.2V117.6H207.6ZM212.8 112.4H218.3V117.6H212.8ZM187.2 117.2H192.7V122.4H187.2ZM192.3 117.2H197.8V122.4H192.3ZM197.4 117.2H202.9V122.4H197.4ZM202.5 117.2H208V122.4H202.5ZM207.6 117.2H213.2V122.4H207.6ZM212.8 117.2H218.3V122.4H212.8ZM187.2 122H192.7V127.2H187.2ZM192.3 122H197.8V127.2H192.3ZM197.4 122H202.9V127.2H197.4ZM202.5 122H208V127.2H202.5ZM207.6 122H213.2V127.2H207.6ZM212.8 122H218.3V127.2H212.8ZM187.2 126.8H192.7V132H187.2ZM192.3 126.8H197.8V132H192.3ZM197.4 126.8H202.9V132H197.4ZM202.5 126.8H208V132H202.5ZM207.6 126.8H213.2V132H207.6ZM212.8 126.8H218.3V132H212.8ZM192.3 131.6H197.8V136.8H192.3ZM197.4 131.6H202.9V136.8H197.4ZM202.5 131.6H208V136.8H202.5ZM207.6 131.6H213.2V136.8H207.6ZM212.8 131.6H218.3V136.8H212.8ZM217.9 131.6H223.4V136.8H217.9ZM212.8 136.4H218.3V141.7H212.8ZM217.9 136.4H223.4V141.7H217.9ZM217.9 141.2H223.4V146.5H217.9ZM223 141.2H228.5V146.5H223ZM223 146.1H228.5V151.3H223ZM197.4 150.9H202.9V156.1H197.4ZM223 150.9H228.5V156.1H223ZM39.2 165.3H44.7V170.5H39.2ZM44.3 165.3H49.8V170.5H44.3ZM268.9 165.3H274.4V170.5H268.9ZM274 165.3H279.5V170.5H274ZM279.1 165.3H284.6V170.5H279.1ZM34.1 170.1H39.6V175.3H34.1ZM39.2 170.1H44.7V175.3H39.2ZM44.3 170.1H49.8V175.3H44.3ZM49.4 170.1H54.9V175.3H49.4ZM202.5 170.1H208V175.3H202.5ZM34.1 174.9H39.6V180.2H34.1ZM39.2 174.9H44.7V180.2H39.2ZM44.3 174.9H49.8V180.2H44.3ZM49.4 174.9H54.9V180.2H49.4ZM182.1 174.9H187.6V180.2H182.1ZM187.2 174.9H192.7V180.2H187.2ZM192.3 174.9H197.8V180.2H192.3ZM197.4 174.9H202.9V180.2H197.4ZM202.5 174.9H208V180.2H202.5ZM207.6 174.9H213.2V180.2H207.6ZM39.2 179.8H44.7V185H39.2ZM44.3 179.8H49.8V185H44.3ZM49.4 179.8H54.9V185H49.4ZM54.5 179.8H60V185H54.5ZM59.6 179.8H65.1V185H59.6ZM182.1 179.8H187.6V185H182.1ZM187.2 179.8H192.7V185H187.2ZM192.3 179.8H197.8V185H192.3ZM197.4 179.8H202.9V185H197.4ZM202.5 179.8H208V185H202.5ZM207.6 179.8H213.2V185H207.6ZM39.2 184.6H44.7V189.8H39.2ZM44.3 184.6H49.8V189.8H44.3ZM49.4 184.6H54.9V189.8H49.4ZM54.5 184.6H60V189.8H54.5ZM59.6 184.6H65.1V189.8H59.6ZM64.7 184.6H70.2V189.8H64.7ZM90.2 184.6H95.8V189.8H90.2ZM182.1 184.6H187.6V189.8H182.1ZM187.2 184.6H192.7V189.8H187.2ZM192.3 184.6H197.8V189.8H192.3ZM197.4 184.6H202.9V189.8H197.4ZM202.5 184.6H208V189.8H202.5ZM207.6 184.6H213.2V189.8H207.6ZM44.3 189.4H49.8V194.6H44.3ZM49.4 189.4H54.9V194.6H49.4ZM54.5 189.4H60V194.6H54.5ZM59.6 189.4H65.1V194.6H59.6ZM64.7 189.4H70.2V194.6H64.7ZM69.8 189.4H75.3V194.6H69.8ZM80 189.4H85.5V194.6H80ZM85.1 189.4H90.7V194.6H85.1ZM90.2 189.4H95.8V194.6H90.2ZM95.4 189.4H100.9V194.6H95.4ZM233.2 189.4H238.7V194.6H233.2ZM238.3 189.4H243.8V194.6H238.3ZM49.4 194.2H54.9V199.4H49.4ZM54.5 194.2H60V199.4H54.5ZM59.6 194.2H65.1V199.4H59.6ZM85.1 194.2H90.7V199.4H85.1ZM90.2 194.2H95.8V199.4H90.2ZM95.4 194.2H100.9V199.4H95.4ZM228.1 194.2H233.6V199.4H228.1ZM233.2 194.2H238.7V199.4H233.2ZM238.3 194.2H243.8V199.4H238.3ZM243.4 194.2H248.9V199.4H243.4ZM223 199H228.5V204.2H223ZM228.1 199H233.6V204.2H228.1ZM233.2 199H238.7V204.2H233.2ZM238.3 199H243.8V204.2H238.3ZM243.4 199H248.9V204.2H243.4ZM228.1 203.8H233.6V209H228.1ZM233.2 203.8H238.7V209H233.2ZM238.3 203.8H243.8V209H238.3ZM243.4 203.8H248.9V209H243.4ZM228.1 208.6H233.6V213.8H228.1ZM233.2 208.6H238.7V213.8H233.2ZM238.3 208.6H243.8V213.8H238.3ZM243.4 208.6H248.9V213.8H243.4ZM233.2 213.4H238.7V218.7H233.2ZM54.5 227.9H60V233.1H54.5ZM59.6 227.9H65.1V233.1H59.6ZM187.2 227.9H192.7V233.1H187.2ZM54.5 232.7H60V237.9H54.5ZM59.6 232.7H65.1V237.9H59.6ZM64.7 232.7H70.2V237.9H64.7ZM146.4 232.7H151.9V237.9H146.4ZM151.5 232.7H157V237.9H151.5ZM156.6 232.7H162.1V237.9H156.6ZM161.7 232.7H167.2V237.9H161.7ZM166.8 232.7H172.3V237.9H166.8ZM171.9 232.7H177.4V237.9H171.9ZM177 232.7H182.5V237.9H177ZM182.1 232.7H187.6V237.9H182.1ZM187.2 232.7H192.7V237.9H187.2ZM192.3 232.7H197.8V237.9H192.3ZM268.9 232.7H274.4V237.9H268.9ZM274 232.7H279.5V237.9H274ZM279.1 232.7H284.6V237.9H279.1ZM54.5 237.5H60V242.7H54.5ZM59.6 237.5H65.1V242.7H59.6ZM64.7 237.5H70.2V242.7H64.7ZM146.4 237.5H151.9V242.7H146.4ZM151.5 237.5H157V242.7H151.5ZM161.7 237.5H167.2V242.7H161.7ZM166.8 237.5H172.3V242.7H166.8ZM177 237.5H182.5V242.7H177ZM182.1 237.5H187.6V242.7H182.1ZM187.2 237.5H192.7V242.7H187.2ZM192.3 237.5H197.8V242.7H192.3ZM268.9 237.5H274.4V242.7H268.9ZM274 237.5H279.5V242.7H274ZM279.1 237.5H284.6V242.7H279.1ZM54.5 242.3H60V247.5H54.5ZM59.6 242.3H65.1V247.5H59.6ZM64.7 242.3H70.2V247.5H64.7ZM146.4 242.3H151.9V247.5H146.4ZM177 242.3H182.5V247.5H177ZM182.1 242.3H187.6V247.5H182.1ZM187.2 242.3H192.7V247.5H187.2ZM192.3 242.3H197.8V247.5H192.3ZM268.9 242.3H274.4V247.5H268.9Z"/></g></g>
<rect x="284" y="4" width="34" height="233.5" fill="url(#cbar)"/>
<text x="284.9" y="22.1" font-size="17.6" fill="#111">3E5</text>
<text x="284.9" y="232.7" font-size="17.6" fill="#fff">2E4</text>
<text x="33.8" y="22.9" font-size="18" fill="#fff">FACs</text>
<text x="32.9" y="141.6" font-size="18" fill="#fff">IF-FACs</text>
<rect x="213.2" y="103" width="49" height="6.2" fill="#fff"/>
<rect x="213" y="223.2" width="49.5" height="6" fill="#fff"/>
<text transform="translate(1.1,23.2) scale(0.91,1)" font-size="24" fill="#111">a</text>
<text transform="translate(353,23) scale(0.91,1)" font-size="24" fill="#111">b</text>
<g clip-path="url(#cpb)">
<polyline points="418.2,14.37 420.31,14.37 422.43,14.37 424.55,14.37 426.66,14.37 428.77,14.37 430.89,14.37 433,14.37 435.12,14.37 437.24,14.37 439.35,14.37 441.46,14.37 443.58,14.37 445.69,14.37 447.81,14.37 449.93,14.37 452.04,14.37 454.15,14.37 456.27,14.37 458.38,14.37 460.5,14.37 462.62,14.37 464.73,14.37 466.84,14.37 468.96,14.37 471.07,14.37 473.19,14.37 475.31,14.37 477.42,14.37 479.53,14.37 481.65,14.37 483.76,14.37 485.88,14.37 488,14.37 490.11,14.37 492.23,14.37 494.34,14.37 496.45,14.37 498.57,14.37 500.69,14.37 502.8,14.37 504.91,14.37 507.03,14.37 509.14,14.37 511.26,14.37 513.38,14.37 515.49,14.37 517.61,14.37 519.72,14.37 521.84,14.37 523.95,14.37 526.07,14.37 528.18,14.37 530.29,14.37 532.41,14.37 534.52,14.37 536.64,14.37 538.75,14.37 540.87,14.37 542.99,14.37 545.1,14.37 547.22,14.37 549.33,14.37 551.44,14.37 553.56,14.37 555.67,14.37 557.79,14.37 559.9,14.37 562.02,14.38 564.13,14.38 566.25,14.38 568.37,14.39 570.48,14.39 572.6,14.4 574.71,14.41 576.83,14.42 578.94,14.43 581.06,14.45 583.17,14.47 585.28,14.49 587.4,14.52 589.51,14.56 591.63,14.61 593.75,14.67 595.86,14.74 597.98,14.83 600.09,14.94 602.21,15.08 604.32,15.25 606.43,15.47 608.55,15.74 610.66,16.07 612.78,16.48 614.89,17 617.01,17.63 619.12,18.42 621.24,19.4 623.36,20.62 625.47,22.12 627.59,23.98 629.7,26.28 631.82,29.12 633.93,32.62 636.05,36.93 638.16,42.23 640.27,48.71 642.39,56.63 644.5,66.26 646.62,77.93 648.74,91.98 650.85,108.81 652.97,128.83 655.08,152.46 657.2,180.13 658.25,195.6" fill="none" stroke="#5f93d3" stroke-width="1.4"/>
<polyline points="418.2,14.37 420.31,14.37 422.43,14.37 424.55,14.37 426.66,14.37 428.77,14.37 430.89,14.37 433,14.37 435.12,14.37 437.24,14.37 439.35,14.37 441.46,14.37 443.58,14.37 445.69,14.37 447.81,14.37 449.93,14.37 452.04,14.37 454.15,14.37 456.27,14.37 458.38,14.37 460.5,14.37 462.62,14.37 464.73,14.37 466.84,14.37 468.96,14.37 471.07,14.37 473.19,14.37 475.31,14.37 477.42,14.37 479.53,14.37 481.65,14.37 483.76,14.37 485.88,14.37 488,14.37 490.11,14.37 492.23,14.37 494.34,14.37 496.45,14.37 498.57,14.37 500.69,14.37 502.8,14.37 504.91,14.37 507.03,14.37 509.14,14.37 511.26,14.37 513.38,14.37 515.49,14.37 517.61,14.37 519.72,14.37 521.84,14.37 523.95,14.37 526.07,14.37 528.18,14.37 530.29,14.37 532.41,14.37 534.52,14.37 536.64,14.37 538.75,14.37 540.87,14.37 542.99,14.37 545.1,14.37 547.22,14.37 549.33,14.37 551.44,14.37 553.56,14.37 555.67,14.37 557.79,14.37 559.9,14.37 562.02,14.38 564.13,14.38 566.25,14.38 568.37,14.39 570.48,14.39 572.6,14.4 574.71,14.41 576.83,14.42 578.94,14.43 581.06,14.45 583.17,14.47 585.28,14.49 587.4,14.52 589.51,14.56 591.63,14.61 593.75,14.67 595.86,14.74 597.98,14.83 600.09,14.94 602.21,15.08 604.32,15.25 606.43,15.47 608.55,15.74 610.66,16.07 612.78,16.48 614.89,17 617.01,17.63 619.12,18.42 621.24,19.4 623.36,20.62 625.47,22.12 627.59,23.98 629.7,26.28 631.82,29.12 633.93,32.62 636.05,36.93 638.16,42.23 640.27,48.71 642.39,56.63 644.5,66.26 646.62,77.93 648.74,91.98 650.85,108.81 652.97,128.83 655.08,152.46 657.2,180.13" fill="none" stroke="#5f93d3" stroke-width="1.4"/><circle cx="418.2" cy="14.37" r="3" fill="url(#gb)"/><circle cx="420.31" cy="14.37" r="3" fill="url(#gb)"/><circle cx="422.43" cy="14.37" r="3" fill="url(#gb)"/><circle cx="424.55" cy="14.37" r="3" fill="url(#gb)"/><circle cx="426.66" cy="14.37" r="3" fill="url(#gb)"/><circle cx="428.77" cy="14.37" r="3" fill="url(#gb)"/><circle cx="430.89" cy="14.37" r="3" fill="url(#gb)"/><circle cx="433" cy="14.37" r="3" fill="url(#gb)"/><circle cx="435.12" cy="14.37" r="3" fill="url(#gb)"/><circle cx="437.24" cy="14.37" r="3" fill="url(#gb)"/><circle cx="439.35" cy="14.37" r="3" fill="url(#gb)"/><circle cx="441.46" cy="14.37" r="3" fill="url(#gb)"/><circle cx="443.58" cy="14.37" r="3" fill="url(#gb)"/><circle cx="445.69" cy="14.37" r="3" fill="url(#gb)"/><circle cx="447.81" cy="14.37" r="3" fill="url(#gb)"/><circle cx="449.93" cy="14.37" r="3" fill="url(#gb)"/><circle cx="452.04" cy="14.37" r="3" fill="url(#gb)"/><circle cx="454.15" cy="14.37" r="3" fill="url(#gb)"/><circle cx="456.27" cy="14.37" r="3" fill="url(#gb)"/><circle cx="458.38" cy="14.37" r="3" fill="url(#gb)"/><circle cx="460.5" cy="14.37" r="3" fill="url(#gb)"/><circle cx="462.62" cy="14.37" r="3" fill="url(#gb)"/><circle cx="464.73" cy="14.37" r="3" fill="url(#gb)"/><circle cx="466.84" cy="14.37" r="3" fill="url(#gb)"/><circle cx="468.96" cy="14.37" r="3" fill="url(#gb)"/><circle cx="471.07" cy="14.37" r="3" fill="url(#gb)"/><circle cx="473.19" cy="14.37" r="3" fill="url(#gb)"/><circle cx="475.31" cy="14.37" r="3" fill="url(#gb)"/><circle cx="477.42" cy="14.37" r="3" fill="url(#gb)"/><circle cx="479.53" cy="14.37" r="3" fill="url(#gb)"/><circle cx="481.65" cy="14.37" r="3" fill="url(#gb)"/><circle cx="483.76" cy="14.37" r="3" fill="url(#gb)"/><circle cx="485.88" cy="14.37" r="3" fill="url(#gb)"/><circle cx="488" cy="14.37" r="3" fill="url(#gb)"/><circle cx="490.11" cy="14.37" r="3" fill="url(#gb)"/><circle cx="492.23" cy="14.37" r="3" fill="url(#gb)"/><circle cx="494.34" cy="14.37" r="3" fill="url(#gb)"/><circle cx="496.45" cy="14.37" r="3" fill="url(#gb)"/><circle cx="498.57" cy="14.37" r="3" fill="url(#gb)"/><circle cx="500.69" cy="14.37" r="3" fill="url(#gb)"/><circle cx="502.8" cy="14.37" r="3" fill="url(#gb)"/><circle cx="504.91" cy="14.37" r="3" fill="url(#gb)"/><circle cx="507.03" cy="14.37" r="3" fill="url(#gb)"/><circle cx="509.14" cy="14.37" r="3" fill="url(#gb)"/><circle cx="511.26" cy="14.37" r="3" fill="url(#gb)"/><circle cx="513.38" cy="14.37" r="3" fill="url(#gb)"/><circle cx="515.49" cy="14.37" r="3" fill="url(#gb)"/><circle cx="517.61" cy="14.37" r="3" fill="url(#gb)"/><circle cx="519.72" cy="14.37" r="3" fill="url(#gb)"/><circle cx="521.84" cy="14.37" r="3" fill="url(#gb)"/><circle cx="523.95" cy="14.37" r="3" fill="url(#gb)"/><circle cx="526.07" cy="14.37" r="3" fill="url(#gb)"/><circle cx="528.18" cy="14.37" r="3" fill="url(#gb)"/><circle cx="530.29" cy="14.37" r="3" fill="url(#gb)"/><circle cx="532.41" cy="14.37" r="3" fill="url(#gb)"/><circle cx="534.52" cy="14.37" r="3" fill="url(#gb)"/><circle cx="536.64" cy="14.37" r="3" fill="url(#gb)"/><circle cx="538.75" cy="14.37" r="3" fill="url(#gb)"/><circle cx="540.87" cy="14.37" r="3" fill="url(#gb)"/><circle cx="542.99" cy="14.37" r="3" fill="url(#gb)"/><circle cx="545.1" cy="14.37" r="3" fill="url(#gb)"/><circle cx="547.22" cy="14.37" r="3" fill="url(#gb)"/><circle cx="549.33" cy="14.37" r="3" fill="url(#gb)"/><circle cx="551.44" cy="14.37" r="3" fill="url(#gb)"/><circle cx="553.56" cy="14.37" r="3" fill="url(#gb)"/><circle cx="555.67" cy="14.37" r="3" fill="url(#gb)"/><circle cx="557.79" cy="14.37" r="3" fill="url(#gb)"/><circle cx="559.9" cy="14.37" r="3" fill="url(#gb)"/><circle cx="562.02" cy="14.38" r="3" fill="url(#gb)"/><circle cx="564.13" cy="14.38" r="3" fill="url(#gb)"/><circle cx="566.25" cy="14.38" r="3" fill="url(#gb)"/><circle cx="568.37" cy="14.39" r="3" fill="url(#gb)"/><circle cx="570.48" cy="14.39" r="3" fill="url(#gb)"/><circle cx="572.6" cy="14.4" r="3" fill="url(#gb)"/><circle cx="574.71" cy="14.41" r="3" fill="url(#gb)"/><circle cx="576.83" cy="14.42" r="3" fill="url(#gb)"/><circle cx="578.94" cy="14.43" r="3" fill="url(#gb)"/><circle cx="581.06" cy="14.45" r="3" fill="url(#gb)"/><circle cx="583.17" cy="14.47" r="3" fill="url(#gb)"/><circle cx="585.28" cy="14.49" r="3" fill="url(#gb)"/><circle cx="587.4" cy="14.52" r="3" fill="url(#gb)"/><circle cx="589.51" cy="14.56" r="3" fill="url(#gb)"/><circle cx="591.63" cy="14.61" r="3" fill="url(#gb)"/><circle cx="593.75" cy="14.67" r="3" fill="url(#gb)"/><circle cx="595.86" cy="14.74" r="3" fill="url(#gb)"/><circle cx="597.98" cy="14.83" r="3" fill="url(#gb)"/><circle cx="600.09" cy="14.94" r="3" fill="url(#gb)"/><circle cx="602.21" cy="15.08" r="3" fill="url(#gb)"/><circle cx="604.32" cy="15.25" r="3" fill="url(#gb)"/><circle cx="606.43" cy="15.47" r="3" fill="url(#gb)"/><circle cx="608.55" cy="15.74" r="3" fill="url(#gb)"/><circle cx="610.66" cy="16.07" r="3" fill="url(#gb)"/><circle cx="612.78" cy="16.48" r="3" fill="url(#gb)"/><circle cx="614.89" cy="17" r="3" fill="url(#gb)"/><circle cx="617.01" cy="17.63" r="3" fill="url(#gb)"/><circle cx="619.12" cy="18.42" r="3" fill="url(#gb)"/><circle cx="621.24" cy="19.4" r="3" fill="url(#gb)"/><circle cx="623.36" cy="20.62" r="3" fill="url(#gb)"/><circle cx="625.47" cy="22.12" r="3" fill="url(#gb)"/><circle cx="627.59" cy="23.98" r="3" fill="url(#gb)"/><circle cx="629.7" cy="26.28" r="3" fill="url(#gb)"/><circle cx="631.82" cy="29.12" r="3" fill="url(#gb)"/><circle cx="633.93" cy="32.62" r="3" fill="url(#gb)"/><circle cx="636.05" cy="36.93" r="3" fill="url(#gb)"/><circle cx="638.16" cy="42.23" r="3" fill="url(#gb)"/><circle cx="640.27" cy="48.71" r="3" fill="url(#gb)"/><circle cx="642.39" cy="56.63" r="3" fill="url(#gb)"/><circle cx="644.5" cy="66.26" r="3" fill="url(#gb)"/><circle cx="646.62" cy="77.93" r="3" fill="url(#gb)"/><circle cx="648.74" cy="91.98" r="3" fill="url(#gb)"/><circle cx="650.85" cy="108.81" r="3" fill="url(#gb)"/><circle cx="652.97" cy="128.83" r="3" fill="url(#gb)"/><circle cx="655.08" cy="152.46" r="3" fill="url(#gb)"/><circle cx="657.2" cy="180.13" r="3" fill="url(#gb)"/>
<polyline points="418.2,14.3 420.31,14.32 422.43,14.34 424.55,14.36 426.66,14.38 428.77,14.4 430.89,14.42 433,14.44 435.12,14.46 437.24,14.48 439.35,14.5 441.46,14.52 443.58,14.55 445.69,14.57 447.81,14.59 449.93,14.61 452.04,14.63 454.15,14.65 456.27,14.67 458.38,14.69 460.5,14.71 462.62,14.73 464.73,14.75 466.84,14.77 468.96,14.79 471.07,14.82 473.19,14.84 475.31,14.86 477.42,14.88 479.53,14.9 481.65,14.92 483.76,14.94 485.88,14.96 488,14.98 490.11,15 492.23,15.02 494.34,15.04 496.45,15.06 498.57,15.08 500.69,15.11 502.8,15.13 504.91,15.15 507.03,15.17 509.14,15.19 511.26,15.21 513.38,15.23 515.49,15.25 517.61,15.27 519.72,15.29 521.84,15.31 523.95,15.33 526.07,15.35 528.18,15.38 530.29,15.4 532.41,15.42 534.52,15.44 536.64,15.46 538.75,15.48 540.87,15.5 542.99,15.52 545.1,15.54 547.22,15.56 549.33,15.58 551.44,15.6 553.56,15.62 555.67,15.65 557.79,15.67 559.9,15.69 562.02,15.71 564.13,15.73 566.25,15.75 568.37,15.77 570.48,15.79 572.6,15.81 574.71,15.83 576.83,15.85 578.94,15.87 581.06,15.89 583.17,15.92 585.28,15.94 587.4,15.96 589.51,15.98 591.63,16 593.75,16.02 595.86,16.04 597.98,16.07 600.09,16.09 602.21,16.11 604.32,16.13 606.43,16.16 608.55,16.19 610.66,16.22 612.78,16.25 614.89,16.29 617.01,16.34 619.12,16.39 621.24,16.46 623.36,16.55 625.47,16.67 627.59,16.82 629.7,17.03 631.82,17.31 633.93,17.69 636.05,18.22 638.16,18.94 640.27,19.94 642.39,21.31 644.5,23.19 646.62,25.79 648.74,29.33 650.85,34.16 652.97,40.68 655.08,49.39 657.2,60.88 659.31,75.79 661.43,94.8 663.54,118.5 665.65,147.41 667.77,181.85 668.53,195.6" fill="none" stroke="#e23b24" stroke-width="1.4"/>
<polyline points="418.2,14.3 420.31,14.32 422.43,14.34 424.55,14.36 426.66,14.38 428.77,14.4 430.89,14.42 433,14.44 435.12,14.46 437.24,14.48 439.35,14.5 441.46,14.52 443.58,14.55 445.69,14.57 447.81,14.59 449.93,14.61 452.04,14.63 454.15,14.65 456.27,14.67 458.38,14.69 460.5,14.71 462.62,14.73 464.73,14.75 466.84,14.77 468.96,14.79 471.07,14.82 473.19,14.84 475.31,14.86 477.42,14.88 479.53,14.9 481.65,14.92 483.76,14.94 485.88,14.96 488,14.98 490.11,15 492.23,15.02 494.34,15.04 496.45,15.06 498.57,15.08 500.69,15.11 502.8,15.13 504.91,15.15 507.03,15.17 509.14,15.19 511.26,15.21 513.38,15.23 515.49,15.25 517.61,15.27 519.72,15.29 521.84,15.31 523.95,15.33 526.07,15.35 528.18,15.38 530.29,15.4 532.41,15.42 534.52,15.44 536.64,15.46 538.75,15.48 540.87,15.5 542.99,15.52 545.1,15.54 547.22,15.56 549.33,15.58 551.44,15.6 553.56,15.62 555.67,15.65 557.79,15.67 559.9,15.69 562.02,15.71 564.13,15.73 566.25,15.75 568.37,15.77 570.48,15.79 572.6,15.81 574.71,15.83 576.83,15.85 578.94,15.87 581.06,15.89 583.17,15.92 585.28,15.94 587.4,15.96 589.51,15.98 591.63,16 593.75,16.02 595.86,16.04 597.98,16.07 600.09,16.09 602.21,16.11 604.32,16.13 606.43,16.16 608.55,16.19 610.66,16.22 612.78,16.25 614.89,16.29 617.01,16.34 619.12,16.39 621.24,16.46 623.36,16.55 625.47,16.67 627.59,16.82 629.7,17.03 631.82,17.31 633.93,17.69 636.05,18.22 638.16,18.94 640.27,19.94 642.39,21.31 644.5,23.19 646.62,25.79 648.74,29.33 650.85,34.16 652.97,40.68 655.08,49.39 657.2,60.88 659.31,75.79 661.43,94.8 663.54,118.5 665.65,147.41 667.77,181.85" fill="none" stroke="#e23b24" stroke-width="1.4"/><circle cx="418.2" cy="14.3" r="3" fill="url(#gr)"/><circle cx="420.31" cy="14.32" r="3" fill="url(#gr)"/><circle cx="422.43" cy="14.34" r="3" fill="url(#gr)"/><circle cx="424.55" cy="14.36" r="3" fill="url(#gr)"/><circle cx="426.66" cy="14.38" r="3" fill="url(#gr)"/><circle cx="428.77" cy="14.4" r="3" fill="url(#gr)"/><circle cx="430.89" cy="14.42" r="3" fill="url(#gr)"/><circle cx="433" cy="14.44" r="3" fill="url(#gr)"/><circle cx="435.12" cy="14.46" r="3" fill="url(#gr)"/><circle cx="437.24" cy="14.48" r="3" fill="url(#gr)"/><circle cx="439.35" cy="14.5" r="3" fill="url(#gr)"/><circle cx="441.46" cy="14.52" r="3" fill="url(#gr)"/><circle cx="443.58" cy="14.55" r="3" fill="url(#gr)"/><circle cx="445.69" cy="14.57" r="3" fill="url(#gr)"/><circle cx="447.81" cy="14.59" r="3" fill="url(#gr)"/><circle cx="449.93" cy="14.61" r="3" fill="url(#gr)"/><circle cx="452.04" cy="14.63" r="3" fill="url(#gr)"/><circle cx="454.15" cy="14.65" r="3" fill="url(#gr)"/><circle cx="456.27" cy="14.67" r="3" fill="url(#gr)"/><circle cx="458.38" cy="14.69" r="3" fill="url(#gr)"/><circle cx="460.5" cy="14.71" r="3" fill="url(#gr)"/><circle cx="462.62" cy="14.73" r="3" fill="url(#gr)"/><circle cx="464.73" cy="14.75" r="3" fill="url(#gr)"/><circle cx="466.84" cy="14.77" r="3" fill="url(#gr)"/><circle cx="468.96" cy="14.79" r="3" fill="url(#gr)"/><circle cx="471.07" cy="14.82" r="3" fill="url(#gr)"/><circle cx="473.19" cy="14.84" r="3" fill="url(#gr)"/><circle cx="475.31" cy="14.86" r="3" fill="url(#gr)"/><circle cx="477.42" cy="14.88" r="3" fill="url(#gr)"/><circle cx="479.53" cy="14.9" r="3" fill="url(#gr)"/><circle cx="481.65" cy="14.92" r="3" fill="url(#gr)"/><circle cx="483.76" cy="14.94" r="3" fill="url(#gr)"/><circle cx="485.88" cy="14.96" r="3" fill="url(#gr)"/><circle cx="488" cy="14.98" r="3" fill="url(#gr)"/><circle cx="490.11" cy="15" r="3" fill="url(#gr)"/><circle cx="492.23" cy="15.02" r="3" fill="url(#gr)"/><circle cx="494.34" cy="15.04" r="3" fill="url(#gr)"/><circle cx="496.45" cy="15.06" r="3" fill="url(#gr)"/><circle cx="498.57" cy="15.08" r="3" fill="url(#gr)"/><circle cx="500.69" cy="15.11" r="3" fill="url(#gr)"/><circle cx="502.8" cy="15.13" r="3" fill="url(#gr)"/><circle cx="504.91" cy="15.15" r="3" fill="url(#gr)"/><circle cx="507.03" cy="15.17" r="3" fill="url(#gr)"/><circle cx="509.14" cy="15.19" r="3" fill="url(#gr)"/><circle cx="511.26" cy="15.21" r="3" fill="url(#gr)"/><circle cx="513.38" cy="15.23" r="3" fill="url(#gr)"/><circle cx="515.49" cy="15.25" r="3" fill="url(#gr)"/><circle cx="517.61" cy="15.27" r="3" fill="url(#gr)"/><circle cx="519.72" cy="15.29" r="3" fill="url(#gr)"/><circle cx="521.84" cy="15.31" r="3" fill="url(#gr)"/><circle cx="523.95" cy="15.33" r="3" fill="url(#gr)"/><circle cx="526.07" cy="15.35" r="3" fill="url(#gr)"/><circle cx="528.18" cy="15.38" r="3" fill="url(#gr)"/><circle cx="530.29" cy="15.4" r="3" fill="url(#gr)"/><circle cx="532.41" cy="15.42" r="3" fill="url(#gr)"/><circle cx="534.52" cy="15.44" r="3" fill="url(#gr)"/><circle cx="536.64" cy="15.46" r="3" fill="url(#gr)"/><circle cx="538.75" cy="15.48" r="3" fill="url(#gr)"/><circle cx="540.87" cy="15.5" r="3" fill="url(#gr)"/><circle cx="542.99" cy="15.52" r="3" fill="url(#gr)"/><circle cx="545.1" cy="15.54" r="3" fill="url(#gr)"/><circle cx="547.22" cy="15.56" r="3" fill="url(#gr)"/><circle cx="549.33" cy="15.58" r="3" fill="url(#gr)"/><circle cx="551.44" cy="15.6" r="3" fill="url(#gr)"/><circle cx="553.56" cy="15.62" r="3" fill="url(#gr)"/><circle cx="555.67" cy="15.65" r="3" fill="url(#gr)"/><circle cx="557.79" cy="15.67" r="3" fill="url(#gr)"/><circle cx="559.9" cy="15.69" r="3" fill="url(#gr)"/><circle cx="562.02" cy="15.71" r="3" fill="url(#gr)"/><circle cx="564.13" cy="15.73" r="3" fill="url(#gr)"/><circle cx="566.25" cy="15.75" r="3" fill="url(#gr)"/><circle cx="568.37" cy="15.77" r="3" fill="url(#gr)"/><circle cx="570.48" cy="15.79" r="3" fill="url(#gr)"/><circle cx="572.6" cy="15.81" r="3" fill="url(#gr)"/><circle cx="574.71" cy="15.83" r="3" fill="url(#gr)"/><circle cx="576.83" cy="15.85" r="3" fill="url(#gr)"/><circle cx="578.94" cy="15.87" r="3" fill="url(#gr)"/><circle cx="581.06" cy="15.89" r="3" fill="url(#gr)"/><circle cx="583.17" cy="15.92" r="3" fill="url(#gr)"/><circle cx="585.28" cy="15.94" r="3" fill="url(#gr)"/><circle cx="587.4" cy="15.96" r="3" fill="url(#gr)"/><circle cx="589.51" cy="15.98" r="3" fill="url(#gr)"/><circle cx="591.63" cy="16" r="3" fill="url(#gr)"/><circle cx="593.75" cy="16.02" r="3" fill="url(#gr)"/><circle cx="595.86" cy="16.04" r="3" fill="url(#gr)"/><circle cx="597.98" cy="16.07" r="3" fill="url(#gr)"/><circle cx="600.09" cy="16.09" r="3" fill="url(#gr)"/><circle cx="602.21" cy="16.11" r="3" fill="url(#gr)"/><circle cx="604.32" cy="16.13" r="3" fill="url(#gr)"/><circle cx="606.43" cy="16.16" r="3" fill="url(#gr)"/><circle cx="608.55" cy="16.19" r="3" fill="url(#gr)"/><circle cx="610.66" cy="16.22" r="3" fill="url(#gr)"/><circle cx="612.78" cy="16.25" r="3" fill="url(#gr)"/><circle cx="614.89" cy="16.29" r="3" fill="url(#gr)"/><circle cx="617.01" cy="16.34" r="3" fill="url(#gr)"/><circle cx="619.12" cy="16.39" r="3" fill="url(#gr)"/><circle cx="621.24" cy="16.46" r="3" fill="url(#gr)"/><circle cx="623.36" cy="16.55" r="3" fill="url(#gr)"/><circle cx="625.47" cy="16.67" r="3" fill="url(#gr)"/><circle cx="627.59" cy="16.82" r="3" fill="url(#gr)"/><circle cx="629.7" cy="17.03" r="3" fill="url(#gr)"/><circle cx="631.82" cy="17.31" r="3" fill="url(#gr)"/><circle cx="633.93" cy="17.69" r="3" fill="url(#gr)"/><circle cx="636.05" cy="18.22" r="3" fill="url(#gr)"/><circle cx="638.16" cy="18.94" r="3" fill="url(#gr)"/><circle cx="640.27" cy="19.94" r="3" fill="url(#gr)"/><circle cx="642.39" cy="21.31" r="3" fill="url(#gr)"/><circle cx="644.5" cy="23.19" r="3" fill="url(#gr)"/><circle cx="646.62" cy="25.79" r="3" fill="url(#gr)"/><circle cx="648.74" cy="29.33" r="3" fill="url(#gr)"/><circle cx="650.85" cy="34.16" r="3" fill="url(#gr)"/><circle cx="652.97" cy="40.68" r="3" fill="url(#gr)"/><circle cx="655.08" cy="49.39" r="3" fill="url(#gr)"/><circle cx="657.2" cy="60.88" r="3" fill="url(#gr)"/><circle cx="659.31" cy="75.79" r="3" fill="url(#gr)"/><circle cx="661.43" cy="94.8" r="3" fill="url(#gr)"/><circle cx="663.54" cy="118.5" r="3" fill="url(#gr)"/><circle cx="665.65" cy="147.41" r="3" fill="url(#gr)"/><circle cx="667.77" cy="181.85" r="3" fill="url(#gr)"/>
</g>
<path d="M418.2 9H672V195.6H418.2Z" fill="none" stroke="#1e1e1e" stroke-width="1.5"/>
<text x="411.5" y="201.4" font-size="16" text-anchor="end" fill="#111">0</text>
<text x="411.5" y="166.8" font-size="16" text-anchor="end" fill="#111">5</text>
<text x="411.5" y="132.2" font-size="16" text-anchor="end" fill="#111">10</text>
<text x="411.5" y="97.6" font-size="16" text-anchor="end" fill="#111">15</text>
<text x="411.5" y="63" font-size="16" text-anchor="end" fill="#111">20</text>
<text x="411.5" y="28.4" font-size="16" text-anchor="end" fill="#111">25</text>
<text x="418.2" y="213" font-size="16" text-anchor="middle" fill="#111">0.0</text>
<text x="481.65" y="213" font-size="16" text-anchor="middle" fill="#111">0.3</text>
<text x="545.1" y="213" font-size="16" text-anchor="middle" fill="#111">0.6</text>
<text x="608.55" y="213" font-size="16" text-anchor="middle" fill="#111">0.9</text>
<text x="672" y="213" font-size="16" text-anchor="middle" fill="#111">1.2</text>
<path d="M414.2 195.6H418.2M414.2 161H418.2M414.2 126.4H418.2M414.2 91.8H418.2M414.2 57.2H418.2M414.2 22.6H418.2M415.7 178.3H418.2M415.7 143.7H418.2M415.7 109.1H418.2M415.7 74.5H418.2M415.7 39.9H418.2" stroke="#1e1e1e" stroke-width="1.5" fill="none"/>
<text x="545" y="231" font-size="16.5" text-anchor="middle" fill="#111">Voltage (V)</text>
<text transform="translate(388,101.4) rotate(-90)" font-size="16.6" text-anchor="middle" fill="#111">Current density (mA ·cm<tspan font-size="11" dy="-6">-2</tspan><tspan dy="6">)</tspan></text>
<text x="475.5" y="42.8" font-size="16.5" fill="#111">Area: 0.09 cm<tspan font-size="11" dy="-7">2</tspan></text>
<text x="497.4" y="67.3" font-size="14.3" fill="#6396d4">FACs</text>
<text x="561" y="67.3" font-size="14.3" fill="#e8452e">IF-FACs</text>
<text x="441" y="94" font-size="16" fill="#111"><tspan font-style="italic">J</tspan><tspan font-size="11" dy="4">sc</tspan></text>
<text x="495.5" y="94" font-size="16" fill="#6396d4">26.19</text>
<text x="567.4" y="94" font-size="16" fill="#e8452e">26.20</text>
<text x="440" y="124.8" font-size="16" fill="#111"><tspan font-style="italic">V</tspan><tspan font-size="11" dy="4" font-style="italic">oc</tspan></text>
<text x="496.8" y="124.8" font-size="16" fill="#6396d4">1.134</text>
<text x="568.3" y="124.8" font-size="16" fill="#e8452e">1.182</text>
<text x="440" y="154.5" font-size="16" fill="#111"><tspan font-style="italic">FF</tspan></text>
<text x="496.5" y="154.5" font-size="16" fill="#6396d4">0.822</text>
<text x="570.4" y="154.5" font-size="16" fill="#f22a24">0.859</text>
<text x="431.7" y="183.2" font-size="16" fill="#111">PCE/%</text>
<text x="496.8" y="183.2" font-size="16" fill="#6396d4">24.42</text>
<text x="569.5" y="183.2" font-size="16" fill="#f22a24">26.62</text>
<text transform="translate(1,286.5) scale(1,1)" font-size="24.5" fill="#111">c</text>
<path d="M69.6 311.8H320.5" stroke="#3a3a3a" stroke-width="4.4" stroke-linecap="round" fill="none"/>
<path d="M69.4 302.6H320.5" stroke="#e8452a" stroke-width="4.6" stroke-linecap="round" fill="none"/>
<path d="M69.5 304V468.1M64.4 467.1H69.5" stroke="#e82626" stroke-width="1.1" fill="none"/>
<path d="M64.4 279.6H320.5M64.4 279.6V468.1H320.5" stroke="#1e1e1e" stroke-width="1.5" fill="none"/>
<path d="M320.5 279.6V468.1" stroke="#e8383d" stroke-width="1.5" fill="none"/>
<text x="57.5" y="473.9" font-size="16" text-anchor="end" fill="#222">0</text>
<text x="327.5" y="473.9" font-size="16" fill="#e8383d">0</text>
<text x="57.5" y="411.07" font-size="16" text-anchor="end" fill="#222">10</text>
<text x="327.5" y="411.07" font-size="16" fill="#e8383d">10</text>
<text x="57.5" y="348.23" font-size="16" text-anchor="end" fill="#222">20</text>
<text x="327.5" y="348.23" font-size="16" fill="#e8383d">20</text>
<text x="57.5" y="285.4" font-size="16" text-anchor="end" fill="#222">30</text>
<text x="327.5" y="285.4" font-size="16" fill="#e8383d">30</text>
<text x="64.4" y="488" font-size="16" text-anchor="middle" fill="#111">0</text>
<text x="149.77" y="488" font-size="16" text-anchor="middle" fill="#111">200</text>
<text x="235.13" y="488" font-size="16" text-anchor="middle" fill="#111">400</text>
<text x="320.5" y="488" font-size="16" text-anchor="middle" fill="#111">600</text>
<path d="M60.4 468.1H64.4M60.4 405.27H64.4M60.4 342.43H64.4M60.4 279.6H64.4M61.9 436.68H64.4M61.9 373.85H64.4M61.9 311.02H64.4M64.4 468.1V472.1M149.77 468.1V472.1M235.13 468.1V472.1M320.5 468.1V472.1M107.08 468.1V470.6M192.45 468.1V470.6M277.82 468.1V470.6" stroke="#1e1e1e" stroke-width="1.5" fill="none"/>
<path d="M320.5 468.1H324.5M320.5 405.27H324.5M320.5 342.43H324.5M320.5 279.6H324.5M320.5 436.68H323M320.5 373.85H323M320.5 311.02H323" stroke="#e8383d" stroke-width="1.5" fill="none"/>
<text x="192.7" y="501.3" font-size="16.5" text-anchor="middle" fill="#111">Time (s)</text>
<text transform="translate(32.5,373) rotate(-90)" font-size="16.75" text-anchor="middle" fill="#333">Current density (mA ·cm<tspan font-size="11" dy="-6">-2</tspan><tspan dy="6">)</tspan></text>
<text transform="translate(361,364) rotate(-90)" font-size="17" text-anchor="middle" fill="#e64a35">PCE (%)</text>
<text x="188.1" y="296.6" font-size="16.6" text-anchor="middle" fill="#e8452a">~26.38%</text>
<text x="111" y="331.9" font-size="16.3" fill="#333">24.89 mA·cm<tspan font-size="11" dy="-7">-2</tspan><tspan dy="7">@1.06V</tspan></text>
<text transform="translate(368,286) scale(0.91,1)" font-size="24" fill="#111">d</text>
<rect x="535.5" y="335.8" width="108.1" height="126" fill="url(#phbg)"/>
<text x="562" y="343.5" font-size="9.5" fill="#a4a49c" font-family="Liberation Sans" font-weight="bold">14101/-ABC 2</text>
<rect x="551.7" y="335.8" width="7.9" height="13" fill="#505050"/>
<rect x="620.2" y="335.8" width="6.9" height="13" fill="#505050"/>
<rect x="549.8" y="419" width="8.8" height="4.5" fill="#555553"/>
<rect x="620.2" y="419" width="8.8" height="4.5" fill="#555553"/>
<rect x="547.9" y="348.6" width="14" height="70.4" fill="#4a4644"/>
<rect x="549" y="348.6" width="12.8" height="70.4" fill="#c47564"/>
<rect x="617.3" y="349.6" width="14.2" height="69.4" fill="#4a4644"/>
<rect x="617.3" y="349.6" width="13.1" height="69.4" fill="#c67766"/>
<rect x="561.5" y="345.3" width="56.8" height="78.2" fill="#29292b"/>
<path d="M571.3 346V423M580.1 346V423M588.3 346V423M596.8 346V423M605.4 346V423M612.6 346V423" stroke="#5e5548" stroke-width="0.6" fill="none"/>
<path d="M562.3 423.5V440.4M570.3 423.5V440.4M579.6 423.5V440.4M588.8 423.5V440.4M597.6 423.5V440.4M605.7 423.5V440.4" stroke="#b4b4ac" stroke-width="0.7" fill="none"/>
<rect x="535.5" y="440.4" width="108.1" height="8.9" fill="#777571"/>
<rect x="535.5" y="449.3" width="108.1" height="12.5" fill="url(#rul)"/>
<path d="M536.7 441.2V449.3M538.47 441.2V447.5M540.24 441.2V447.5M542.01 441.2V447.5M543.78 441.2V447.5M545.55 441.2V449.3M547.32 441.2V447.5M549.09 441.2V447.5M550.86 441.2V447.5M552.63 441.2V447.5M554.4 441.2V449.3M556.17 441.2V447.5M557.94 441.2V447.5M559.71 441.2V447.5M561.48 441.2V447.5M563.25 441.2V449.3M565.02 441.2V447.5M566.79 441.2V447.5M568.56 441.2V447.5M570.33 441.2V447.5M572.1 441.2V449.3M573.87 441.2V447.5M575.64 441.2V447.5M577.41 441.2V447.5M579.18 441.2V447.5M580.95 441.2V449.3M582.72 441.2V447.5M584.49 441.2V447.5M586.26 441.2V447.5M588.03 441.2V447.5M589.8 441.2V449.3M591.57 441.2V447.5M593.34 441.2V447.5M595.11 441.2V447.5M596.88 441.2V447.5M598.65 441.2V449.3M600.42 441.2V447.5M602.19 441.2V447.5M603.96 441.2V447.5M605.73 441.2V447.5M607.5 441.2V449.3M609.27 441.2V447.5M611.04 441.2V447.5M612.81 441.2V447.5M614.58 441.2V447.5M616.35 441.2V449.3M618.12 441.2V447.5M619.89 441.2V447.5M621.66 441.2V447.5M623.43 441.2V447.5M625.2 441.2V449.3M626.97 441.2V447.5M628.74 441.2V447.5M630.51 441.2V447.5M632.28 441.2V447.5M634.05 441.2V449.3M635.82 441.2V447.5M637.59 441.2V447.5M639.36 441.2V447.5M641.13 441.2V447.5M642.9 441.2V449.3" stroke="#b2b0a8" stroke-width="0.55" fill="none"/>
<path d="M547 449.3V452.3M556 449.3V452.3M565 449.3V452.3M574 449.3V452.3M582.5 449.3V452.3M591 449.3V452.3M600 449.3V452.3M609 449.3V452.3M617.5 449.3V452.3M626.5 449.3V452.3M635.5 449.3V452.3" stroke="#3c3a38" stroke-width="0.7" fill="none"/>
<text x="544.6" y="461.3" font-size="8.5" text-anchor="middle" fill="#1e1e1c" font-family="Liberation Serif" font-weight="bold">6</text>
<text x="562.3" y="461.3" font-size="8.5" text-anchor="middle" fill="#1e1e1c" font-family="Liberation Serif" font-weight="bold">7</text>
<text x="580" y="461.3" font-size="8.5" text-anchor="middle" fill="#1e1e1c" font-family="Liberation Serif" font-weight="bold">8</text>
<text x="597.6" y="461.3" font-size="8.5" text-anchor="middle" fill="#1e1e1c" font-family="Liberation Serif" font-weight="bold">9</text>
<text x="619.3" y="461.3" font-size="8.5" text-anchor="middle" fill="#1e1e1c" font-family="Liberation Serif" font-weight="bold">10</text>
<text x="637" y="461.3" font-size="8.5" text-anchor="middle" fill="#1e1e1c" font-family="Liberation Serif" font-weight="bold">11</text>
<g clip-path="url(#cpd)">
<polyline points="414.7,286.81 416.06,286.81 417.43,286.81 418.79,286.81 420.16,286.81 421.52,286.81 422.88,286.81 424.25,286.81 425.61,286.81 426.98,286.81 428.34,286.81 429.7,286.81 431.07,286.81 432.43,286.81 433.8,286.81 435.16,286.81 436.52,286.81 437.89,286.81 439.25,286.81 440.62,286.81 441.98,286.81 443.34,286.81 444.71,286.81 446.07,286.81 447.44,286.81 448.8,286.81 450.16,286.81 451.53,286.81 452.89,286.81 454.26,286.81 455.62,286.81 456.98,286.81 458.35,286.81 459.71,286.81 461.08,286.81 462.44,286.81 463.8,287.28 465.17,287.74 466.53,287.73 467.9,287.72 469.26,287.71 470.62,287.7 471.99,287.69 473.35,287.67 474.72,287.66 476.08,287.65 477.44,287.64 478.81,287.63 480.17,287.62 481.54,287.61 482.9,287.59 484.26,287.58 485.63,287.57 486.99,287.56 488.36,287.55 489.72,287.54 491.08,287.53 492.45,287.51 493.81,287.5 495.18,287.49 496.54,287.48 497.9,287.47 499.27,287.46 500.63,287.44 502,287.43 503.36,287.42 504.72,286.91 506.09,286.4 507.45,285.58 508.82,285.35 510.18,286.87 511.54,287.64 512.91,287.66 514.27,287.68 515.64,287.7 517,287.72 518.36,287.75 519.73,287.77 521.09,287.79 522.46,287.81 523.82,287.83 525.18,287.85 526.55,287.88 527.91,287.9 529.28,287.92 530.64,287.94 532,287.96 533.37,287.98 534.73,288.03 536.1,288.09 537.46,288.16 538.82,288.22 540.19,288.29 541.55,288.35 542.92,288.42 544.28,288.49 545.64,288.35 547.01,288.21 548.37,288.07 549.74,287.93 551.1,287.79 552.46,287.65 553.83,287.51 555.19,287.37 556.56,287.23 557.92,287.1 559.28,287.25 560.65,287.4 562.01,287.56 563.38,287.71 564.74,287.86 566.1,288.02 567.47,288.17 568.83,288.32 570.2,288.48 571.56,288.63 572.92,288.78 574.29,288.86 575.65,288.72 577.02,288.58 578.38,288.44 579.74,288.29 581.11,288.15 582.47,288.01 583.84,287.87 585.2,287.73 586.56,287.59 587.93,287.45 589.29,287.31 590.66,287.17 592.02,287.2 593.38,287.27 594.75,287.36 596.11,287.44 597.48,287.52 598.84,287.61 600.2,287.7 601.57,287.8 602.93,287.89 604.3,288 605.66,288.11 607.02,288.22 608.39,288.35 609.75,288.43 611.12,288.49 612.48,288.56 613.84,288.64 615.21,288.74 616.57,288.86 617.94,289.01 619.3,289.2 620.66,289.41 622.03,289.67 623.39,290 624.76,290.39 626.12,290.85 627.48,291.4 628.85,292.04 630.21,292.8 631.58,293.69 632.94,294.75 634.3,295.99 635.67,297.46 637.03,299.19 638.4,301.22 639.76,303.61 641.12,306.42 642.49,309.71 643.85,313.58 645.22,318.11 646.58,323.41 647.94,329.6 649.31,336.81 650.67,345.2 652.04,354.93 653.4,366.2 654.76,379.19 656.13,394.13 657.49,411.24 658.86,430.76 660.22,452.91 661.01,468.2" fill="none" stroke="#e23b24" stroke-width="1.4"/>
<polyline points="414.7,286.81 416.06,286.81 417.43,286.81 418.79,286.81 420.16,286.81 421.52,286.81 422.88,286.81 424.25,286.81 425.61,286.81 426.98,286.81 428.34,286.81 429.7,286.81 431.07,286.81 432.43,286.81 433.8,286.81 435.16,286.81 436.52,286.81 437.89,286.81 439.25,286.81 440.62,286.81 441.98,286.81 443.34,286.81 444.71,286.81 446.07,286.81 447.44,286.81 448.8,286.81 450.16,286.81 451.53,286.81 452.89,286.81 454.26,286.81 455.62,286.81 456.98,286.81 458.35,286.81 459.71,286.81 461.08,286.81 462.44,286.81 463.8,287.28 465.17,287.74 466.53,287.73 467.9,287.72 469.26,287.71 470.62,287.7 471.99,287.69 473.35,287.67 474.72,287.66 476.08,287.65 477.44,287.64 478.81,287.63 480.17,287.62 481.54,287.61 482.9,287.59 484.26,287.58 485.63,287.57 486.99,287.56 488.36,287.55 489.72,287.54 491.08,287.53 492.45,287.51 493.81,287.5 495.18,287.49 496.54,287.48 497.9,287.47 499.27,287.46 500.63,287.44 502,287.43 503.36,287.42 504.72,286.91 506.09,286.4 507.45,285.58 508.82,285.35 510.18,286.87 511.54,287.64 512.91,287.66 514.27,287.68 515.64,287.7 517,287.72 518.36,287.75 519.73,287.77 521.09,287.79 522.46,287.81 523.82,287.83 525.18,287.85 526.55,287.88 527.91,287.9 529.28,287.92 530.64,287.94 532,287.96 533.37,287.98 534.73,288.03 536.1,288.09 537.46,288.16 538.82,288.22 540.19,288.29 541.55,288.35 542.92,288.42 544.28,288.49 545.64,288.35 547.01,288.21 548.37,288.07 549.74,287.93 551.1,287.79 552.46,287.65 553.83,287.51 555.19,287.37 556.56,287.23 557.92,287.1 559.28,287.25 560.65,287.4 562.01,287.56 563.38,287.71 564.74,287.86 566.1,288.02 567.47,288.17 568.83,288.32 570.2,288.48 571.56,288.63 572.92,288.78 574.29,288.86 575.65,288.72 577.02,288.58 578.38,288.44 579.74,288.29 581.11,288.15 582.47,288.01 583.84,287.87 585.2,287.73 586.56,287.59 587.93,287.45 589.29,287.31 590.66,287.17 592.02,287.2 593.38,287.27 594.75,287.36 596.11,287.44 597.48,287.52 598.84,287.61 600.2,287.7 601.57,287.8 602.93,287.89 604.3,288 605.66,288.11 607.02,288.22 608.39,288.35 609.75,288.43 611.12,288.49 612.48,288.56 613.84,288.64 615.21,288.74 616.57,288.86 617.94,289.01 619.3,289.2 620.66,289.41 622.03,289.67 623.39,290 624.76,290.39 626.12,290.85 627.48,291.4 628.85,292.04 630.21,292.8 631.58,293.69 632.94,294.75 634.3,295.99 635.67,297.46 637.03,299.19 638.4,301.22 639.76,303.61 641.12,306.42 642.49,309.71 643.85,313.58 645.22,318.11 646.58,323.41 647.94,329.6 649.31,336.81 650.67,345.2 652.04,354.93 653.4,366.2 654.76,379.19 656.13,394.13 657.49,411.24 658.86,430.76 660.22,452.91" fill="none" stroke="#e23b24" stroke-width="1.4"/><circle cx="414.7" cy="286.81" r="3.1" fill="url(#gr)"/><circle cx="416.06" cy="286.81" r="3.1" fill="url(#gr)"/><circle cx="417.43" cy="286.81" r="3.1" fill="url(#gr)"/><circle cx="418.79" cy="286.81" r="3.1" fill="url(#gr)"/><circle cx="420.16" cy="286.81" r="3.1" fill="url(#gr)"/><circle cx="421.52" cy="286.81" r="3.1" fill="url(#gr)"/><circle cx="422.88" cy="286.81" r="3.1" fill="url(#gr)"/><circle cx="424.25" cy="286.81" r="3.1" fill="url(#gr)"/><circle cx="425.61" cy="286.81" r="3.1" fill="url(#gr)"/><circle cx="426.98" cy="286.81" r="3.1" fill="url(#gr)"/><circle cx="428.34" cy="286.81" r="3.1" fill="url(#gr)"/><circle cx="429.7" cy="286.81" r="3.1" fill="url(#gr)"/><circle cx="431.07" cy="286.81" r="3.1" fill="url(#gr)"/><circle cx="432.43" cy="286.81" r="3.1" fill="url(#gr)"/><circle cx="433.8" cy="286.81" r="3.1" fill="url(#gr)"/><circle cx="435.16" cy="286.81" r="3.1" fill="url(#gr)"/><circle cx="436.52" cy="286.81" r="3.1" fill="url(#gr)"/><circle cx="437.89" cy="286.81" r="3.1" fill="url(#gr)"/><circle cx="439.25" cy="286.81" r="3.1" fill="url(#gr)"/><circle cx="440.62" cy="286.81" r="3.1" fill="url(#gr)"/><circle cx="441.98" cy="286.81" r="3.1" fill="url(#gr)"/><circle cx="443.34" cy="286.81" r="3.1" fill="url(#gr)"/><circle cx="444.71" cy="286.81" r="3.1" fill="url(#gr)"/><circle cx="446.07" cy="286.81" r="3.1" fill="url(#gr)"/><circle cx="447.44" cy="286.81" r="3.1" fill="url(#gr)"/><circle cx="448.8" cy="286.81" r="3.1" fill="url(#gr)"/><circle cx="450.16" cy="286.81" r="3.1" fill="url(#gr)"/><circle cx="451.53" cy="286.81" r="3.1" fill="url(#gr)"/><circle cx="452.89" cy="286.81" r="3.1" fill="url(#gr)"/><circle cx="454.26" cy="286.81" r="3.1" fill="url(#gr)"/><circle cx="455.62" cy="286.81" r="3.1" fill="url(#gr)"/><circle cx="456.98" cy="286.81" r="3.1" fill="url(#gr)"/><circle cx="458.35" cy="286.81" r="3.1" fill="url(#gr)"/><circle cx="459.71" cy="286.81" r="3.1" fill="url(#gr)"/><circle cx="461.08" cy="286.81" r="3.1" fill="url(#gr)"/><circle cx="462.44" cy="286.81" r="3.1" fill="url(#gr)"/><circle cx="463.8" cy="287.28" r="3.1" fill="url(#gr)"/><circle cx="465.17" cy="287.74" r="3.1" fill="url(#gr)"/><circle cx="466.53" cy="287.73" r="3.1" fill="url(#gr)"/><circle cx="467.9" cy="287.72" r="3.1" fill="url(#gr)"/><circle cx="469.26" cy="287.71" r="3.1" fill="url(#gr)"/><circle cx="470.62" cy="287.7" r="3.1" fill="url(#gr)"/><circle cx="471.99" cy="287.69" r="3.1" fill="url(#gr)"/><circle cx="473.35" cy="287.67" r="3.1" fill="url(#gr)"/><circle cx="474.72" cy="287.66" r="3.1" fill="url(#gr)"/><circle cx="476.08" cy="287.65" r="3.1" fill="url(#gr)"/><circle cx="477.44" cy="287.64" r="3.1" fill="url(#gr)"/><circle cx="478.81" cy="287.63" r="3.1" fill="url(#gr)"/><circle cx="480.17" cy="287.62" r="3.1" fill="url(#gr)"/><circle cx="481.54" cy="287.61" r="3.1" fill="url(#gr)"/><circle cx="482.9" cy="287.59" r="3.1" fill="url(#gr)"/><circle cx="484.26" cy="287.58" r="3.1" fill="url(#gr)"/><circle cx="485.63" cy="287.57" r="3.1" fill="url(#gr)"/><circle cx="486.99" cy="287.56" r="3.1" fill="url(#gr)"/><circle cx="488.36" cy="287.55" r="3.1" fill="url(#gr)"/><circle cx="489.72" cy="287.54" r="3.1" fill="url(#gr)"/><circle cx="491.08" cy="287.53" r="3.1" fill="url(#gr)"/><circle cx="492.45" cy="287.51" r="3.1" fill="url(#gr)"/><circle cx="493.81" cy="287.5" r="3.1" fill="url(#gr)"/><circle cx="495.18" cy="287.49" r="3.1" fill="url(#gr)"/><circle cx="496.54" cy="287.48" r="3.1" fill="url(#gr)"/><circle cx="497.9" cy="287.47" r="3.1" fill="url(#gr)"/><circle cx="499.27" cy="287.46" r="3.1" fill="url(#gr)"/><circle cx="500.63" cy="287.44" r="3.1" fill="url(#gr)"/><circle cx="502" cy="287.43" r="3.1" fill="url(#gr)"/><circle cx="503.36" cy="287.42" r="3.1" fill="url(#gr)"/><circle cx="504.72" cy="286.91" r="3.1" fill="url(#gr)"/><circle cx="506.09" cy="286.4" r="3.1" fill="url(#gr)"/><circle cx="507.45" cy="285.58" r="3.1" fill="url(#gr)"/><circle cx="508.82" cy="285.35" r="3.1" fill="url(#gr)"/><circle cx="510.18" cy="286.87" r="3.1" fill="url(#gr)"/><circle cx="511.54" cy="287.64" r="3.1" fill="url(#gr)"/><circle cx="512.91" cy="287.66" r="3.1" fill="url(#gr)"/><circle cx="514.27" cy="287.68" r="3.1" fill="url(#gr)"/><circle cx="515.64" cy="287.7" r="3.1" fill="url(#gr)"/><circle cx="517" cy="287.72" r="3.1" fill="url(#gr)"/><circle cx="518.36" cy="287.75" r="3.1" fill="url(#gr)"/><circle cx="519.73" cy="287.77" r="3.1" fill="url(#gr)"/><circle cx="521.09" cy="287.79" r="3.1" fill="url(#gr)"/><circle cx="522.46" cy="287.81" r="3.1" fill="url(#gr)"/><circle cx="523.82" cy="287.83" r="3.1" fill="url(#gr)"/><circle cx="525.18" cy="287.85" r="3.1" fill="url(#gr)"/><circle cx="526.55" cy="287.88" r="3.1" fill="url(#gr)"/><circle cx="527.91" cy="287.9" r="3.1" fill="url(#gr)"/><circle cx="529.28" cy="287.92" r="3.1" fill="url(#gr)"/><circle cx="530.64" cy="287.94" r="3.1" fill="url(#gr)"/><circle cx="532" cy="287.96" r="3.1" fill="url(#gr)"/><circle cx="533.37" cy="287.98" r="3.1" fill="url(#gr)"/><circle cx="534.73" cy="288.03" r="3.1" fill="url(#gr)"/><circle cx="536.1" cy="288.09" r="3.1" fill="url(#gr)"/><circle cx="537.46" cy="288.16" r="3.1" fill="url(#gr)"/><circle cx="538.82" cy="288.22" r="3.1" fill="url(#gr)"/><circle cx="540.19" cy="288.29" r="3.1" fill="url(#gr)"/><circle cx="541.55" cy="288.35" r="3.1" fill="url(#gr)"/><circle cx="542.92" cy="288.42" r="3.1" fill="url(#gr)"/><circle cx="544.28" cy="288.49" r="3.1" fill="url(#gr)"/><circle cx="545.64" cy="288.35" r="3.1" fill="url(#gr)"/><circle cx="547.01" cy="288.21" r="3.1" fill="url(#gr)"/><circle cx="548.37" cy="288.07" r="3.1" fill="url(#gr)"/><circle cx="549.74" cy="287.93" r="3.1" fill="url(#gr)"/><circle cx="551.1" cy="287.79" r="3.1" fill="url(#gr)"/><circle cx="552.46" cy="287.65" r="3.1" fill="url(#gr)"/><circle cx="553.83" cy="287.51" r="3.1" fill="url(#gr)"/><circle cx="555.19" cy="287.37" r="3.1" fill="url(#gr)"/><circle cx="556.56" cy="287.23" r="3.1" fill="url(#gr)"/><circle cx="557.92" cy="287.1" r="3.1" fill="url(#gr)"/><circle cx="559.28" cy="287.25" r="3.1" fill="url(#gr)"/><circle cx="560.65" cy="287.4" r="3.1" fill="url(#gr)"/><circle cx="562.01" cy="287.56" r="3.1" fill="url(#gr)"/><circle cx="563.38" cy="287.71" r="3.1" fill="url(#gr)"/><circle cx="564.74" cy="287.86" r="3.1" fill="url(#gr)"/><circle cx="566.1" cy="288.02" r="3.1" fill="url(#gr)"/><circle cx="567.47" cy="288.17" r="3.1" fill="url(#gr)"/><circle cx="568.83" cy="288.32" r="3.1" fill="url(#gr)"/><circle cx="570.2" cy="288.48" r="3.1" fill="url(#gr)"/><circle cx="571.56" cy="288.63" r="3.1" fill="url(#gr)"/><circle cx="572.92" cy="288.78" r="3.1" fill="url(#gr)"/><circle cx="574.29" cy="288.86" r="3.1" fill="url(#gr)"/><circle cx="575.65" cy="288.72" r="3.1" fill="url(#gr)"/><circle cx="577.02" cy="288.58" r="3.1" fill="url(#gr)"/><circle cx="578.38" cy="288.44" r="3.1" fill="url(#gr)"/><circle cx="579.74" cy="288.29" r="3.1" fill="url(#gr)"/><circle cx="581.11" cy="288.15" r="3.1" fill="url(#gr)"/><circle cx="582.47" cy="288.01" r="3.1" fill="url(#gr)"/><circle cx="583.84" cy="287.87" r="3.1" fill="url(#gr)"/><circle cx="585.2" cy="287.73" r="3.1" fill="url(#gr)"/><circle cx="586.56" cy="287.59" r="3.1" fill="url(#gr)"/><circle cx="587.93" cy="287.45" r="3.1" fill="url(#gr)"/><circle cx="589.29" cy="287.31" r="3.1" fill="url(#gr)"/><circle cx="590.66" cy="287.17" r="3.1" fill="url(#gr)"/><circle cx="592.02" cy="287.2" r="3.1" fill="url(#gr)"/><circle cx="593.38" cy="287.27" r="3.1" fill="url(#gr)"/><circle cx="594.75" cy="287.36" r="3.1" fill="url(#gr)"/><circle cx="596.11" cy="287.44" r="3.1" fill="url(#gr)"/><circle cx="597.48" cy="287.52" r="3.1" fill="url(#gr)"/><circle cx="598.84" cy="287.61" r="3.1" fill="url(#gr)"/><circle cx="600.2" cy="287.7" r="3.1" fill="url(#gr)"/><circle cx="601.57" cy="287.8" r="3.1" fill="url(#gr)"/><circle cx="602.93" cy="287.89" r="3.1" fill="url(#gr)"/><circle cx="604.3" cy="288" r="3.1" fill="url(#gr)"/><circle cx="605.66" cy="288.11" r="3.1" fill="url(#gr)"/><circle cx="607.02" cy="288.22" r="3.1" fill="url(#gr)"/><circle cx="608.39" cy="288.35" r="3.1" fill="url(#gr)"/><circle cx="609.75" cy="288.43" r="3.1" fill="url(#gr)"/><circle cx="611.12" cy="288.49" r="3.1" fill="url(#gr)"/><circle cx="612.48" cy="288.56" r="3.1" fill="url(#gr)"/><circle cx="613.84" cy="288.64" r="3.1" fill="url(#gr)"/><circle cx="615.21" cy="288.74" r="3.1" fill="url(#gr)"/><circle cx="616.57" cy="288.86" r="3.1" fill="url(#gr)"/><circle cx="617.94" cy="289.01" r="3.1" fill="url(#gr)"/><circle cx="619.3" cy="289.2" r="3.1" fill="url(#gr)"/><circle cx="620.66" cy="289.41" r="3.1" fill="url(#gr)"/><circle cx="622.03" cy="289.67" r="3.1" fill="url(#gr)"/><circle cx="623.39" cy="290" r="3.1" fill="url(#gr)"/><circle cx="624.76" cy="290.39" r="3.1" fill="url(#gr)"/><circle cx="626.12" cy="290.85" r="3.1" fill="url(#gr)"/><circle cx="627.48" cy="291.4" r="3.1" fill="url(#gr)"/><circle cx="628.85" cy="292.04" r="3.1" fill="url(#gr)"/><circle cx="630.21" cy="292.8" r="3.1" fill="url(#gr)"/><circle cx="631.58" cy="293.69" r="3.1" fill="url(#gr)"/><circle cx="632.94" cy="294.75" r="3.1" fill="url(#gr)"/><circle cx="634.3" cy="295.99" r="3.1" fill="url(#gr)"/><circle cx="635.67" cy="297.46" r="3.1" fill="url(#gr)"/><circle cx="637.03" cy="299.19" r="3.1" fill="url(#gr)"/><circle cx="638.4" cy="301.22" r="3.1" fill="url(#gr)"/><circle cx="639.76" cy="303.61" r="3.1" fill="url(#gr)"/><circle cx="641.12" cy="306.42" r="3.1" fill="url(#gr)"/><circle cx="642.49" cy="309.71" r="3.1" fill="url(#gr)"/><circle cx="643.85" cy="313.58" r="3.1" fill="url(#gr)"/><circle cx="645.22" cy="318.11" r="3.1" fill="url(#gr)"/><circle cx="646.58" cy="323.41" r="3.1" fill="url(#gr)"/><circle cx="647.94" cy="329.6" r="3.1" fill="url(#gr)"/><circle cx="649.31" cy="336.81" r="3.1" fill="url(#gr)"/><circle cx="650.67" cy="345.2" r="3.1" fill="url(#gr)"/><circle cx="652.04" cy="354.93" r="3.1" fill="url(#gr)"/><circle cx="653.4" cy="366.2" r="3.1" fill="url(#gr)"/><circle cx="654.76" cy="379.19" r="3.1" fill="url(#gr)"/><circle cx="656.13" cy="394.13" r="3.1" fill="url(#gr)"/><circle cx="657.49" cy="411.24" r="3.1" fill="url(#gr)"/><circle cx="658.86" cy="430.76" r="3.1" fill="url(#gr)"/><circle cx="660.22" cy="452.91" r="3.1" fill="url(#gr)"/>
</g>
<path d="M414.7 279.5H671.4V468.2H414.7Z" fill="none" stroke="#1e1e1e" stroke-width="1.5"/>
<text x="408" y="474" font-size="16" text-anchor="end" fill="#111">0</text>
<text x="408" y="433.1" font-size="16" text-anchor="end" fill="#111">10</text>
<text x="408" y="392.2" font-size="16" text-anchor="end" fill="#111">20</text>
<text x="408" y="351.3" font-size="16" text-anchor="end" fill="#111">30</text>
<text x="408" y="310.4" font-size="16" text-anchor="end" fill="#111">40</text>
<text x="414.7" y="487.5" font-size="16" text-anchor="middle" fill="#111">0</text>
<text x="448.8" y="487.5" font-size="16" text-anchor="middle" fill="#111">1</text>
<text x="482.9" y="487.5" font-size="16" text-anchor="middle" fill="#111">2</text>
<text x="517" y="487.5" font-size="16" text-anchor="middle" fill="#111">3</text>
<text x="551.1" y="487.5" font-size="16" text-anchor="middle" fill="#111">4</text>
<text x="585.2" y="487.5" font-size="16" text-anchor="middle" fill="#111">5</text>
<text x="619.3" y="487.5" font-size="16" text-anchor="middle" fill="#111">6</text>
<text x="653.4" y="487.5" font-size="16" text-anchor="middle" fill="#111">7</text>
<path d="M410.7 468.2H414.7M410.7 427.3H414.7M410.7 386.4H414.7M410.7 345.5H414.7M410.7 304.6H414.7M412.2 447.75H414.7M412.2 406.85H414.7M412.2 365.95H414.7M412.2 325.05H414.7M412.2 284.15H414.7M414.7 468.2V472.2M448.8 468.2V472.2M482.9 468.2V472.2M517 468.2V472.2M551.1 468.2V472.2M585.2 468.2V472.2M619.3 468.2V472.2M653.4 468.2V472.2M431.75 468.2V470.7M465.85 468.2V470.7M499.95 468.2V470.7M534.05 468.2V470.7M568.15 468.2V470.7M602.25 468.2V470.7M636.35 468.2V470.7" stroke="#1e1e1e" stroke-width="1.5" fill="none"/>
<text x="539.8" y="504.8" font-size="16.5" text-anchor="middle" fill="#111">Voltage (V)</text>
<text transform="translate(384.5,368.6) rotate(-90)" font-size="16.5" text-anchor="middle" fill="#111">Current (mA)</text>
<text x="475.5" y="316.2" font-size="14.7" fill="#111">Aperture: 10.86 cm<tspan font-size="10" dy="-7">2</tspan></text>
<text x="432.5" y="344.9" font-size="14.6" fill="#111"><tspan font-style="italic">I</tspan><tspan font-size="9.8" dy="4">sc</tspan><tspan dy="-4">: 44.05 mA</tspan></text>
<text x="432.5" y="379" font-size="14.6" fill="#111"><tspan font-style="italic">V</tspan><tspan font-size="9.8" dy="4">oc</tspan><tspan dy="-4">: 7.17 V</tspan></text>
<text x="432.5" y="414.3" font-size="14.6" fill="#111"><tspan font-style="italic">FF</tspan>: 84.5 %</text>
<text x="432.5" y="444.1" font-size="14.6" fill="#111"><tspan font-style="italic">PCE</tspan>: 24.67 %</text>
</svg>
</body></html>
